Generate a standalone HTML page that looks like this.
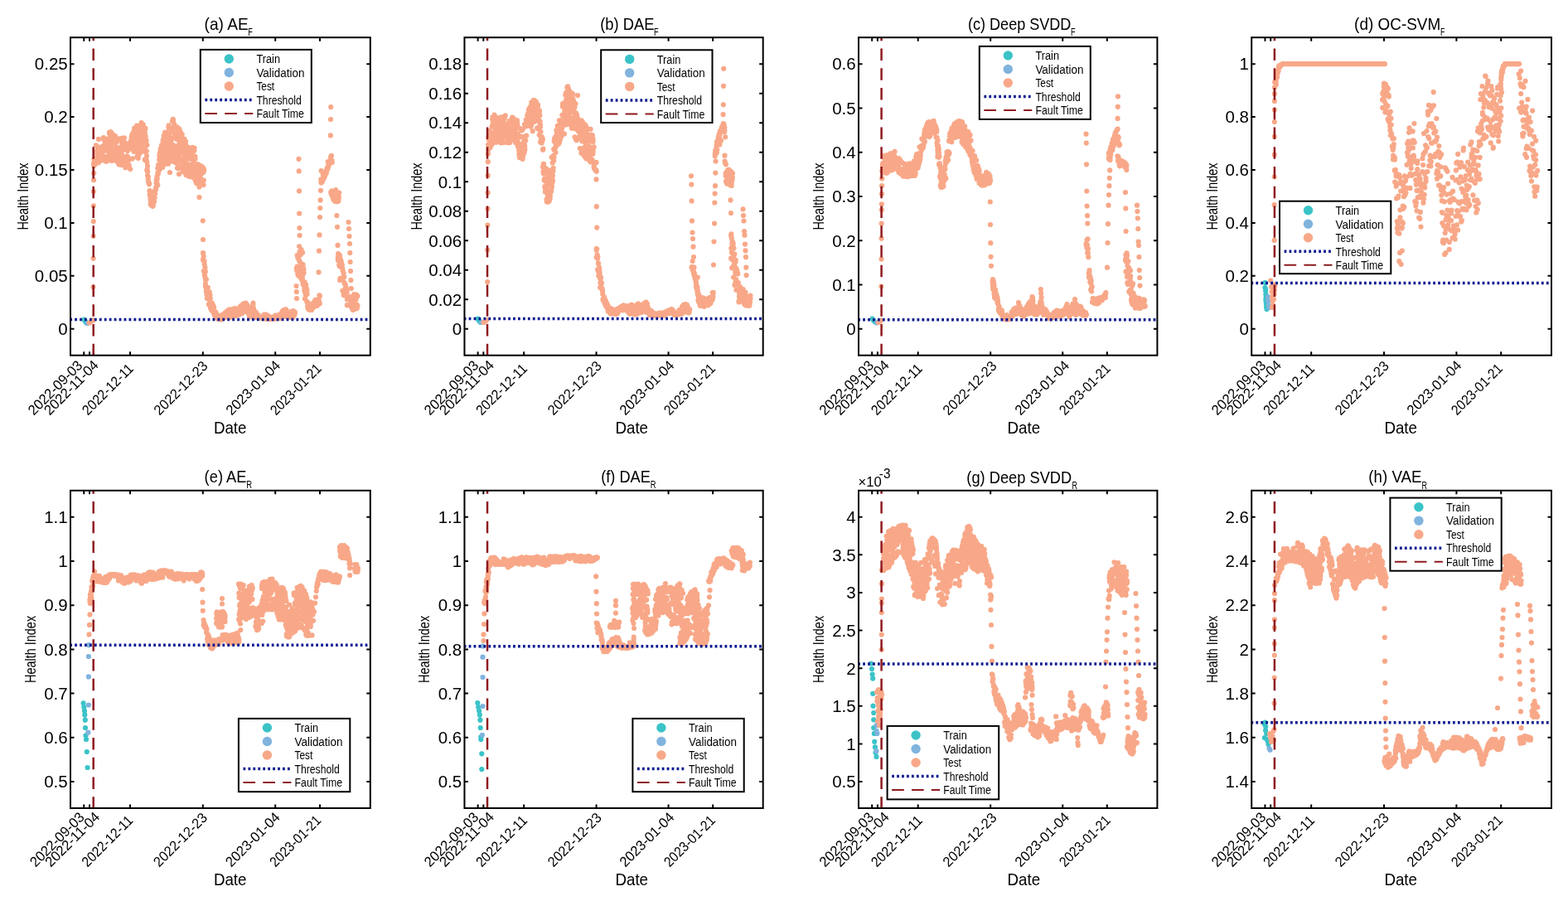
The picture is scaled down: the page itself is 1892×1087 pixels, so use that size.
<!DOCTYPE html>
<html><head><meta charset="utf-8"><title>Health Index</title>
<style>html,body{margin:0;padding:0;background:#fff;}svg{display:block;}</style></head>
<body><svg width="1892" height="1087" viewBox="0 0 1892 1087" font-family='"Liberation Sans", Arial, sans-serif' fill="#000">
<rect width="1892" height="1087" fill="#fff"/>
<clipPath id="cpa"><rect x="85.00" y="45.20" width="361.80" height="383.50"/></clipPath>
<g clip-path="url(#cpa)">
<path d="M101.5 385.5h0M102.6 387.3h0M103.6 388.8h0M104.4 389.8h0" stroke="#3bc3c8" stroke-width="6.2" stroke-linecap="round" fill="none"/>
<path d="M105.3 390.0h0" stroke="#80b3de" stroke-width="6.2" stroke-linecap="round" fill="none"/>
<path d="M113.1 199.1h0M113.2 199.3h0M113.1 196.7h0M113.5 192.2h0M114.1 199.1h0M114.2 195.1h0M114.1 192.0h0M114.5 197.0h0M115.0 193.1h0M115.4 197.7h0M115.3 194.0h0M115.7 195.2h0M115.9 175.3h0M115.7 193.7h0M116.5 192.2h0M116.8 190.0h0M117.1 185.7h0M116.5 194.7h0M117.4 181.4h0M117.0 182.0h0M117.2 181.8h0M117.7 196.1h0M118.2 185.8h0M117.9 177.4h0M118.8 196.2h0M118.1 190.7h0M118.9 191.7h0M118.9 188.9h0M119.0 190.0h0M118.8 187.7h0M119.0 167.9h0M119.3 185.9h0M119.5 194.3h0M120.2 194.5h0M120.1 193.3h0M120.1 187.4h0M120.3 184.0h0M120.6 191.4h0M121.2 190.7h0M120.9 190.3h0M121.7 189.5h0M121.8 177.7h0M122.2 182.5h0M121.8 186.2h0M122.3 193.2h0M122.7 189.2h0M122.7 191.8h0M123.1 184.8h0M123.5 191.6h0M123.3 183.9h0M123.6 181.4h0M124.0 176.3h0M124.4 189.3h0M124.2 192.4h0M124.8 167.8h0M125.0 193.3h0M125.3 189.3h0M124.9 166.1h0M125.2 189.1h0M125.3 188.6h0M125.6 180.7h0M125.8 188.6h0M126.6 170.8h0M126.9 174.5h0M126.7 173.0h0M126.7 181.6h0M127.3 192.7h0M127.5 190.3h0M127.9 194.7h0M127.9 194.1h0M128.2 194.7h0M128.8 194.6h0M128.4 172.8h0M129.1 181.9h0M129.3 194.1h0M129.3 168.4h0M129.2 171.7h0M129.4 189.2h0M129.9 192.2h0M129.5 190.7h0M130.1 167.6h0M130.1 177.4h0M130.7 182.6h0M130.4 182.8h0M130.5 178.3h0M131.3 170.4h0M131.4 182.0h0M131.0 175.3h0M131.8 188.8h0M131.9 159.8h0M132.1 187.0h0M132.0 176.3h0M132.0 161.1h0M132.6 166.2h0M132.7 178.1h0M132.9 159.7h0M133.3 159.0h0M132.9 184.5h0M133.5 161.4h0M133.0 168.4h0M133.5 161.5h0M133.3 173.2h0M133.5 159.7h0M133.7 182.8h0M134.3 160.0h0M133.7 170.8h0M134.0 167.4h0M133.9 170.1h0M134.7 162.4h0M134.1 175.2h0M135.0 173.5h0M135.0 180.4h0M135.3 186.1h0M134.8 193.9h0M135.1 180.0h0M135.1 192.2h0M135.7 166.6h0M135.3 187.3h0M135.7 169.3h0M136.4 165.4h0M136.3 162.3h0M136.3 163.9h0M136.4 170.6h0M136.9 193.1h0M137.2 172.6h0M137.0 181.9h0M137.7 169.6h0M137.6 166.5h0M137.9 165.9h0M138.3 190.0h0M138.1 170.5h0M138.9 189.9h0M138.7 187.6h0M139.0 164.0h0M139.0 166.3h0M139.3 179.1h0M139.5 184.3h0M140.0 185.0h0M140.0 172.0h0M140.4 188.9h0M140.1 177.9h0M140.5 194.3h0M140.6 183.6h0M140.7 168.9h0M141.1 185.9h0M141.8 178.5h0M141.1 187.2h0M141.8 195.4h0M142.0 193.6h0M141.8 167.3h0M142.0 189.0h0M142.2 189.8h0M142.4 195.0h0M142.4 192.8h0M142.6 178.3h0M142.6 196.4h0M142.8 191.2h0M143.2 195.9h0M143.0 179.0h0M143.1 196.2h0M143.4 198.3h0M143.9 167.4h0M144.0 196.6h0M144.2 193.4h0M144.6 197.5h0M144.3 189.4h0M145.0 188.0h0M145.0 195.1h0M145.1 183.1h0M145.8 194.8h0M145.7 199.0h0M145.9 188.3h0M146.2 170.8h0M146.7 185.0h0M147.2 174.6h0M147.4 166.6h0M147.2 176.3h0M147.8 193.2h0M147.5 191.1h0M148.0 177.8h0M148.0 198.9h0M148.6 171.3h0M148.6 180.8h0M148.6 173.7h0M149.3 169.7h0M149.0 189.2h0M149.3 170.6h0M150.0 166.3h0M150.1 172.3h0M149.8 173.8h0M150.1 175.0h0M150.6 173.0h0M150.4 175.1h0M150.5 178.0h0M150.5 189.9h0M150.6 172.2h0M150.9 191.1h0M151.7 191.5h0M151.6 191.4h0M151.5 189.1h0M151.5 202.2h0M151.8 195.5h0M152.4 194.2h0M151.8 190.1h0M152.1 178.5h0M152.9 190.6h0M152.5 197.2h0M152.9 188.4h0M153.2 201.1h0M153.3 178.5h0M153.7 177.4h0M153.5 190.5h0M153.9 182.1h0M154.1 189.0h0M154.6 175.6h0M154.7 174.8h0M155.0 179.2h0M154.7 175.8h0M155.1 198.8h0M155.3 178.9h0M155.6 175.7h0M155.8 174.3h0M155.7 179.6h0M156.0 192.8h0M156.5 179.5h0M155.8 199.6h0M156.5 172.7h0M156.6 175.4h0M157.2 204.0h0M156.8 172.8h0M157.3 171.5h0M157.9 170.2h0M158.0 169.8h0M157.7 171.3h0M158.7 168.1h0M158.3 175.8h0M158.6 166.8h0M158.8 167.7h0M158.8 165.4h0M158.8 165.0h0M159.6 167.1h0M159.1 172.1h0M159.4 162.4h0M160.0 162.0h0M159.7 164.8h0M160.1 161.4h0M159.8 191.4h0M160.2 172.4h0M160.3 180.4h0M160.5 160.5h0M160.7 162.3h0M160.9 176.7h0M160.8 162.2h0M161.1 179.3h0M161.6 182.8h0M161.4 166.4h0M161.6 165.0h0M162.2 158.2h0M161.8 157.5h0M162.7 181.1h0M162.4 171.4h0M162.5 169.2h0M162.2 154.7h0M162.5 182.7h0M163.1 172.2h0M163.2 174.6h0M163.2 178.6h0M163.5 157.7h0M163.5 177.3h0M163.2 160.6h0M164.2 179.3h0M163.8 180.0h0M164.3 155.1h0M164.0 179.4h0M164.8 166.9h0M164.6 163.4h0M165.0 172.6h0M164.7 162.0h0M165.1 151.7h0M164.7 160.3h0M165.1 180.7h0M165.6 168.7h0M165.1 160.5h0M165.4 189.4h0M165.3 174.1h0M165.8 167.8h0M165.7 168.5h0M166.0 188.2h0M166.1 188.2h0M166.1 180.7h0M166.8 169.7h0M166.6 181.9h0M167.0 185.3h0M167.2 184.8h0M166.8 190.8h0M167.0 183.4h0M167.5 164.2h0M167.4 187.0h0M167.2 183.0h0M167.3 157.1h0M168.2 185.5h0M168.2 182.5h0M168.1 177.3h0M167.9 152.0h0M168.4 168.3h0M168.5 161.4h0M168.8 164.8h0M169.1 162.7h0M169.3 165.8h0M168.9 162.7h0M169.5 171.9h0M169.7 171.6h0M170.0 159.0h0M169.6 175.9h0M170.1 163.1h0M170.3 181.4h0M170.3 150.8h0M170.1 176.4h0M170.6 148.2h0M170.7 172.8h0M170.9 182.9h0M170.8 169.8h0M171.8 151.8h0M171.5 172.0h0M171.7 150.1h0M171.6 156.9h0M172.4 151.1h0M171.9 151.3h0M172.7 150.2h0M172.9 154.4h0M172.6 168.8h0M172.5 158.3h0M173.2 179.5h0M173.2 168.3h0M173.3 170.6h0M173.8 170.4h0M174.0 170.5h0M174.2 156.1h0M173.6 155.0h0M173.6 169.8h0M174.2 165.5h0M174.1 162.1h0M174.7 192.7h0M174.8 161.8h0M174.9 177.7h0M174.9 160.6h0M174.7 164.4h0M175.0 156.2h0M175.6 183.1h0M175.4 165.6h0M175.5 154.8h0M176.1 172.0h0M175.7 164.8h0M176.5 169.4h0M176.4 192.2h0M176.8 182.3h0M176.4 170.3h0M176.8 194.0h0M177.0 188.1h0M177.3 195.6h0M177.4 175.1h0M177.7 205.3h0M177.2 205.6h0M177.6 204.6h0M178.0 200.2h0M178.0 212.1h0M178.1 207.2h0M178.8 213.2h0M178.8 216.6h0M179.0 219.1h0M179.6 220.4h0M179.9 222.3h0M179.6 220.5h0M180.3 221.8h0M180.5 230.2h0M180.8 233.3h0M180.7 235.3h0M181.1 235.1h0M181.5 240.9h0M181.4 237.5h0M181.7 246.4h0M181.9 243.9h0M182.5 240.2h0M182.4 247.4h0M182.7 235.9h0M182.8 245.2h0M183.1 246.0h0M183.6 245.3h0M183.6 244.6h0M184.0 243.9h0M184.2 232.8h0M184.3 248.8h0M184.5 246.8h0M184.5 243.4h0M184.9 248.0h0M185.1 237.3h0M185.4 238.8h0M185.8 242.7h0M186.1 243.2h0M185.9 232.3h0M186.2 230.9h0M186.7 238.6h0M186.9 233.1h0M187.2 230.2h0M187.3 230.5h0M187.2 233.6h0M188.2 226.2h0M188.0 228.8h0M187.9 227.7h0M188.5 220.8h0M189.1 218.3h0M188.7 216.9h0M189.2 218.8h0M188.9 216.7h0M189.7 215.9h0M189.5 212.9h0M190.3 223.2h0M190.4 208.7h0M190.6 209.8h0M190.4 203.0h0M191.0 209.6h0M191.3 200.0h0M191.1 198.9h0M191.4 199.1h0M191.8 204.2h0M191.7 200.1h0M191.9 199.0h0M192.2 192.8h0M192.4 205.1h0M192.3 187.9h0M193.1 186.0h0M192.9 184.4h0M193.2 185.8h0M193.6 196.5h0M193.6 180.5h0M193.7 179.6h0M193.8 182.3h0M193.9 200.3h0M194.3 179.5h0M194.2 202.5h0M194.6 196.6h0M194.9 178.0h0M194.7 177.9h0M195.0 175.3h0M195.5 184.4h0M195.7 185.6h0M195.8 200.1h0M196.3 190.7h0M196.5 173.5h0M196.6 169.9h0M196.9 195.7h0M196.4 201.7h0M197.1 167.8h0M197.1 174.6h0M197.5 188.3h0M197.7 170.2h0M197.4 178.6h0M197.8 163.5h0M197.9 189.5h0M198.4 175.3h0M198.2 189.8h0M198.6 180.9h0M198.4 185.1h0M199.1 168.1h0M198.9 192.5h0M199.4 162.2h0M199.0 159.9h0M199.2 160.8h0M199.1 168.5h0M199.9 165.1h0M199.8 184.8h0M199.9 162.3h0M199.7 183.9h0M200.1 171.9h0M199.9 197.8h0M200.6 159.6h0M200.7 171.5h0M201.1 160.7h0M200.3 188.4h0M200.8 174.8h0M201.1 162.1h0M200.8 191.5h0M201.5 163.7h0M201.4 160.8h0M201.6 176.6h0M201.3 180.3h0M202.0 173.8h0M201.9 168.7h0M202.1 185.4h0M202.7 180.5h0M202.7 178.3h0M202.7 165.3h0M202.6 176.9h0M203.2 197.2h0M203.3 196.1h0M203.4 179.8h0M203.1 197.6h0M203.4 153.4h0M203.3 168.6h0M204.1 164.6h0M203.6 151.3h0M204.1 193.5h0M204.1 177.7h0M204.4 172.8h0M204.1 154.8h0M204.2 177.9h0M204.8 176.2h0M204.4 176.2h0M205.0 191.2h0M205.2 185.0h0M205.6 185.3h0M205.7 169.1h0M205.5 194.6h0M205.7 171.4h0M205.9 189.4h0M206.1 187.9h0M206.5 175.5h0M206.0 193.7h0M206.1 191.3h0M206.5 178.0h0M206.5 170.1h0M207.3 167.6h0M207.1 185.0h0M207.4 177.1h0M207.0 159.4h0M207.3 192.7h0M207.4 194.5h0M207.9 146.2h0M207.7 174.4h0M208.2 192.2h0M207.9 188.6h0M208.6 146.2h0M208.2 181.6h0M208.6 175.8h0M209.0 186.9h0M209.0 144.4h0M208.8 154.1h0M208.7 143.9h0M209.3 186.0h0M209.1 166.2h0M209.4 189.8h0M209.6 188.7h0M209.8 148.8h0M209.7 193.8h0M210.5 193.3h0M210.0 175.5h0M210.9 193.6h0M210.8 152.6h0M210.7 193.8h0M210.8 176.2h0M210.9 195.4h0M211.2 162.5h0M211.5 193.6h0M211.4 195.9h0M211.2 192.9h0M211.8 188.5h0M211.9 186.3h0M212.2 195.4h0M212.1 177.9h0M211.9 154.2h0M212.2 192.7h0M212.5 159.6h0M212.3 195.4h0M212.6 191.6h0M212.9 193.4h0M212.8 153.5h0M213.2 165.9h0M212.9 152.9h0M213.5 183.0h0M213.1 167.8h0M213.3 194.4h0M213.6 190.7h0M213.7 156.6h0M214.1 161.2h0M214.0 202.8h0M214.7 168.7h0M214.2 191.2h0M214.7 199.2h0M214.6 154.3h0M215.0 183.6h0M215.0 198.2h0M215.3 187.3h0M215.4 201.9h0M215.5 203.2h0M215.0 163.3h0M215.6 175.2h0M215.8 194.3h0M215.4 188.0h0M215.7 161.1h0M216.3 200.8h0M216.2 160.8h0M216.1 161.6h0M216.5 155.9h0M216.7 186.4h0M217.0 170.4h0M217.1 158.4h0M217.0 162.2h0M217.2 159.2h0M217.5 168.3h0M217.3 173.5h0M217.7 166.1h0M217.9 163.9h0M217.5 158.9h0M217.5 169.9h0M217.9 179.1h0M218.2 203.3h0M218.3 160.9h0M218.0 174.0h0M218.8 169.8h0M218.7 164.0h0M219.1 192.1h0M218.8 179.0h0M219.3 193.9h0M219.2 162.4h0M219.1 171.4h0M219.7 162.1h0M219.7 203.3h0M220.1 177.9h0M219.6 183.5h0M220.7 169.3h0M220.2 168.6h0M220.7 195.7h0M221.4 172.2h0M221.1 207.2h0M221.2 169.4h0M221.3 206.0h0M221.4 175.1h0M221.6 201.2h0M222.3 176.1h0M222.0 184.8h0M222.4 182.6h0M222.5 168.1h0M222.7 189.1h0M222.6 173.1h0M222.3 167.6h0M223.0 197.4h0M223.3 192.3h0M223.1 197.4h0M223.5 179.8h0M223.6 172.2h0M223.4 191.8h0M224.1 174.5h0M224.0 170.5h0M224.2 193.0h0M224.2 178.3h0M224.9 179.0h0M224.7 199.6h0M224.7 176.3h0M224.4 210.9h0M225.1 189.0h0M224.9 202.9h0M224.9 181.5h0M225.5 200.5h0M225.8 184.4h0M225.6 206.7h0M225.9 190.7h0M226.1 210.5h0M226.1 211.5h0M226.0 183.7h0M226.2 188.6h0M226.1 197.8h0M226.7 206.8h0M226.9 188.4h0M227.0 209.2h0M226.9 210.0h0M227.3 210.6h0M227.5 204.1h0M227.6 178.1h0M228.0 212.0h0M227.9 199.3h0M228.1 212.8h0M228.6 212.1h0M228.9 208.1h0M228.8 204.0h0M229.1 191.7h0M228.8 211.6h0M229.2 212.9h0M229.4 179.4h0M229.4 210.6h0M229.6 182.0h0M230.0 205.9h0M230.6 205.7h0M230.8 183.6h0M230.7 211.8h0M230.9 187.9h0M231.2 186.6h0M230.9 198.4h0M231.1 191.5h0M231.5 204.2h0M231.3 201.5h0M232.0 208.8h0M232.3 183.2h0M231.8 181.1h0M232.3 177.9h0M232.4 198.7h0M232.2 185.0h0M232.6 187.5h0M232.4 198.2h0M232.7 188.8h0M233.2 180.1h0M233.1 214.0h0M233.5 201.3h0M233.9 200.6h0M233.6 194.3h0M233.9 204.8h0M234.1 206.5h0M234.4 181.7h0M234.8 208.2h0M234.6 178.7h0M234.7 200.4h0M234.7 199.4h0M235.4 188.9h0M235.4 215.7h0M235.4 214.7h0M235.5 191.8h0M235.7 209.0h0M235.7 218.0h0M235.8 215.5h0M236.0 203.6h0M236.6 208.6h0M236.4 215.7h0M236.8 218.0h0M237.1 221.0h0M237.2 217.5h0M238.0 218.9h0M237.8 208.9h0M238.0 214.3h0M237.8 218.8h0M238.1 213.3h0M238.7 205.8h0M238.3 216.1h0M238.5 198.0h0M238.8 204.1h0M239.6 217.8h0M239.3 219.1h0M239.7 205.0h0M240.4 225.6h0M239.9 219.0h0M240.1 218.5h0M240.9 216.1h0M241.0 206.9h0M240.9 206.9h0M241.2 199.7h0M241.3 200.3h0M241.7 203.9h0M241.9 220.0h0M241.6 218.2h0M242.1 200.8h0M241.9 214.9h0M242.6 205.1h0M242.8 202.2h0M243.2 216.8h0M243.1 201.6h0M243.0 200.5h0M243.2 209.6h0M243.2 205.1h0M243.6 201.4h0M243.7 204.5h0M244.4 221.8h0M243.9 204.8h0M244.3 201.9h0M245.2 203.1h0M245.1 207.9h0M245.0 202.5h0M245.6 223.1h0M245.6 204.3h0M245.8 217.5h0M246.1 204.5h0M245.9 206.4h0M245.0 305.1h0M245.1 305.7h0M245.1 312.8h0M245.2 314.0h0M245.7 309.1h0M245.8 327.1h0M246.6 315.2h0M246.8 331.4h0M246.7 319.1h0M247.3 333.4h0M247.1 333.0h0M247.5 322.8h0M247.9 337.2h0M247.9 342.7h0M247.8 327.7h0M248.0 345.8h0M248.6 347.3h0M248.9 337.1h0M248.8 351.8h0M249.0 346.3h0M249.5 354.2h0M249.4 355.0h0M250.1 357.0h0M249.9 360.1h0M250.9 353.3h0M250.7 352.6h0M250.8 346.9h0M251.1 351.8h0M251.9 353.1h0M252.1 353.6h0M252.2 358.5h0M251.9 367.2h0M252.4 354.7h0M252.9 352.4h0M252.6 357.0h0M253.3 362.9h0M253.5 356.2h0M254.0 371.6h0M253.8 360.4h0M253.8 370.4h0M254.3 367.9h0M254.7 370.3h0M254.8 373.4h0M254.8 369.5h0M255.3 371.5h0M255.9 375.0h0M255.9 367.5h0M255.8 365.5h0M256.1 366.1h0M256.9 371.0h0M257.2 375.9h0M256.9 368.1h0M257.2 368.5h0M257.7 372.6h0M257.8 371.7h0M257.7 377.4h0M258.1 370.7h0M258.8 379.0h0M258.7 377.8h0M259.0 377.3h0M258.8 380.3h0M259.8 380.4h0M259.5 376.0h0M259.9 381.4h0M260.4 381.6h0M260.5 376.9h0M260.4 379.0h0M260.5 382.2h0M260.8 378.9h0M261.0 379.4h0M261.8 380.7h0M261.9 380.7h0M261.9 382.4h0M262.4 382.7h0M262.2 380.5h0M262.9 380.8h0M263.0 382.2h0M263.0 382.8h0M263.8 381.2h0M263.6 380.8h0M264.1 383.6h0M264.5 381.6h0M264.4 383.7h0M264.9 382.4h0M265.2 382.8h0M265.3 383.1h0M265.6 383.5h0M265.4 382.9h0M266.0 383.1h0M266.5 385.1h0M266.1 382.3h0M266.2 383.8h0M266.6 383.4h0M266.8 385.4h0M267.5 382.8h0M267.7 382.9h0M267.7 383.1h0M267.9 385.1h0M262.1 384.1h0M262.4 383.2h0M262.6 382.5h0M262.8 384.7h0M262.9 381.8h0M263.3 383.8h0M263.3 382.3h0M264.0 382.2h0M264.1 381.9h0M264.4 383.4h0M264.5 381.6h0M264.9 380.7h0M265.2 382.8h0M265.1 382.0h0M265.1 384.7h0M265.7 382.8h0M265.5 384.9h0M266.4 381.7h0M266.4 384.6h0M266.8 383.4h0M266.4 384.7h0M266.9 383.7h0M267.6 384.4h0M267.1 384.2h0M268.0 381.9h0M268.0 384.6h0M268.0 384.3h0M268.7 384.1h0M268.6 384.5h0M268.9 382.1h0M269.1 381.8h0M269.2 379.3h0M270.0 379.9h0M269.7 379.9h0M269.9 383.6h0M270.2 381.6h0M270.5 382.0h0M270.5 380.1h0M270.9 382.9h0M271.4 383.1h0M271.4 381.7h0M272.1 379.1h0M271.7 377.4h0M272.6 379.6h0M272.5 381.4h0M272.7 377.9h0M273.1 376.7h0M272.8 376.6h0M273.8 378.2h0M273.6 375.8h0M274.3 376.5h0M274.2 379.8h0M274.0 378.9h0M274.9 374.8h0M275.1 375.2h0M274.9 374.5h0M275.3 375.1h0M276.0 373.8h0M275.9 374.6h0M276.3 375.1h0M276.6 382.7h0M276.7 373.4h0M276.5 375.9h0M276.8 380.3h0M277.0 380.6h0M277.9 381.6h0M277.9 379.9h0M277.6 382.1h0M278.6 374.3h0M278.8 382.5h0M278.7 382.5h0M278.9 382.3h0M278.9 380.0h0M279.6 379.6h0M279.7 379.8h0M280.1 377.9h0M279.7 380.2h0M280.3 377.5h0M280.4 381.4h0M280.6 381.6h0M281.1 372.9h0M281.3 380.6h0M281.7 379.8h0M282.2 378.8h0M282.0 373.5h0M282.5 377.1h0M282.6 377.3h0M282.6 372.6h0M282.9 374.5h0M282.9 375.6h0M283.5 372.2h0M283.3 377.3h0M284.0 378.7h0M284.1 380.0h0M284.5 378.6h0M284.7 381.1h0M285.0 374.6h0M284.8 375.1h0M285.6 376.2h0M285.7 375.4h0M285.9 379.7h0M286.3 378.1h0M286.3 377.5h0M286.6 380.0h0M286.7 376.7h0M286.7 372.9h0M287.2 378.9h0M287.7 378.4h0M287.9 376.0h0M288.4 378.4h0M288.5 372.3h0M288.3 377.9h0M288.7 379.6h0M289.1 374.2h0M289.1 375.9h0M289.5 370.4h0M289.9 371.0h0M290.3 370.9h0M290.0 370.2h0M290.6 369.1h0M290.8 373.5h0M290.9 376.2h0M291.1 373.7h0M291.0 369.9h0M291.7 374.1h0M292.1 378.1h0M292.4 368.9h0M292.1 371.3h0M292.9 371.4h0M292.9 367.5h0M292.9 368.4h0M293.4 368.8h0M293.4 366.6h0M293.9 369.4h0M293.7 366.6h0M294.5 375.6h0M294.8 366.6h0M294.6 368.4h0M294.7 368.9h0M295.2 372.6h0M295.4 367.6h0M295.4 367.5h0M296.0 368.9h0M296.4 369.3h0M296.6 370.7h0M296.3 373.0h0M296.5 365.7h0M296.7 372.4h0M297.6 367.3h0M297.8 373.6h0M297.8 367.3h0M298.2 370.0h0M298.2 368.9h0M298.7 371.0h0M298.7 370.0h0M298.6 377.2h0M298.8 369.0h0M299.3 370.7h0M299.8 373.0h0M300.3 370.8h0M300.5 375.4h0M300.4 372.3h0M300.5 373.5h0M300.8 374.4h0M301.1 382.3h0M301.0 380.9h0M301.5 381.9h0M301.7 382.5h0M302.2 380.9h0M302.3 374.8h0M302.5 381.4h0M302.6 370.9h0M302.9 381.2h0M303.1 379.0h0M303.7 381.2h0M303.7 379.6h0M304.2 379.1h0M304.3 375.9h0M304.6 376.5h0M304.5 372.7h0M305.2 372.7h0M305.4 367.6h0M305.4 379.2h0M305.4 365.6h0M305.9 377.9h0M306.0 377.8h0M306.0 372.0h0M306.5 378.1h0M306.6 378.8h0M307.0 375.7h0M307.0 380.4h0M307.3 376.5h0M307.8 380.3h0M308.1 376.0h0M308.7 382.1h0M308.4 382.3h0M308.7 382.5h0M309.1 382.3h0M309.0 382.9h0M309.1 377.1h0M309.5 378.0h0M309.8 382.5h0M310.4 381.9h0M310.3 382.3h0M311.1 382.1h0M311.1 381.2h0M311.5 381.9h0M311.2 380.2h0M311.9 380.4h0M311.9 383.0h0M312.1 383.0h0M312.4 383.1h0M312.8 381.9h0M312.6 382.4h0M313.0 383.3h0M313.4 383.3h0M313.5 383.5h0M314.0 383.4h0M313.7 383.7h0M314.4 383.6h0M314.2 383.7h0M314.4 383.8h0M315.0 383.9h0M315.4 383.9h0M315.3 383.9h0M315.4 384.0h0M315.9 384.0h0M315.8 384.0h0M316.2 384.1h0M316.5 384.1h0M316.7 384.2h0M317.1 384.2h0M317.7 384.0h0M317.2 384.1h0M317.9 382.6h0M318.0 383.8h0M318.5 383.7h0M318.7 382.4h0M319.0 383.4h0M318.6 379.6h0M319.6 384.0h0M319.8 379.9h0M319.6 381.9h0M320.0 382.5h0M320.4 379.7h0M320.1 384.1h0M321.1 379.6h0M320.8 382.5h0M321.3 383.3h0M321.4 384.7h0M321.4 382.6h0M322.1 382.9h0M322.0 383.3h0M322.0 381.1h0M322.7 383.3h0M322.6 383.5h0M322.7 381.2h0M322.9 380.7h0M323.6 384.8h0M323.8 384.5h0M324.3 384.8h0M324.2 383.8h0M324.5 381.7h0M324.4 384.6h0M324.6 383.7h0M325.5 384.6h0M325.7 384.9h0M325.6 384.9h0M325.9 384.9h0M326.5 384.9h0M326.6 384.9h0M327.0 384.8h0M326.9 384.9h0M327.0 384.8h0M327.4 384.8h0M327.4 384.5h0M327.9 384.4h0M327.7 384.3h0M328.4 383.8h0M328.7 384.4h0M328.5 384.3h0M329.4 384.3h0M329.5 382.4h0M329.5 384.3h0M330.0 384.1h0M330.1 384.7h0M330.5 384.7h0M330.4 384.3h0M330.3 383.2h0M330.6 383.2h0M331.2 383.2h0M331.1 384.3h0M332.0 383.9h0M332.2 383.9h0M332.3 380.7h0M332.2 384.4h0M333.0 383.7h0M333.2 381.1h0M332.8 384.0h0M333.4 384.3h0M333.6 384.3h0M333.5 384.3h0M334.2 383.7h0M333.9 384.3h0M334.7 384.2h0M334.9 383.6h0M335.0 383.1h0M335.5 381.7h0M335.7 382.1h0M335.7 381.5h0M336.0 380.0h0M336.4 383.4h0M336.6 383.9h0M336.4 382.1h0M336.7 381.1h0M336.8 384.0h0M337.7 380.5h0M337.9 381.8h0M338.1 381.0h0M338.2 383.8h0M338.4 379.9h0M338.7 378.8h0M338.8 383.0h0M339.1 379.4h0M339.6 381.1h0M339.7 377.6h0M339.7 377.6h0M339.8 378.4h0M340.5 381.7h0M340.9 376.0h0M340.9 376.7h0M341.3 378.2h0M341.1 378.6h0M341.2 374.9h0M341.7 376.8h0M342.1 380.6h0M341.9 375.3h0M342.3 378.8h0M342.3 379.7h0M342.5 381.7h0M343.2 378.3h0M343.5 373.5h0M343.3 381.6h0M343.8 374.1h0M343.8 375.9h0M344.5 376.4h0M344.3 381.4h0M345.1 373.3h0M344.7 380.9h0M345.3 378.7h0M345.9 380.7h0M345.4 380.8h0M346.0 381.9h0M345.9 381.4h0M346.1 380.9h0M346.6 381.9h0M347.0 381.6h0M347.6 381.9h0M347.7 382.1h0M347.4 382.1h0M347.5 381.6h0M348.2 382.5h0M348.1 382.3h0M348.6 382.6h0M348.9 382.6h0M349.4 382.4h0M349.7 382.6h0M349.6 377.9h0M349.6 376.7h0M350.2 382.2h0M350.3 380.0h0M350.6 381.2h0M351.0 382.5h0M350.8 376.9h0M350.9 381.7h0M351.3 379.1h0M351.9 377.1h0M352.1 378.0h0M352.2 375.7h0M352.7 382.9h0M352.6 377.0h0M352.6 380.0h0M353.5 382.4h0M353.6 375.3h0M353.9 375.0h0M353.7 376.1h0M354.2 376.9h0M354.6 376.6h0M354.2 380.1h0M355.1 380.5h0M355.1 376.9h0M355.1 380.6h0M355.2 380.3h0M355.9 378.2h0M355.8 376.5h0M358.1 326.3h0M357.8 324.1h0M358.6 321.7h0M359.0 325.8h0M358.6 308.0h0M359.3 330.6h0M359.5 323.9h0M359.4 331.2h0M359.3 311.1h0M360.1 332.4h0M359.7 328.0h0M360.2 327.3h0M360.2 312.2h0M360.6 308.4h0M360.6 309.6h0M360.8 330.6h0M360.7 326.0h0M361.1 297.3h0M361.1 330.7h0M361.4 315.2h0M361.1 327.7h0M361.5 329.5h0M361.4 303.9h0M361.5 333.6h0M362.0 325.1h0M362.2 333.3h0M362.3 316.5h0M362.5 334.7h0M362.7 307.3h0M363.1 335.2h0M363.3 332.5h0M363.0 304.5h0M362.9 334.5h0M363.2 333.0h0M363.6 332.8h0M363.5 301.1h0M364.4 336.2h0M364.3 320.1h0M364.3 338.0h0M364.2 335.1h0M364.8 336.3h0M365.1 304.8h0M365.1 338.7h0M365.1 332.5h0M365.5 339.9h0M365.5 319.2h0M365.6 343.0h0M365.7 321.2h0M366.0 328.9h0M365.9 326.8h0M366.8 344.3h0M366.5 325.2h0M366.5 329.4h0M366.6 341.2h0M367.3 350.5h0M367.6 340.3h0M367.4 347.3h0M367.5 342.0h0M368.0 360.4h0M367.9 348.2h0M368.2 353.0h0M368.9 348.7h0M369.0 356.2h0M369.2 343.5h0M369.0 346.8h0M369.4 348.0h0M369.7 347.8h0M370.0 350.5h0M369.7 348.4h0M370.4 350.2h0M370.2 363.9h0M370.9 364.4h0M370.6 354.7h0M371.1 369.6h0M371.0 365.2h0M371.5 370.1h0M371.7 367.3h0M371.7 372.5h0M372.6 370.0h0M372.8 372.8h0M373.0 372.6h0M372.7 372.6h0M372.8 373.2h0M373.7 372.5h0M373.3 372.3h0M373.7 373.8h0M373.7 371.0h0M374.6 369.5h0M374.9 366.8h0M374.6 372.5h0M375.3 372.2h0M375.1 368.1h0M375.9 370.8h0M375.9 367.3h0M376.0 373.9h0M376.6 367.2h0M376.6 369.2h0M376.9 367.2h0M377.0 367.3h0M377.4 369.9h0M377.2 371.8h0M377.9 368.7h0M378.1 366.6h0M378.2 365.7h0M378.7 370.2h0M378.9 366.5h0M379.2 367.6h0M378.9 364.9h0M379.7 365.0h0M379.6 364.3h0M379.7 363.8h0M380.4 368.8h0M380.2 362.7h0M380.5 363.0h0M380.8 361.8h0M380.7 361.7h0M381.2 361.9h0M381.4 362.6h0M381.4 363.4h0M381.6 367.5h0M381.8 368.8h0M382.4 369.0h0M382.4 363.5h0M382.7 361.9h0M383.1 366.4h0M383.2 368.3h0M383.7 361.6h0M383.7 365.1h0M384.4 366.4h0M384.4 362.0h0M384.8 362.9h0M384.9 366.2h0M384.8 366.4h0M385.4 356.4h0M385.3 364.4h0M385.9 357.2h0M385.8 366.3h0M387.4 220.2h0M387.6 220.4h0M388.2 220.0h0M388.2 219.5h0M388.8 219.0h0M388.8 218.8h0M389.3 218.3h0M389.0 217.8h0M389.5 215.1h0M389.3 217.2h0M389.7 210.2h0M390.2 215.7h0M390.3 212.2h0M391.0 215.1h0M391.0 212.6h0M391.3 214.3h0M391.1 210.9h0M391.5 210.8h0M392.0 212.4h0M392.1 211.9h0M392.0 208.8h0M392.7 210.1h0M392.9 210.2h0M393.0 209.0h0M393.7 208.5h0M393.9 208.5h0M393.7 205.9h0M394.3 204.7h0M394.5 203.4h0M394.4 204.0h0M394.5 204.9h0M395.3 203.6h0M395.0 204.2h0M395.4 203.4h0M395.7 200.6h0M396.0 201.8h0M395.8 195.2h0M396.8 199.2h0M396.5 195.9h0M396.6 195.8h0M396.9 198.1h0M397.5 196.5h0M397.4 196.4h0M398.2 196.2h0M397.9 195.4h0M398.7 192.7h0M398.7 193.1h0M399.2 193.3h0M399.5 193.0h0M399.2 189.1h0M399.9 187.8h0M400.0 194.4h0M399.8 194.9h0M400.1 193.2h0M400.5 193.9h0M400.5 195.8h0M400.7 195.9h0M399.2 232.1h0M399.6 233.4h0M399.6 234.0h0M400.5 234.6h0M400.4 230.4h0M400.9 236.0h0M400.9 236.6h0M401.4 237.0h0M401.3 237.8h0M401.7 238.3h0M401.9 239.1h0M402.0 239.2h0M402.5 240.1h0M402.5 241.0h0M403.0 241.0h0M403.3 241.9h0M403.2 239.0h0M404.0 241.7h0M404.2 242.0h0M404.1 240.1h0M404.1 242.7h0M404.8 240.8h0M404.8 230.3h0M405.1 229.0h0M405.2 241.3h0M405.8 242.1h0M406.0 240.4h0M406.0 243.2h0M406.2 241.7h0M406.4 235.4h0M407.0 241.8h0M406.9 237.5h0M407.2 236.0h0M407.7 243.0h0M407.5 242.8h0M408.3 241.2h0M408.3 242.5h0M408.7 239.7h0M408.8 237.6h0M409.1 232.7h0M407.8 314.0h0M407.8 310.7h0M408.1 306.2h0M408.2 312.6h0M408.5 307.4h0M408.3 307.2h0M408.7 307.3h0M409.1 307.6h0M409.2 319.5h0M409.1 313.2h0M409.5 308.0h0M410.0 308.1h0M409.8 321.3h0M410.0 311.6h0M410.1 337.9h0M410.3 311.0h0M410.5 335.8h0M410.9 316.8h0M411.0 320.6h0M411.1 316.1h0M411.3 314.0h0M411.6 315.4h0M411.7 317.7h0M412.0 317.1h0M412.1 321.0h0M412.8 319.6h0M412.5 320.3h0M413.3 323.9h0M413.3 350.8h0M413.1 323.6h0M413.6 326.6h0M413.6 336.5h0M413.7 336.3h0M414.4 333.9h0M414.6 329.5h0M414.8 334.5h0M414.6 353.5h0M414.7 356.1h0M414.6 333.5h0M415.3 334.2h0M415.5 341.7h0M415.8 342.1h0M415.6 341.2h0M416.1 350.2h0M416.6 348.0h0M416.3 349.3h0M416.6 355.8h0M416.8 343.5h0M417.4 346.7h0M417.4 356.5h0M417.6 347.9h0M418.3 349.7h0M418.3 355.7h0M418.8 368.2h0M418.9 361.2h0M418.6 353.3h0M422.6 368.7h0M422.9 358.2h0M423.5 364.1h0M423.7 359.7h0M423.4 361.5h0M423.8 362.4h0M424.1 367.5h0M424.5 371.2h0M424.7 364.2h0M425.0 368.3h0M425.0 372.2h0M425.0 362.5h0M425.6 359.2h0M425.8 374.0h0M426.0 365.3h0M426.5 366.4h0M426.3 371.4h0M426.8 361.5h0M427.3 355.0h0M427.3 357.7h0M427.7 361.2h0M428.0 361.5h0M428.4 370.1h0M428.1 372.8h0M428.7 366.6h0M428.9 358.4h0M428.8 360.1h0M429.1 360.7h0M429.9 367.5h0M429.6 361.0h0M430.3 369.7h0M430.0 355.5h0M430.6 357.9h0M430.6 367.5h0M430.7 372.1h0M431.1 369.8h0M431.5 357.0h0M431.5 369.2h0M107.9 389.4h0M109.5 388.0h0M111.0 386.5h0M112.4 386.4h0M112.5 346.3h0M112.6 311.8h0M112.7 284.8h0M112.8 267.1h0M112.9 248.3h0M113.0 231.0h0M113.1 217.2h0M113.2 208.9h0M113.3 200.0h0M240.5 238.0h0M244.8 266.3h0M245.0 289.0h0M360.5 191.8h0M360.7 206.4h0M361.0 230.4h0M361.2 257.5h0M361.4 275.0h0M361.6 284.0h0M357.5 345.0h0M357.8 352.0h0M358.0 360.0h0M384.5 328.4h0M385.0 302.7h0M385.5 283.4h0M386.0 262.0h0M386.3 251.0h0M386.6 241.4h0M387.0 229.8h0M387.3 216.6h0M387.6 206.0h0M398.8 163.4h0M399.0 144.0h0M399.2 129.1h0M406.4 260.0h0M407.0 273.8h0M407.5 295.9h0M420.5 268.0h0M421.0 276.0h0M421.5 285.0h0M422.0 294.0h0M422.3 305.0h0M422.6 316.0h0M423.0 327.0h0M423.4 338.0h0M423.8 348.0h0M216.0 210.0h0M205.0 208.0h0" stroke="#f8a888" stroke-width="6.2" stroke-linecap="round" fill="none"/>
<line x1="85.00" y1="385.60" x2="446.80" y2="385.60" stroke="#0b1a8f" stroke-width="3.5" stroke-dasharray="2.8 3.14" stroke-dashoffset="0.78"/>
<line x1="112.70" y1="45.20" x2="112.70" y2="428.70" stroke="#8f1a1f" stroke-width="2.5" stroke-dasharray="14.5 9.25" stroke-dashoffset="10.45"/>
</g>
<rect x="85.00" y="45.20" width="361.80" height="383.50" fill="none" stroke="#000" stroke-width="2.0"/>
<path d="M85.00 396.74h4.5M446.80 396.74h-4.5M85.00 332.82h4.5M446.80 332.82h-4.5M85.00 268.91h4.5M446.80 268.91h-4.5M85.00 204.99h4.5M446.80 204.99h-4.5M85.00 141.07h4.5M446.80 141.07h-4.5M85.00 77.16h4.5M446.80 77.16h-4.5M101.25 428.70v-4.5M101.25 45.20v4.5M108.00 428.70v-4.5M108.00 45.20v4.5M157.00 428.70v-4.5M157.00 45.20v4.5M244.80 428.70v-4.5M244.80 45.20v4.5M332.20 428.70v-4.5M332.20 45.20v4.5M386.00 428.70v-4.5M386.00 45.20v4.5" stroke="#000" stroke-width="2" fill="none"/>
<text x="81.70" y="404.04" text-anchor="end" font-size="20.5">0</text>
<text x="81.70" y="340.12" text-anchor="end" font-size="20.5">0.05</text>
<text x="81.70" y="276.21" text-anchor="end" font-size="20.5">0.1</text>
<text x="81.70" y="212.29" text-anchor="end" font-size="20.5">0.15</text>
<text x="81.70" y="148.38" text-anchor="end" font-size="20.5">0.2</text>
<text x="81.70" y="84.46" text-anchor="end" font-size="20.5">0.25</text>
<text transform="translate(40.70,501.70) rotate(-45)" font-size="17" textLength="84.6" lengthAdjust="spacingAndGlyphs">2022-09-03</text>
<text transform="translate(59.90,501.70) rotate(-45)" font-size="17" textLength="85.0" lengthAdjust="spacingAndGlyphs">2022-11-04</text>
<text transform="translate(106.10,501.70) rotate(-45)" font-size="17" textLength="79.0" lengthAdjust="spacingAndGlyphs">2022-12-11</text>
<text transform="translate(192.60,501.70) rotate(-45)" font-size="17" textLength="83.6" lengthAdjust="spacingAndGlyphs">2022-12-23</text>
<text transform="translate(279.50,501.70) rotate(-45)" font-size="17" textLength="84.6" lengthAdjust="spacingAndGlyphs">2023-01-04</text>
<text transform="translate(332.90,501.70) rotate(-45)" font-size="17" textLength="79.3" lengthAdjust="spacingAndGlyphs">2023-01-21</text>
<text x="257.90" y="523.20" font-size="21" textLength="39.6" lengthAdjust="spacingAndGlyphs">Date</text>
<text transform="translate(33.50,236.95) rotate(-90)" text-anchor="middle" font-size="17.5" textLength="81" lengthAdjust="spacingAndGlyphs">Health Index</text>
<text x="246.60" y="36.10" font-size="20.6" textLength="53.10" lengthAdjust="spacingAndGlyphs">(a) AE</text>
<text x="299.30" y="43.20" font-size="12" textLength="5.60" lengthAdjust="spacingAndGlyphs">F</text>
<rect x="241.80" y="59.90" width="134.00" height="88.10" fill="#fff" stroke="#000" stroke-width="2"/>
<circle cx="276.30" cy="71.00" r="5.7" fill="#3bc3c8"/>
<text x="309.40" y="76.20" font-size="14" textLength="28.60" lengthAdjust="spacingAndGlyphs">Train</text>
<circle cx="276.30" cy="87.50" r="5.7" fill="#80b3de"/>
<text x="309.40" y="92.70" font-size="14" textLength="58.00" lengthAdjust="spacingAndGlyphs">Validation</text>
<circle cx="276.30" cy="104.00" r="5.7" fill="#f8a888"/>
<text x="309.40" y="109.20" font-size="14" textLength="21.70" lengthAdjust="spacingAndGlyphs">Test</text>
<line x1="247.40" y1="120.50" x2="304.00" y2="120.50" stroke="#0b1a8f" stroke-width="3.5" stroke-dasharray="2.8 3.14"/>
<text x="309.40" y="125.70" font-size="14" textLength="54.30" lengthAdjust="spacingAndGlyphs">Threshold</text>
<line x1="247.30" y1="137.00" x2="305.30" y2="137.00" stroke="#8f1a1f" stroke-width="2" stroke-dasharray="14.7 9.2"/>
<text x="309.40" y="142.20" font-size="14" textLength="57.60" lengthAdjust="spacingAndGlyphs">Fault Time</text>
<clipPath id="cpb"><rect x="560.45" y="45.20" width="360.25" height="383.50"/></clipPath>
<g clip-path="url(#cpb)">
<path d="M576.5 384.5h0M577.8 386.5h0M579.0 388.0h0M580.0 389.0h0" stroke="#3bc3c8" stroke-width="6.2" stroke-linecap="round" fill="none"/>
<path d="M581.0 389.0h0" stroke="#80b3de" stroke-width="6.2" stroke-linecap="round" fill="none"/>
<path d="M589.4 180.6h0M589.3 179.6h0M589.4 165.4h0M589.6 167.0h0M589.9 168.6h0M589.9 163.2h0M590.0 174.1h0M590.4 158.1h0M590.7 157.9h0M590.6 163.4h0M590.7 159.9h0M591.3 165.1h0M591.5 178.0h0M591.4 177.1h0M591.6 165.0h0M591.6 177.4h0M591.8 172.9h0M592.3 175.7h0M592.3 168.3h0M592.7 168.6h0M592.5 160.7h0M592.8 175.3h0M593.2 162.4h0M593.2 160.9h0M593.7 166.7h0M593.9 170.1h0M594.0 171.3h0M593.5 152.5h0M593.7 168.8h0M594.5 141.4h0M594.2 144.2h0M594.8 148.8h0M595.1 160.0h0M594.6 159.8h0M595.0 144.4h0M595.1 152.2h0M595.8 140.6h0M595.8 143.4h0M595.5 172.3h0M596.0 140.3h0M596.4 153.8h0M596.7 146.9h0M596.8 150.6h0M596.5 138.6h0M596.9 162.2h0M597.4 161.9h0M597.0 152.3h0M597.3 168.2h0M597.8 162.8h0M597.9 165.9h0M598.4 159.9h0M598.4 143.8h0M598.2 164.0h0M598.6 151.5h0M598.6 159.3h0M598.8 168.8h0M598.9 171.7h0M599.3 171.2h0M599.9 165.0h0M599.5 169.0h0M600.2 142.2h0M599.9 150.1h0M600.8 157.3h0M600.5 157.1h0M601.0 156.6h0M601.2 148.5h0M601.5 167.5h0M601.8 161.8h0M601.5 170.6h0M601.5 166.1h0M601.7 166.9h0M602.2 144.6h0M602.8 166.2h0M602.7 160.2h0M603.4 162.8h0M603.3 151.9h0M603.4 160.8h0M603.3 164.7h0M603.8 170.1h0M603.8 143.2h0M603.7 162.8h0M604.0 169.2h0M604.5 172.3h0M605.0 171.1h0M604.9 141.4h0M605.1 154.6h0M604.8 152.8h0M605.1 166.0h0M605.1 155.9h0M605.4 144.7h0M605.8 168.9h0M605.8 171.4h0M606.5 149.7h0M606.2 169.1h0M606.3 162.6h0M606.7 143.1h0M607.2 163.0h0M607.1 172.0h0M606.8 151.8h0M606.9 159.7h0M607.6 159.0h0M607.3 150.9h0M607.9 153.9h0M607.8 148.7h0M608.2 143.5h0M608.0 140.8h0M608.5 157.4h0M608.8 159.6h0M608.4 150.8h0M608.9 142.2h0M608.6 148.8h0M609.0 162.8h0M609.9 153.6h0M609.4 161.0h0M609.7 139.3h0M610.0 159.6h0M610.5 164.7h0M610.7 164.6h0M610.3 164.1h0M611.0 150.1h0M611.2 171.8h0M611.2 171.8h0M611.9 160.2h0M612.0 171.2h0M611.9 161.3h0M612.1 159.6h0M612.2 165.5h0M612.7 151.5h0M612.6 166.9h0M612.5 166.0h0M613.2 165.2h0M613.0 167.3h0M613.5 171.6h0M613.5 170.4h0M613.5 172.1h0M613.6 171.8h0M614.1 153.2h0M613.7 164.7h0M614.1 169.8h0M614.7 168.0h0M614.5 146.2h0M615.1 171.7h0M614.8 155.6h0M615.1 172.1h0M615.4 165.9h0M615.6 165.0h0M616.2 163.6h0M615.8 156.2h0M616.3 165.2h0M616.6 145.2h0M616.9 160.2h0M616.9 152.8h0M617.4 144.9h0M617.4 166.0h0M617.1 146.3h0M617.4 145.7h0M617.9 145.5h0M617.5 144.4h0M617.9 148.2h0M618.6 141.9h0M618.2 141.7h0M618.8 141.9h0M619.3 149.5h0M619.1 145.6h0M619.7 144.3h0M619.6 161.7h0M619.6 165.7h0M619.7 154.3h0M620.0 143.8h0M620.8 145.5h0M620.7 145.7h0M620.6 169.6h0M620.9 144.2h0M621.2 151.7h0M621.3 145.0h0M621.6 168.7h0M621.7 158.7h0M621.5 156.6h0M622.0 160.3h0M621.9 145.1h0M622.0 172.0h0M622.5 146.2h0M622.7 169.7h0M622.7 170.7h0M622.6 148.4h0M622.9 160.9h0M622.9 166.8h0M623.1 153.3h0M623.7 150.7h0M623.9 154.1h0M624.0 145.3h0M624.4 149.2h0M624.5 173.7h0M624.4 149.3h0M625.0 171.9h0M624.8 175.5h0M624.9 161.5h0M625.1 176.9h0M625.8 166.3h0M625.4 164.5h0M625.9 176.3h0M626.1 178.5h0M626.3 185.9h0M626.3 154.4h0M626.2 181.4h0M626.9 188.8h0M626.9 190.0h0M627.4 187.3h0M627.8 185.8h0M627.7 185.5h0M628.2 174.7h0M628.4 188.9h0M628.1 190.3h0M628.2 180.7h0M628.3 190.5h0M628.2 164.6h0M629.0 190.4h0M628.6 189.8h0M629.2 177.3h0M628.9 186.2h0M629.2 157.5h0M629.4 189.4h0M629.4 181.1h0M630.0 157.0h0M629.6 187.5h0M629.9 179.9h0M630.5 165.1h0M630.2 191.3h0M630.7 191.8h0M630.8 155.7h0M631.3 172.8h0M631.2 180.7h0M631.0 188.3h0M631.0 175.6h0M631.4 185.0h0M631.6 184.3h0M632.2 169.9h0M631.6 178.6h0M632.4 181.3h0M632.4 170.9h0M632.0 184.3h0M632.6 184.6h0M632.7 179.3h0M632.5 168.2h0M633.0 174.9h0M632.9 150.1h0M633.4 180.7h0M633.3 177.6h0M633.8 150.4h0M633.7 164.5h0M634.3 169.5h0M634.5 152.4h0M634.3 164.3h0M634.8 149.2h0M634.7 144.5h0M635.3 163.5h0M635.6 147.0h0M635.6 151.1h0M635.6 147.7h0M635.5 146.6h0M635.7 146.3h0M635.7 150.5h0M636.3 139.1h0M636.5 140.0h0M636.4 139.3h0M636.8 138.7h0M637.0 148.3h0M637.3 138.7h0M637.5 139.6h0M637.3 136.8h0M637.9 138.2h0M637.7 136.5h0M638.2 134.2h0M637.9 132.4h0M638.3 137.4h0M638.4 138.2h0M638.7 135.0h0M638.8 130.8h0M638.9 135.6h0M639.3 151.9h0M639.6 139.0h0M639.6 130.9h0M640.0 150.4h0M640.0 129.2h0M640.3 145.4h0M640.2 134.2h0M640.4 130.0h0M640.9 127.5h0M640.5 152.7h0M641.0 127.7h0M640.8 142.3h0M641.3 123.6h0M641.4 126.4h0M641.3 150.8h0M641.9 131.6h0M642.1 135.0h0M642.3 126.4h0M642.3 130.3h0M642.2 134.5h0M642.5 130.4h0M642.7 137.8h0M642.6 127.4h0M642.7 158.2h0M643.5 121.2h0M643.2 136.8h0M643.0 124.6h0M643.2 121.9h0M643.9 121.0h0M643.7 136.3h0M643.9 124.3h0M644.6 123.7h0M644.0 136.2h0M644.7 121.0h0M644.9 130.7h0M644.6 146.8h0M644.8 122.5h0M645.1 127.6h0M645.6 127.0h0M645.3 146.5h0M645.1 130.0h0M646.0 122.7h0M646.0 123.9h0M646.3 144.2h0M646.4 125.8h0M646.8 130.3h0M646.7 122.5h0M646.8 127.7h0M646.8 140.1h0M647.3 129.9h0M647.5 126.3h0M648.1 144.6h0M648.2 154.4h0M648.0 126.9h0M648.0 127.5h0M648.6 126.1h0M648.4 137.4h0M648.5 129.9h0M649.1 126.8h0M649.0 141.2h0M648.9 128.2h0M649.7 144.6h0M649.8 135.9h0M649.6 133.7h0M649.8 133.2h0M649.9 155.9h0M650.7 162.8h0M650.8 133.3h0M650.9 138.1h0M651.0 134.0h0M651.4 139.2h0M651.4 149.0h0M651.1 153.8h0M651.6 146.4h0M652.0 150.7h0M652.5 159.1h0M652.1 171.6h0M652.0 152.9h0M653.0 167.8h0M652.4 159.0h0M652.8 169.3h0M653.0 168.0h0M653.6 172.4h0M653.6 170.6h0M653.9 170.8h0M653.8 165.1h0M654.4 169.0h0M654.6 169.3h0M654.8 167.7h0M655.0 180.4h0M655.1 180.7h0M655.5 179.6h0M655.7 197.9h0M655.1 201.4h0M655.5 207.2h0M655.8 209.2h0M656.1 197.8h0M656.6 203.4h0M656.8 201.8h0M657.2 225.2h0M656.6 217.4h0M656.8 216.7h0M657.3 215.4h0M657.4 216.2h0M657.9 231.5h0M658.4 217.5h0M658.2 218.6h0M658.1 204.3h0M658.2 228.6h0M658.6 230.6h0M658.7 208.8h0M659.3 203.5h0M659.6 223.9h0M659.5 240.8h0M659.6 242.8h0M659.8 230.4h0M660.0 243.4h0M660.3 230.4h0M660.6 234.7h0M660.7 237.9h0M660.8 220.7h0M660.8 238.1h0M660.6 219.8h0M661.5 234.0h0M661.4 211.9h0M661.1 243.7h0M661.0 229.5h0M661.4 241.1h0M661.8 235.5h0M661.5 240.7h0M661.9 236.8h0M662.7 242.5h0M662.5 237.6h0M662.8 214.2h0M662.9 240.3h0M663.5 240.5h0M663.5 240.4h0M663.0 219.1h0M663.6 239.3h0M663.2 238.3h0M663.9 236.3h0M663.5 205.8h0M663.9 232.9h0M663.9 229.5h0M664.9 222.7h0M665.1 229.6h0M665.1 231.1h0M664.8 210.2h0M665.5 226.8h0M665.6 226.4h0M665.6 222.4h0M665.3 217.3h0M665.9 224.8h0M665.6 189.8h0M666.0 216.8h0M666.3 212.1h0M666.1 220.8h0M666.2 216.0h0M667.0 218.2h0M666.7 196.4h0M667.0 212.1h0M667.4 206.5h0M667.4 203.8h0M667.6 202.9h0M668.2 180.2h0M668.1 187.5h0M668.2 194.1h0M668.7 170.4h0M668.5 190.1h0M669.1 167.6h0M669.6 168.2h0M669.6 179.2h0M669.5 169.7h0M669.8 165.6h0M670.4 184.1h0M670.6 177.2h0M670.7 173.5h0M670.4 165.0h0M671.1 169.9h0M671.4 157.0h0M671.5 173.6h0M671.7 174.4h0M672.0 159.4h0M671.8 162.6h0M672.7 169.6h0M672.3 169.2h0M672.9 168.2h0M672.8 171.6h0M672.7 151.9h0M673.7 163.1h0M673.8 153.4h0M674.0 173.8h0M673.9 161.0h0M674.3 171.5h0M674.1 165.0h0M674.9 145.3h0M675.0 172.1h0M675.3 168.3h0M675.5 164.3h0M675.5 150.7h0M676.0 160.8h0M676.0 168.6h0M676.5 165.2h0M676.2 146.0h0M676.1 167.4h0M676.3 147.7h0M676.5 150.6h0M677.2 157.9h0M677.0 162.6h0M676.8 145.2h0M677.6 164.2h0M677.6 151.9h0M678.2 154.6h0M678.0 159.8h0M678.3 138.8h0M678.3 152.9h0M678.8 147.0h0M678.4 148.0h0M678.8 128.6h0M679.1 128.2h0M679.4 125.0h0M678.9 125.3h0M679.2 127.0h0M679.2 145.0h0M679.9 125.1h0M680.1 124.4h0M679.6 160.8h0M680.3 127.3h0M680.2 149.0h0M680.9 161.4h0M680.6 139.0h0M681.4 148.7h0M681.4 134.1h0M681.8 123.8h0M681.2 133.9h0M681.7 145.5h0M682.0 150.0h0M681.5 141.4h0M681.9 134.4h0M682.3 132.5h0M682.2 114.8h0M682.4 142.5h0M682.9 126.0h0M682.7 150.6h0M682.9 148.0h0M683.0 111.9h0M683.1 142.6h0M682.8 126.9h0M683.3 120.2h0M683.6 111.6h0M683.6 144.7h0M684.2 118.4h0M683.9 140.5h0M684.3 105.7h0M683.9 117.1h0M684.0 141.4h0M684.1 143.5h0M684.6 144.9h0M684.8 104.7h0M685.2 138.3h0M685.4 132.1h0M685.8 122.2h0M685.2 104.3h0M685.9 135.1h0M685.9 107.4h0M685.7 147.4h0M686.2 109.4h0M686.1 141.9h0M686.5 110.4h0M686.4 135.0h0M687.0 116.0h0M687.0 135.1h0M686.5 113.3h0M687.2 116.4h0M687.1 114.5h0M687.3 119.3h0M687.7 147.2h0M688.0 132.1h0M687.8 136.9h0M687.8 110.5h0M688.1 115.1h0M688.1 150.4h0M688.2 126.3h0M689.0 129.3h0M689.0 131.6h0M688.7 131.6h0M689.2 114.3h0M689.1 150.4h0M689.6 118.2h0M689.8 115.0h0M689.8 151.3h0M689.7 142.9h0M690.0 135.0h0M690.1 113.3h0M690.0 154.7h0M690.6 115.5h0M691.0 113.1h0M690.9 147.3h0M690.5 124.8h0M690.8 119.8h0M691.2 149.6h0M691.3 119.3h0M691.8 153.2h0M692.0 134.1h0M691.8 153.3h0M692.0 121.5h0M692.2 123.4h0M692.4 132.4h0M692.4 130.2h0M692.8 144.4h0M693.2 154.7h0M692.7 150.8h0M693.5 129.3h0M693.7 140.4h0M693.6 165.3h0M693.3 154.3h0M693.4 146.6h0M694.2 136.0h0M694.2 147.2h0M694.5 137.3h0M694.6 155.3h0M694.8 139.3h0M694.1 136.6h0M694.5 143.5h0M694.4 150.9h0M695.2 137.3h0M694.8 167.9h0M695.2 136.7h0M695.1 139.3h0M695.4 138.2h0M695.8 169.2h0M695.5 137.7h0M695.8 138.3h0M695.9 153.9h0M695.9 139.2h0M696.6 141.3h0M696.7 142.7h0M696.3 144.2h0M696.3 167.7h0M697.0 144.0h0M697.0 147.2h0M697.1 157.0h0M697.9 144.5h0M698.0 158.2h0M697.6 167.1h0M697.8 145.0h0M698.4 166.6h0M698.3 153.7h0M698.5 146.6h0M698.5 145.2h0M698.7 147.5h0M698.7 147.6h0M699.1 154.8h0M698.6 149.6h0M699.4 159.1h0M699.7 163.3h0M699.6 151.8h0M699.5 156.0h0M699.9 152.4h0M699.8 179.1h0M700.2 158.0h0M700.7 146.8h0M700.4 149.1h0M700.6 151.7h0M701.4 179.3h0M701.4 184.7h0M701.7 150.4h0M701.5 145.4h0M702.0 146.8h0M701.7 160.9h0M702.3 148.2h0M702.3 170.3h0M702.5 156.6h0M702.7 147.9h0M702.3 163.8h0M703.2 154.0h0M702.7 183.5h0M702.8 147.0h0M703.5 186.0h0M703.1 158.7h0M703.5 150.4h0M703.6 185.5h0M703.9 154.5h0M704.2 183.5h0M704.3 152.6h0M704.4 167.8h0M704.3 155.2h0M704.7 164.6h0M704.7 158.4h0M705.1 164.9h0M705.6 150.3h0M705.2 188.4h0M705.5 169.8h0M705.9 150.4h0M705.6 177.5h0M706.3 177.5h0M706.2 158.4h0M706.6 172.7h0M706.7 185.0h0M706.9 190.2h0M707.1 179.7h0M707.1 158.2h0M707.0 191.1h0M707.0 182.1h0M707.4 187.5h0M707.0 152.4h0M707.5 191.0h0M707.5 160.8h0M708.2 167.7h0M707.8 184.4h0M707.9 169.3h0M707.7 191.3h0M708.0 187.8h0M708.2 157.6h0M708.7 187.1h0M708.9 182.0h0M708.5 185.5h0M708.8 185.8h0M709.0 190.8h0M709.7 165.7h0M709.5 170.3h0M709.8 185.7h0M709.5 191.5h0M710.0 176.7h0M709.9 155.7h0M710.0 182.3h0M710.1 167.3h0M710.6 166.7h0M710.1 185.3h0M710.5 162.9h0M711.1 167.0h0M710.8 184.9h0M711.1 190.1h0M711.2 193.4h0M711.7 181.7h0M711.5 177.1h0M711.6 190.7h0M712.1 170.2h0M712.1 167.6h0M712.2 186.7h0M712.4 192.7h0M712.4 169.8h0M712.7 165.7h0M713.1 193.5h0M712.6 155.8h0M712.8 195.4h0M713.1 170.7h0M712.9 183.7h0M713.5 164.2h0M713.5 178.4h0M713.8 162.5h0M714.2 169.8h0M713.9 193.5h0M714.1 169.0h0M714.6 192.5h0M714.9 166.4h0M714.8 163.9h0M714.7 165.0h0M714.9 163.4h0M715.0 166.5h0M715.5 170.1h0M715.7 179.8h0M715.6 167.9h0M715.4 185.7h0M715.6 182.8h0M715.6 171.1h0M716.6 177.4h0M716.6 200.7h0M716.8 200.4h0M716.6 201.5h0M717.4 203.5h0M717.0 203.3h0M717.1 195.9h0M717.7 204.1h0M717.9 204.6h0M718.2 204.7h0M718.0 204.1h0M718.9 205.2h0M718.9 205.7h0M718.8 205.8h0M719.4 206.1h0M719.3 205.1h0M719.8 206.5h0M719.5 195.9h0M719.8 206.8h0M719.7 310.6h0M719.7 300.0h0M719.7 301.8h0M719.9 301.3h0M720.3 300.6h0M720.4 310.3h0M720.7 307.6h0M721.1 311.7h0M721.1 325.3h0M721.3 310.0h0M721.9 317.6h0M721.9 327.3h0M722.0 318.0h0M722.1 317.9h0M722.3 332.7h0M723.1 322.8h0M723.3 324.2h0M723.4 327.9h0M723.6 329.1h0M724.1 336.1h0M723.7 329.6h0M724.1 346.8h0M724.5 341.2h0M725.1 334.5h0M724.8 336.6h0M725.1 346.9h0M725.5 343.1h0M725.9 341.4h0M726.0 347.8h0M726.1 348.5h0M726.6 349.9h0M726.7 348.4h0M727.1 351.6h0M727.2 354.8h0M727.5 361.2h0M727.3 355.1h0M727.9 362.0h0M727.8 362.4h0M728.2 360.6h0M728.9 361.0h0M729.0 358.7h0M728.9 358.3h0M729.2 359.5h0M729.7 366.1h0M729.8 360.6h0M730.0 363.9h0M730.3 364.0h0M730.8 368.8h0M731.0 365.8h0M731.1 363.4h0M731.3 365.2h0M731.1 368.6h0M731.7 365.2h0M731.8 370.1h0M731.9 368.7h0M732.5 371.2h0M732.5 366.9h0M732.6 371.3h0M733.0 369.5h0M733.5 371.9h0M733.6 375.4h0M733.8 369.0h0M733.9 373.5h0M734.0 370.7h0M734.8 371.8h0M734.7 375.3h0M735.0 371.5h0M735.6 371.6h0M735.8 371.9h0M736.0 374.4h0M735.8 373.6h0M736.4 371.9h0M736.6 377.6h0M736.5 378.2h0M737.1 372.7h0M737.0 378.5h0M737.1 377.3h0M737.7 373.3h0M738.1 372.7h0M738.2 372.9h0M738.0 376.5h0M738.5 376.6h0M738.5 376.2h0M739.0 374.9h0M739.2 373.5h0M739.2 373.4h0M740.0 378.4h0M739.7 374.7h0M740.2 375.2h0M740.4 375.6h0M740.2 375.8h0M740.9 375.0h0M741.0 376.1h0M741.4 375.0h0M741.4 374.6h0M741.7 375.8h0M741.7 377.0h0M741.9 376.6h0M742.5 374.3h0M742.2 374.1h0M743.3 374.2h0M742.9 379.1h0M743.2 377.0h0M743.6 374.3h0M743.5 374.0h0M744.1 377.6h0M744.5 374.9h0M744.6 375.5h0M744.8 373.5h0M745.3 378.0h0M745.1 373.6h0M745.1 372.7h0M746.0 375.3h0M745.9 374.5h0M746.2 375.3h0M746.5 373.9h0M746.7 374.8h0M746.7 372.3h0M747.3 374.7h0M747.6 371.5h0M747.3 371.6h0M747.6 373.3h0M748.4 372.4h0M748.3 371.6h0M748.3 372.3h0M748.6 370.9h0M748.9 371.1h0M749.4 370.2h0M749.2 370.9h0M749.6 372.0h0M750.1 372.3h0M750.6 369.9h0M750.8 373.3h0M750.5 369.7h0M751.2 369.5h0M751.5 374.3h0M751.2 370.3h0M752.0 369.2h0M752.2 368.7h0M752.5 368.8h0M752.4 368.3h0M753.0 371.1h0M753.2 369.5h0M753.4 369.0h0M753.0 370.5h0M753.5 369.3h0M754.0 371.0h0M754.4 369.8h0M753.9 370.1h0M754.5 369.6h0M754.6 370.0h0M755.3 369.7h0M755.3 371.9h0M755.7 370.1h0M756.0 370.7h0M755.8 374.4h0M755.9 372.9h0M756.2 371.6h0M757.0 371.5h0M757.3 370.1h0M757.1 370.2h0M757.7 369.8h0M758.0 376.3h0M758.1 375.5h0M757.7 369.1h0M758.5 371.5h0M758.6 377.0h0M759.2 374.4h0M759.1 374.7h0M759.2 371.2h0M759.5 378.4h0M760.1 373.6h0M759.7 373.0h0M759.9 378.6h0M760.8 373.2h0M760.4 375.9h0M761.0 371.6h0M761.0 370.8h0M761.1 374.7h0M762.0 367.7h0M762.1 372.2h0M762.6 377.7h0M762.7 370.7h0M762.5 375.8h0M762.9 374.6h0M763.5 369.4h0M763.7 377.8h0M763.7 378.4h0M763.9 378.5h0M764.0 376.4h0M764.5 377.6h0M764.4 378.4h0M764.9 375.6h0M765.3 379.0h0M765.3 377.6h0M765.6 379.0h0M765.4 375.4h0M766.2 379.5h0M766.1 379.1h0M766.1 378.2h0M767.0 375.6h0M766.8 379.1h0M767.1 379.0h0M767.5 371.9h0M767.9 373.7h0M767.5 368.3h0M767.9 375.9h0M768.4 377.8h0M768.3 378.2h0M769.0 378.6h0M769.1 376.8h0M769.3 377.1h0M769.2 378.5h0M769.9 371.5h0M770.4 368.9h0M770.1 371.7h0M770.1 366.4h0M770.7 368.8h0M771.3 377.3h0M771.2 374.7h0M771.2 372.0h0M771.9 368.7h0M771.9 373.1h0M772.4 376.6h0M772.2 368.3h0M772.9 376.9h0M772.5 368.5h0M772.7 373.7h0M773.1 371.0h0M773.5 371.1h0M773.8 377.1h0M773.7 374.5h0M774.3 371.0h0M774.7 370.8h0M775.0 369.8h0M775.4 372.0h0M775.2 368.8h0M775.4 368.3h0M776.1 368.8h0M775.6 370.9h0M776.1 367.0h0M776.3 370.2h0M776.5 370.4h0M777.1 366.1h0M777.6 368.5h0M777.6 368.2h0M777.8 368.5h0M777.9 365.6h0M778.5 371.1h0M778.5 369.4h0M778.4 368.6h0M779.1 369.5h0M779.4 370.6h0M779.6 364.7h0M779.4 376.6h0M779.7 365.1h0M779.7 370.3h0M780.4 370.0h0M780.3 373.9h0M780.9 366.5h0M781.1 369.7h0M781.6 372.4h0M781.5 371.3h0M782.1 373.0h0M781.6 371.6h0M782.1 371.8h0M782.5 373.2h0M782.8 373.7h0M782.6 376.2h0M783.3 376.9h0M783.7 376.8h0M783.7 379.3h0M784.2 379.5h0M783.8 379.9h0M784.0 379.6h0M784.7 379.6h0M784.7 379.6h0M785.0 379.5h0M785.6 379.3h0M785.2 376.4h0M786.1 376.1h0M786.0 375.1h0M786.3 378.6h0M786.4 375.5h0M786.3 377.2h0M786.6 379.6h0M787.1 380.1h0M787.1 380.2h0M787.3 379.1h0M787.7 377.7h0M788.0 379.7h0M788.7 380.4h0M788.6 379.8h0M789.0 380.6h0M789.4 379.3h0M789.1 380.7h0M789.7 378.1h0M789.5 378.9h0M790.1 380.7h0M790.4 378.1h0M790.5 380.0h0M791.0 380.8h0M790.7 379.7h0M791.1 380.8h0M791.1 380.2h0M791.4 380.6h0M791.8 380.2h0M792.1 380.3h0M792.1 380.7h0M792.7 378.9h0M792.6 380.4h0M793.4 380.7h0M793.6 380.7h0M793.7 379.4h0M794.2 379.1h0M794.1 380.6h0M794.6 379.2h0M794.8 379.2h0M794.7 380.5h0M794.9 377.8h0M795.2 378.8h0M795.2 379.4h0M795.9 377.4h0M795.8 378.2h0M796.4 380.3h0M796.1 379.9h0M796.9 379.5h0M796.9 378.2h0M797.1 377.5h0M797.2 379.7h0M798.0 377.9h0M797.6 379.5h0M798.1 379.8h0M798.2 377.7h0M798.3 379.7h0M798.6 380.0h0M799.1 378.7h0M799.2 377.8h0M799.6 378.9h0M799.9 379.4h0M800.1 378.8h0M800.5 379.1h0M800.8 380.0h0M800.6 380.3h0M800.8 380.2h0M801.1 377.1h0M801.6 379.1h0M801.6 379.1h0M801.9 380.6h0M801.9 378.2h0M802.8 379.7h0M802.5 379.5h0M802.7 378.6h0M802.9 377.0h0M803.5 378.5h0M803.3 377.1h0M804.2 377.0h0M803.7 376.5h0M804.7 377.1h0M804.5 375.3h0M804.8 377.2h0M804.9 377.2h0M804.9 375.4h0M805.5 378.2h0M805.4 375.7h0M806.3 378.0h0M806.0 376.9h0M806.3 378.2h0M806.8 377.4h0M806.9 374.9h0M807.5 374.3h0M807.2 374.8h0M807.8 374.1h0M807.7 377.9h0M807.8 374.6h0M808.4 374.6h0M809.0 374.9h0M809.3 374.0h0M809.3 375.4h0M809.4 374.0h0M809.7 373.4h0M810.0 373.9h0M810.3 373.3h0M810.0 373.3h0M810.2 373.3h0M810.9 373.3h0M811.2 376.3h0M811.5 374.5h0M811.4 374.9h0M811.7 374.0h0M812.4 375.8h0M812.4 378.2h0M812.5 378.3h0M812.3 377.9h0M813.3 377.9h0M813.1 376.1h0M813.6 379.9h0M813.8 376.5h0M814.3 379.1h0M814.3 378.8h0M814.5 377.7h0M814.5 379.8h0M814.9 379.2h0M815.1 379.0h0M815.7 379.6h0M815.6 379.0h0M816.0 379.6h0M816.2 379.5h0M816.4 379.8h0M816.8 379.7h0M816.4 379.5h0M817.4 378.8h0M817.0 379.5h0M817.8 379.6h0M818.0 379.1h0M817.7 378.5h0M817.8 378.4h0M818.4 377.8h0M818.5 379.3h0M818.9 379.3h0M818.8 379.2h0M819.5 378.6h0M819.5 374.1h0M819.8 377.0h0M820.3 374.8h0M820.6 374.1h0M820.6 374.8h0M820.4 376.0h0M820.9 374.6h0M820.9 375.9h0M821.4 374.3h0M822.0 374.7h0M822.1 373.2h0M822.4 378.7h0M822.7 373.2h0M822.9 375.5h0M822.9 370.7h0M822.9 371.8h0M823.0 370.5h0M823.6 369.9h0M823.5 369.6h0M824.4 369.4h0M824.0 369.0h0M824.4 372.4h0M824.8 377.1h0M824.9 370.7h0M825.3 367.5h0M825.9 370.1h0M826.1 368.2h0M825.9 367.5h0M826.2 368.2h0M826.5 373.5h0M826.5 368.9h0M826.7 374.2h0M827.0 375.0h0M827.7 368.1h0M827.4 367.1h0M827.7 369.7h0M828.3 370.2h0M828.6 368.0h0M828.9 367.9h0M829.2 372.1h0M828.8 369.2h0M829.6 369.5h0M829.5 370.4h0M829.9 376.8h0M830.3 372.1h0M830.1 377.1h0M830.8 372.4h0M830.7 373.2h0M830.9 372.8h0M831.0 377.5h0M831.8 376.3h0M831.6 373.6h0M832.2 373.4h0M834.9 322.9h0M834.6 322.1h0M835.1 322.1h0M835.2 324.0h0M835.7 315.0h0M835.8 322.7h0M835.7 325.1h0M836.3 325.2h0M836.3 323.9h0M836.4 327.3h0M837.0 322.7h0M837.1 328.0h0M837.1 330.7h0M837.6 331.9h0M838.2 333.4h0M837.9 329.8h0M838.2 332.9h0M838.6 335.7h0M839.1 337.2h0M839.1 337.3h0M839.6 339.1h0M839.9 340.2h0M840.1 342.5h0M840.2 344.1h0M840.0 346.0h0M840.5 348.0h0M840.6 348.3h0M841.2 350.0h0M841.5 352.8h0M841.4 346.4h0M841.8 334.5h0M841.8 350.7h0M841.9 355.1h0M842.4 356.8h0M842.7 360.8h0M842.0 351.0h0M842.5 362.0h0M842.5 362.7h0M843.3 355.4h0M843.6 364.2h0M843.4 364.7h0M844.0 365.1h0M844.3 364.4h0M844.3 366.7h0M844.6 367.4h0M844.7 366.0h0M844.8 368.7h0M845.1 366.5h0M845.0 365.1h0M845.1 365.3h0M845.9 368.3h0M845.9 362.2h0M846.2 365.3h0M846.4 368.9h0M846.4 362.7h0M847.2 369.2h0M847.4 366.4h0M847.6 364.2h0M847.3 359.0h0M847.9 359.6h0M847.9 361.1h0M848.0 360.1h0M848.9 359.7h0M849.2 359.9h0M848.8 363.8h0M849.5 361.0h0M849.6 362.9h0M849.8 369.8h0M849.8 364.1h0M850.3 363.0h0M850.6 365.5h0M850.9 361.5h0M851.1 364.6h0M851.5 362.0h0M851.8 366.4h0M851.9 362.1h0M852.0 367.1h0M852.5 363.2h0M852.2 364.4h0M852.4 361.2h0M853.1 360.9h0M853.3 363.5h0M853.3 365.6h0M853.8 366.8h0M853.8 367.8h0M854.1 367.9h0M854.4 368.3h0M854.5 361.9h0M854.7 365.3h0M855.1 360.7h0M855.6 365.7h0M855.7 365.9h0M855.7 365.9h0M856.1 359.1h0M856.2 364.7h0M856.5 364.0h0M856.6 366.3h0M857.3 365.9h0M857.3 365.5h0M857.5 365.4h0M857.4 364.5h0M857.6 358.7h0M858.4 360.1h0M858.8 362.0h0M858.6 359.4h0M858.7 362.2h0M859.0 362.3h0M858.9 360.6h0M859.7 353.1h0M859.9 360.9h0M859.7 359.5h0M860.0 357.2h0M860.4 357.9h0M860.4 356.9h0M860.7 352.9h0M862.8 188.3h0M862.8 185.6h0M863.1 181.9h0M863.1 185.6h0M863.3 183.7h0M864.1 184.4h0M864.1 182.2h0M864.3 179.3h0M864.6 175.5h0M864.9 183.9h0M865.3 180.5h0M864.9 171.3h0M865.5 171.5h0M865.9 175.1h0M866.0 169.6h0M866.2 169.7h0M866.2 172.7h0M866.8 169.0h0M866.6 167.4h0M866.8 165.6h0M867.2 164.2h0M867.6 166.6h0M868.2 166.6h0M867.9 161.4h0M868.3 174.4h0M868.6 161.7h0M868.7 161.9h0M869.4 158.4h0M869.0 157.9h0M869.6 157.3h0M869.4 158.7h0M870.0 169.7h0M870.2 158.0h0M870.6 157.3h0M871.1 153.9h0M870.9 156.2h0M870.8 153.7h0M871.0 154.9h0M871.7 156.4h0M871.6 152.7h0M872.5 150.2h0M872.3 153.6h0M872.2 151.9h0M872.8 149.1h0M873.4 150.4h0M873.6 150.1h0M873.7 156.1h0M873.7 153.7h0M874.2 159.1h0M874.3 153.7h0M874.4 157.5h0M874.4 157.7h0M875.2 165.3h0M874.5 187.7h0M874.9 196.3h0M874.6 194.6h0M875.0 196.5h0M875.7 208.9h0M875.9 198.3h0M875.6 212.1h0M876.1 218.4h0M876.0 218.6h0M876.6 220.5h0M877.1 220.3h0M876.9 213.3h0M877.7 205.8h0M877.2 211.0h0M877.5 221.7h0M878.4 213.4h0M877.9 216.2h0M878.7 217.2h0M879.1 215.1h0M879.2 204.5h0M878.9 218.7h0M879.1 207.3h0M879.9 216.8h0M880.0 208.1h0M880.3 210.8h0M880.6 209.2h0M881.0 219.9h0M880.5 217.7h0M881.4 206.4h0M881.0 223.3h0M881.6 213.1h0M881.5 222.9h0M881.9 206.9h0M882.4 222.8h0M882.5 217.1h0M882.8 224.0h0M883.0 215.8h0M883.0 219.2h0M883.6 216.4h0M884.0 209.2h0M883.8 214.3h0M882.4 282.3h0M882.3 299.6h0M882.1 283.9h0M882.1 311.7h0M882.9 304.4h0M882.6 286.6h0M882.8 287.3h0M883.4 294.7h0M883.6 291.1h0M883.1 323.3h0M883.9 291.5h0M884.0 298.4h0M884.0 305.7h0M884.7 293.9h0M884.1 313.6h0M884.4 295.7h0M885.1 320.6h0M885.1 334.5h0M885.6 308.5h0M885.5 299.4h0M886.1 316.3h0M886.3 306.7h0M886.4 306.6h0M886.2 319.7h0M886.4 344.0h0M886.8 322.1h0M886.4 314.6h0M887.0 316.8h0M887.2 328.3h0M887.7 315.2h0M887.7 313.8h0M887.4 340.4h0M887.4 329.0h0M887.4 314.4h0M888.2 323.9h0M888.3 349.8h0M888.2 342.4h0M888.3 337.3h0M888.4 329.5h0M888.6 343.0h0M888.4 330.5h0M889.3 326.0h0M889.3 340.4h0M889.2 349.6h0M889.6 328.9h0M889.3 343.1h0M890.1 330.5h0M890.3 330.4h0M890.8 341.2h0M890.7 349.3h0M890.6 341.2h0M891.4 363.7h0M891.6 364.2h0M892.0 358.3h0M891.8 364.4h0M891.9 348.0h0M892.5 352.2h0M892.1 354.8h0M892.4 346.0h0M893.1 346.1h0M893.0 352.2h0M893.5 351.2h0M893.1 346.7h0M893.4 353.3h0M894.0 363.3h0M894.5 352.9h0M894.5 354.7h0M894.9 352.3h0M895.2 351.2h0M895.5 355.6h0M895.5 363.0h0M895.9 353.7h0M895.8 353.2h0M896.4 349.4h0M896.5 360.1h0M896.7 349.1h0M896.9 364.3h0M897.3 364.1h0M897.7 365.8h0M897.5 354.3h0M897.9 361.2h0M897.8 359.1h0M898.5 367.3h0M899.0 366.4h0M899.2 364.0h0M898.9 361.0h0M899.5 352.7h0M899.2 363.7h0M899.9 357.3h0M899.9 368.5h0M900.4 362.1h0M900.6 368.4h0M901.0 365.3h0M900.7 362.9h0M901.2 365.3h0M901.7 368.3h0M901.6 368.3h0M902.2 364.2h0M901.9 367.4h0M902.3 368.2h0M902.3 367.6h0M903.0 368.7h0M903.1 368.8h0M903.4 367.9h0M903.4 364.5h0M904.1 363.1h0M904.3 368.7h0M904.6 365.6h0M905.0 364.3h0M904.6 366.9h0M905.4 356.5h0M905.3 359.4h0M905.5 360.4h0M583.5 389.0h0M585.5 388.0h0M587.3 386.0h0M588.2 340.0h0M588.3 301.5h0M588.4 271.7h0M588.5 251.8h0M588.6 232.5h0M588.7 211.8h0M588.8 195.2h0M588.9 185.6h0M589.0 174.5h0M719.5 216.4h0M719.8 249.2h0M720.2 274.6h0M834.0 212.3h0M834.3 222.6h0M834.6 242.4h0M835.0 266.4h0M835.5 280.5h0M836.0 288.0h0M836.5 297.7h0M837.0 310.0h0M837.5 322.7h0M861.0 319.6h0M861.5 291.5h0M862.0 269.6h0M862.3 244.5h0M862.6 233.6h0M863.0 224.2h0M863.3 208.6h0M863.6 194.5h0M864.0 185.0h0M872.6 138.2h0M872.8 126.3h0M873.0 103.8h0M873.2 82.8h0M881.5 241.4h0M882.0 257.0h0M896.5 252.4h0M897.0 260.0h0M897.5 266.5h0M898.0 279.0h0M898.5 283.7h0M899.0 294.6h0M899.5 302.4h0M900.0 310.2h0M900.3 322.7h0M900.6 332.0h0M697.0 115.0h0M694.5 125.0h0" stroke="#f8a888" stroke-width="6.2" stroke-linecap="round" fill="none"/>
<line x1="560.45" y1="384.40" x2="920.70" y2="384.40" stroke="#0b1a8f" stroke-width="3.5" stroke-dasharray="2.8 3.14" stroke-dashoffset="0.78"/>
<line x1="588.03" y1="45.20" x2="588.03" y2="428.70" stroke="#8f1a1f" stroke-width="2.5" stroke-dasharray="14.5 9.25" stroke-dashoffset="10.45"/>
</g>
<rect x="560.45" y="45.20" width="360.25" height="383.50" fill="none" stroke="#000" stroke-width="2.0"/>
<path d="M560.45 396.74h4.5M920.70 396.74h-4.5M560.45 361.23h4.5M920.70 361.23h-4.5M560.45 325.72h4.5M920.70 325.72h-4.5M560.45 290.21h4.5M920.70 290.21h-4.5M560.45 254.70h4.5M920.70 254.70h-4.5M560.45 219.20h4.5M920.70 219.20h-4.5M560.45 183.69h4.5M920.70 183.69h-4.5M560.45 148.18h4.5M920.70 148.18h-4.5M560.45 112.67h4.5M920.70 112.67h-4.5M560.45 77.16h4.5M920.70 77.16h-4.5M576.63 428.70v-4.5M576.63 45.20v4.5M583.35 428.70v-4.5M583.35 45.20v4.5M632.14 428.70v-4.5M632.14 45.20v4.5M719.57 428.70v-4.5M719.57 45.20v4.5M806.59 428.70v-4.5M806.59 45.20v4.5M860.16 428.70v-4.5M860.16 45.20v4.5" stroke="#000" stroke-width="2" fill="none"/>
<text x="557.15" y="404.04" text-anchor="end" font-size="20.5">0</text>
<text x="557.15" y="368.53" text-anchor="end" font-size="20.5">0.02</text>
<text x="557.15" y="333.02" text-anchor="end" font-size="20.5">0.04</text>
<text x="557.15" y="297.51" text-anchor="end" font-size="20.5">0.06</text>
<text x="557.15" y="262.00" text-anchor="end" font-size="20.5">0.08</text>
<text x="557.15" y="226.50" text-anchor="end" font-size="20.5">0.1</text>
<text x="557.15" y="190.99" text-anchor="end" font-size="20.5">0.12</text>
<text x="557.15" y="155.48" text-anchor="end" font-size="20.5">0.14</text>
<text x="557.15" y="119.97" text-anchor="end" font-size="20.5">0.16</text>
<text x="557.15" y="84.46" text-anchor="end" font-size="20.5">0.18</text>
<text transform="translate(518.70,501.70) rotate(-45)" font-size="17" textLength="84.6" lengthAdjust="spacingAndGlyphs">2022-09-03</text>
<text transform="translate(537.10,501.70) rotate(-45)" font-size="17" textLength="85.0" lengthAdjust="spacingAndGlyphs">2022-11-04</text>
<text transform="translate(581.20,501.70) rotate(-45)" font-size="17" textLength="79.0" lengthAdjust="spacingAndGlyphs">2022-12-11</text>
<text transform="translate(667.70,501.70) rotate(-45)" font-size="17" textLength="83.6" lengthAdjust="spacingAndGlyphs">2022-12-23</text>
<text transform="translate(754.60,501.70) rotate(-45)" font-size="17" textLength="84.6" lengthAdjust="spacingAndGlyphs">2023-01-04</text>
<text transform="translate(808.00,501.70) rotate(-45)" font-size="17" textLength="79.3" lengthAdjust="spacingAndGlyphs">2023-01-21</text>
<text x="742.45" y="523.20" font-size="21" textLength="39.6" lengthAdjust="spacingAndGlyphs">Date</text>
<text transform="translate(508.95,236.95) rotate(-90)" text-anchor="middle" font-size="17.5" textLength="81" lengthAdjust="spacingAndGlyphs">Health Index</text>
<text x="724.20" y="36.20" font-size="20.6" textLength="65.40" lengthAdjust="spacingAndGlyphs">(b) DAE</text>
<text x="789.10" y="43.30" font-size="12" textLength="5.70" lengthAdjust="spacingAndGlyphs">F</text>
<rect x="725.20" y="60.30" width="134.30" height="87.70" fill="#fff" stroke="#000" stroke-width="2"/>
<circle cx="759.70" cy="71.40" r="5.7" fill="#3bc3c8"/>
<text x="792.80" y="76.60" font-size="14" textLength="28.60" lengthAdjust="spacingAndGlyphs">Train</text>
<circle cx="759.70" cy="87.90" r="5.7" fill="#80b3de"/>
<text x="792.80" y="93.10" font-size="14" textLength="58.00" lengthAdjust="spacingAndGlyphs">Validation</text>
<circle cx="759.70" cy="104.40" r="5.7" fill="#f8a888"/>
<text x="792.80" y="109.60" font-size="14" textLength="21.70" lengthAdjust="spacingAndGlyphs">Test</text>
<line x1="730.80" y1="120.90" x2="787.40" y2="120.90" stroke="#0b1a8f" stroke-width="3.5" stroke-dasharray="2.8 3.14"/>
<text x="792.80" y="126.10" font-size="14" textLength="54.30" lengthAdjust="spacingAndGlyphs">Threshold</text>
<line x1="730.70" y1="137.40" x2="788.70" y2="137.40" stroke="#8f1a1f" stroke-width="2" stroke-dasharray="14.7 9.2"/>
<text x="792.80" y="142.60" font-size="14" textLength="57.60" lengthAdjust="spacingAndGlyphs">Fault Time</text>
<clipPath id="cpc"><rect x="1036.00" y="45.20" width="360.40" height="383.50"/></clipPath>
<g clip-path="url(#cpc)">
<path d="M1052.6 384.5h0M1054.0 386.5h0M1055.5 388.0h0M1057.0 389.0h0" stroke="#3bc3c8" stroke-width="6.2" stroke-linecap="round" fill="none"/>
<path d="M1058.0 389.5h0" stroke="#80b3de" stroke-width="6.2" stroke-linecap="round" fill="none"/>
<path d="M1064.8 198.9h0M1065.3 203.1h0M1065.3 196.8h0M1065.9 189.3h0M1066.1 189.5h0M1066.4 208.4h0M1066.6 199.2h0M1066.7 199.1h0M1066.5 188.0h0M1066.9 203.1h0M1067.6 202.7h0M1067.7 193.0h0M1067.8 190.2h0M1067.7 192.3h0M1068.4 194.4h0M1068.2 192.5h0M1069.1 207.6h0M1068.9 199.5h0M1069.5 201.5h0M1069.9 208.7h0M1070.1 187.1h0M1070.1 199.7h0M1070.6 207.0h0M1070.4 188.6h0M1070.1 196.7h0M1070.5 188.4h0M1071.2 197.2h0M1071.2 207.7h0M1071.5 195.1h0M1071.3 197.2h0M1072.2 189.1h0M1072.2 192.7h0M1072.7 190.9h0M1072.3 194.9h0M1073.0 187.5h0M1073.1 191.1h0M1073.2 198.5h0M1073.9 185.9h0M1073.5 204.8h0M1073.9 192.4h0M1074.4 202.3h0M1074.2 185.3h0M1074.4 194.5h0M1075.3 205.5h0M1075.5 205.0h0M1075.6 201.3h0M1075.8 194.8h0M1076.0 195.6h0M1076.3 202.6h0M1076.1 195.4h0M1076.9 205.1h0M1077.1 187.8h0M1076.9 184.9h0M1077.2 200.4h0M1077.4 204.1h0M1077.9 201.3h0M1078.1 191.8h0M1078.0 193.1h0M1078.3 201.5h0M1078.6 187.0h0M1079.4 190.0h0M1079.3 194.0h0M1079.9 192.8h0M1079.8 189.1h0M1079.6 182.9h0M1080.5 198.5h0M1080.2 202.0h0M1081.0 201.8h0M1081.2 202.3h0M1081.6 203.4h0M1081.8 195.8h0M1081.6 202.8h0M1081.7 198.6h0M1082.0 202.8h0M1082.7 204.4h0M1082.3 200.0h0M1082.6 198.1h0M1083.5 196.0h0M1083.1 202.2h0M1083.7 203.6h0M1083.8 198.9h0M1084.4 207.3h0M1084.3 205.7h0M1084.3 198.4h0M1084.6 191.2h0M1084.8 208.2h0M1085.6 203.3h0M1085.5 204.7h0M1085.8 206.1h0M1086.1 193.2h0M1085.9 208.3h0M1086.6 208.2h0M1086.7 208.1h0M1087.0 208.1h0M1087.0 208.9h0M1087.3 210.1h0M1088.0 196.3h0M1088.0 209.5h0M1088.1 195.9h0M1088.2 210.2h0M1088.7 204.3h0M1089.0 210.4h0M1089.3 208.1h0M1089.6 204.3h0M1089.3 204.0h0M1089.8 212.6h0M1089.8 204.0h0M1089.9 212.4h0M1090.8 206.7h0M1090.9 209.2h0M1091.3 211.7h0M1091.5 205.6h0M1091.8 210.1h0M1092.0 200.0h0M1092.0 197.9h0M1091.9 205.6h0M1092.1 210.6h0M1092.9 208.6h0M1092.8 201.0h0M1093.3 213.0h0M1093.0 210.7h0M1093.9 205.9h0M1093.9 198.5h0M1094.4 201.1h0M1094.2 205.2h0M1094.2 199.4h0M1095.1 213.2h0M1095.0 209.3h0M1095.1 212.7h0M1095.6 209.9h0M1095.9 211.2h0M1096.1 202.4h0M1095.9 198.9h0M1096.3 209.7h0M1096.3 201.8h0M1096.6 207.9h0M1097.2 208.0h0M1097.3 197.3h0M1097.8 203.8h0M1097.8 203.1h0M1097.8 211.5h0M1098.3 207.1h0M1098.4 212.2h0M1098.7 211.1h0M1099.0 207.6h0M1099.6 205.2h0M1099.8 199.3h0M1100.1 206.8h0M1100.1 208.3h0M1100.4 208.0h0M1100.8 211.8h0M1100.4 210.4h0M1100.7 210.0h0M1101.4 211.7h0M1101.4 208.3h0M1101.9 211.9h0M1101.9 211.7h0M1102.3 203.7h0M1102.4 206.0h0M1102.5 195.2h0M1102.9 194.3h0M1103.2 199.9h0M1103.1 210.2h0M1103.9 211.8h0M1104.0 210.0h0M1104.2 209.1h0M1104.0 207.8h0M1104.3 204.5h0M1104.7 201.7h0M1104.7 209.7h0M1105.3 189.2h0M1105.7 201.8h0M1106.0 186.3h0M1105.8 203.5h0M1106.1 199.9h0M1106.2 198.5h0M1106.8 202.2h0M1106.6 203.0h0M1107.2 185.5h0M1107.7 200.8h0M1107.6 202.4h0M1108.0 186.8h0M1107.9 199.9h0M1108.4 199.0h0M1108.3 190.4h0M1108.5 194.9h0M1108.8 194.2h0M1109.1 196.6h0M1109.0 193.0h0M1109.9 193.7h0M1109.5 177.3h0M1109.7 190.7h0M1110.4 191.8h0M1109.9 186.2h0M1110.2 189.3h0M1110.8 187.3h0M1110.7 186.5h0M1111.2 178.8h0M1111.2 179.1h0M1111.6 181.9h0M1112.0 175.9h0M1111.8 176.0h0M1112.6 179.4h0M1112.3 167.6h0M1113.1 178.3h0M1112.8 178.6h0M1113.1 178.6h0M1113.9 178.2h0M1114.1 175.9h0M1114.3 169.5h0M1114.5 174.6h0M1114.4 174.7h0M1115.1 166.1h0M1115.1 162.5h0M1115.5 165.9h0M1115.6 158.3h0M1115.9 171.1h0M1115.6 159.1h0M1116.1 156.2h0M1116.3 161.3h0M1116.4 159.3h0M1117.0 158.3h0M1117.4 160.9h0M1117.4 154.4h0M1117.5 153.6h0M1118.1 153.5h0M1118.2 151.3h0M1118.6 150.9h0M1118.3 155.1h0M1118.9 153.0h0M1119.1 149.2h0M1118.9 149.5h0M1119.6 151.2h0M1120.1 149.0h0M1120.0 147.6h0M1119.9 149.4h0M1120.5 152.2h0M1120.9 147.1h0M1121.3 148.0h0M1120.9 147.3h0M1121.1 164.9h0M1121.3 163.9h0M1122.1 161.5h0M1122.2 158.1h0M1122.4 163.9h0M1123.0 155.1h0M1122.5 154.9h0M1123.2 156.4h0M1123.0 157.4h0M1123.6 157.1h0M1124.2 151.9h0M1124.1 151.5h0M1124.3 150.0h0M1124.4 160.5h0M1124.5 152.8h0M1125.3 150.1h0M1125.3 155.8h0M1125.7 146.6h0M1125.7 149.7h0M1126.3 159.4h0M1126.5 145.8h0M1126.7 150.7h0M1126.9 147.8h0M1126.8 153.2h0M1126.9 149.6h0M1127.6 160.6h0M1127.3 158.8h0M1127.8 155.4h0M1127.9 152.5h0M1128.6 153.4h0M1128.2 151.2h0M1129.1 152.8h0M1129.1 158.0h0M1129.6 165.8h0M1129.9 155.4h0M1130.0 156.0h0M1130.3 156.8h0M1130.2 159.1h0M1130.5 165.8h0M1130.5 172.1h0M1130.9 175.2h0M1131.3 181.3h0M1131.1 176.8h0M1131.5 169.4h0M1131.4 189.2h0M1131.7 178.1h0M1131.6 184.9h0M1132.0 175.8h0M1132.0 181.5h0M1132.9 184.0h0M1132.6 178.7h0M1132.7 180.9h0M1132.9 189.8h0M1133.5 188.6h0M1133.0 198.4h0M1133.2 197.5h0M1134.0 199.1h0M1134.1 212.9h0M1133.8 197.2h0M1134.5 202.3h0M1134.5 202.0h0M1134.8 223.7h0M1135.1 209.9h0M1134.7 214.9h0M1135.2 225.7h0M1135.3 206.9h0M1135.7 220.0h0M1135.9 215.4h0M1136.3 226.0h0M1136.4 222.5h0M1136.7 214.8h0M1137.1 213.3h0M1137.5 209.5h0M1137.3 208.2h0M1137.3 215.7h0M1138.1 212.7h0M1138.3 209.6h0M1138.3 220.6h0M1138.9 205.0h0M1138.5 224.7h0M1139.2 210.4h0M1138.9 210.0h0M1139.7 210.7h0M1139.5 212.9h0M1140.4 204.0h0M1140.0 201.2h0M1140.6 194.1h0M1140.3 216.8h0M1140.3 204.4h0M1140.9 197.6h0M1141.3 193.3h0M1141.4 215.2h0M1141.7 191.5h0M1141.7 190.2h0M1141.5 189.9h0M1142.0 195.8h0M1142.4 192.7h0M1142.5 183.7h0M1142.7 186.3h0M1142.9 188.3h0M1143.0 186.9h0M1142.9 185.4h0M1143.2 184.4h0M1143.4 188.4h0M1144.2 193.1h0M1143.7 182.8h0M1144.6 186.5h0M1144.3 184.0h0M1144.8 183.6h0M1145.2 170.2h0M1145.5 184.9h0M1145.1 169.5h0M1145.8 169.9h0M1146.0 164.5h0M1146.6 164.9h0M1146.2 161.2h0M1146.9 162.2h0M1146.9 160.4h0M1147.5 161.2h0M1147.3 159.2h0M1147.5 166.6h0M1147.8 163.5h0M1148.3 171.2h0M1148.4 156.8h0M1148.4 162.3h0M1148.9 159.5h0M1148.5 154.6h0M1148.9 161.7h0M1149.4 158.1h0M1149.4 154.4h0M1150.1 162.4h0M1149.7 155.0h0M1150.1 153.8h0M1150.9 154.8h0M1151.0 153.7h0M1151.2 150.4h0M1151.3 150.4h0M1151.3 161.4h0M1151.5 150.7h0M1151.9 154.3h0M1151.8 149.4h0M1152.2 166.1h0M1152.1 151.1h0M1152.3 151.4h0M1152.5 152.2h0M1152.8 151.4h0M1153.0 148.7h0M1153.3 148.3h0M1153.9 149.9h0M1153.9 149.6h0M1154.0 157.7h0M1154.6 151.4h0M1154.9 149.5h0M1155.4 146.8h0M1155.6 160.7h0M1155.2 147.3h0M1156.0 148.6h0M1156.1 150.3h0M1155.9 164.8h0M1156.8 150.0h0M1156.6 153.0h0M1156.7 151.0h0M1157.5 151.0h0M1157.1 146.2h0M1157.5 148.7h0M1158.2 146.9h0M1157.8 158.6h0M1158.4 155.3h0M1158.3 153.1h0M1158.7 162.2h0M1159.2 146.6h0M1158.7 155.6h0M1159.3 158.8h0M1159.8 157.0h0M1159.8 156.3h0M1159.6 149.1h0M1160.4 157.3h0M1160.1 165.2h0M1160.3 149.8h0M1160.5 171.2h0M1160.9 151.0h0M1160.9 147.0h0M1161.8 168.7h0M1161.4 149.2h0M1162.3 166.2h0M1161.8 171.8h0M1162.3 173.9h0M1162.6 172.8h0M1162.9 171.4h0M1163.2 166.4h0M1163.6 163.2h0M1163.5 156.5h0M1164.0 159.0h0M1164.1 152.4h0M1164.2 170.3h0M1164.1 157.9h0M1164.4 172.3h0M1164.6 156.8h0M1164.9 176.9h0M1164.7 160.7h0M1165.0 174.5h0M1165.8 174.1h0M1165.4 176.1h0M1166.2 166.8h0M1166.0 164.2h0M1166.0 173.3h0M1166.7 175.2h0M1166.6 159.9h0M1166.8 164.3h0M1167.2 168.7h0M1167.3 179.6h0M1167.3 163.8h0M1167.2 161.1h0M1167.3 180.3h0M1168.2 182.1h0M1167.8 163.2h0M1168.4 159.1h0M1168.5 182.4h0M1168.9 172.6h0M1169.1 174.9h0M1169.0 168.8h0M1169.3 182.7h0M1169.8 177.0h0M1169.9 164.0h0M1170.6 183.8h0M1170.4 180.6h0M1170.7 179.1h0M1170.6 162.8h0M1170.3 186.5h0M1171.3 179.8h0M1171.0 182.2h0M1171.6 169.6h0M1171.4 188.1h0M1172.0 185.9h0M1171.8 182.3h0M1172.2 189.6h0M1172.9 181.6h0M1172.9 193.0h0M1173.3 194.8h0M1173.1 195.7h0M1173.9 190.7h0M1173.6 182.1h0M1173.7 199.6h0M1174.3 200.2h0M1174.1 199.9h0M1174.7 202.7h0M1174.7 204.8h0M1175.3 198.5h0M1175.5 208.0h0M1175.8 204.8h0M1175.9 188.1h0M1176.1 189.5h0M1176.0 207.2h0M1176.6 207.6h0M1176.7 206.3h0M1177.3 209.3h0M1177.0 208.7h0M1177.3 208.6h0M1177.3 206.7h0M1177.6 211.8h0M1178.1 193.4h0M1177.9 211.4h0M1178.5 216.1h0M1178.6 211.5h0M1178.7 209.2h0M1179.1 204.1h0M1179.1 210.9h0M1179.6 199.9h0M1180.0 209.4h0M1179.7 207.5h0M1180.5 202.8h0M1180.7 212.5h0M1180.9 203.9h0M1180.8 214.9h0M1181.6 221.0h0M1181.7 206.1h0M1181.4 210.0h0M1181.8 210.6h0M1182.5 216.3h0M1182.3 218.4h0M1182.4 219.9h0M1183.0 220.9h0M1182.8 221.5h0M1183.4 215.8h0M1183.7 220.6h0M1184.0 223.1h0M1183.9 212.2h0M1184.2 220.7h0M1184.4 218.4h0M1184.7 223.0h0M1184.7 223.2h0M1185.0 221.2h0M1185.2 223.7h0M1185.5 220.9h0M1185.9 223.4h0M1185.9 216.9h0M1186.5 221.1h0M1186.8 220.2h0M1186.8 218.0h0M1186.9 222.0h0M1187.3 212.6h0M1187.2 219.0h0M1187.7 220.4h0M1188.2 223.2h0M1188.1 218.7h0M1188.9 215.5h0M1188.9 215.8h0M1189.1 220.4h0M1189.7 211.8h0M1189.7 209.3h0M1189.4 215.4h0M1190.2 219.0h0M1190.3 207.9h0M1190.3 221.4h0M1190.6 220.7h0M1191.3 220.8h0M1190.8 219.9h0M1191.2 209.6h0M1192.0 215.0h0M1192.2 211.7h0M1191.7 213.5h0M1192.4 211.2h0M1192.5 221.3h0M1192.6 215.1h0M1193.1 209.9h0M1193.3 219.3h0M1193.5 214.0h0M1193.9 221.0h0M1194.0 213.0h0M1194.6 212.8h0M1194.5 219.5h0M1195.0 217.2h0M1194.8 218.5h0M1197.5 339.6h0M1198.0 337.0h0M1198.1 346.1h0M1197.8 343.0h0M1198.2 348.9h0M1198.8 339.4h0M1199.2 342.1h0M1199.5 354.4h0M1199.5 344.3h0M1199.5 350.3h0M1200.0 353.3h0M1199.9 358.7h0M1200.0 351.9h0M1200.4 358.0h0M1200.9 352.1h0M1201.0 349.4h0M1201.0 359.6h0M1201.2 351.4h0M1201.7 355.1h0M1201.7 360.8h0M1202.1 354.9h0M1202.5 355.7h0M1202.6 360.0h0M1202.7 359.3h0M1203.5 359.2h0M1203.6 365.3h0M1204.0 362.0h0M1203.8 365.8h0M1204.0 364.9h0M1204.1 366.5h0M1204.3 366.5h0M1205.2 371.7h0M1205.0 373.5h0M1205.6 369.8h0M1205.6 372.3h0M1206.0 375.1h0M1206.4 373.5h0M1206.1 372.2h0M1206.4 373.3h0M1207.0 373.7h0M1206.8 373.0h0M1207.1 376.4h0M1207.7 375.3h0M1208.0 375.8h0M1208.2 379.1h0M1208.3 378.3h0M1208.1 378.5h0M1208.9 374.7h0M1209.1 380.2h0M1209.4 379.1h0M1209.1 377.0h0M1209.7 380.0h0M1209.6 381.7h0M1210.1 381.3h0M1210.1 381.3h0M1210.3 381.6h0M1211.1 382.2h0M1210.7 380.5h0M1211.6 382.1h0M1211.9 382.5h0M1211.4 382.5h0M1211.7 382.6h0M1212.4 382.3h0M1212.3 381.2h0M1212.7 382.7h0M1212.8 382.1h0M1213.0 382.8h0M1213.3 382.9h0M1213.6 382.7h0M1213.6 383.1h0M1214.4 383.4h0M1214.6 382.7h0M1215.1 380.0h0M1214.7 383.6h0M1215.1 383.7h0M1215.6 383.5h0M1204.9 373.7h0M1205.2 375.2h0M1205.4 375.5h0M1205.5 375.7h0M1205.6 376.0h0M1206.3 376.3h0M1206.1 375.7h0M1206.5 376.9h0M1206.6 377.2h0M1207.5 377.1h0M1207.2 376.9h0M1207.5 378.3h0M1208.2 378.6h0M1208.3 378.2h0M1208.3 379.2h0M1208.8 379.5h0M1208.8 379.8h0M1209.4 379.7h0M1209.6 379.1h0M1209.4 380.9h0M1209.7 380.3h0M1209.7 381.2h0M1210.3 379.6h0M1210.9 381.7h0M1210.5 381.6h0M1210.6 382.5h0M1211.5 381.9h0M1211.5 382.3h0M1212.0 382.7h0M1211.8 383.4h0M1212.1 382.2h0M1212.2 382.1h0M1212.6 384.4h0M1212.5 384.7h0M1213.4 384.7h0M1213.2 384.9h0M1213.2 384.9h0M1213.5 385.2h0M1213.8 384.6h0M1214.1 385.0h0M1214.5 385.5h0M1214.6 385.6h0M1214.9 383.8h0M1215.2 384.5h0M1215.6 385.5h0M1215.6 385.3h0M1216.1 384.2h0M1216.3 383.4h0M1216.2 382.3h0M1216.5 384.9h0M1217.2 383.5h0M1216.9 383.6h0M1217.4 382.3h0M1217.7 385.0h0M1217.5 383.3h0M1218.1 384.1h0M1218.3 382.9h0M1218.3 384.3h0M1218.5 384.1h0M1219.4 381.7h0M1219.5 383.4h0M1219.3 382.9h0M1219.6 383.0h0M1219.7 382.7h0M1220.3 381.2h0M1220.4 381.7h0M1220.6 381.4h0M1220.7 376.3h0M1221.4 381.5h0M1221.2 381.4h0M1221.9 380.5h0M1222.3 380.1h0M1222.3 380.8h0M1222.1 377.9h0M1222.8 378.9h0M1222.8 378.0h0M1223.0 374.4h0M1223.2 373.0h0M1223.6 373.6h0M1224.2 377.2h0M1224.2 377.9h0M1224.0 374.5h0M1224.2 375.7h0M1225.0 373.9h0M1224.6 372.8h0M1225.3 371.7h0M1225.3 378.0h0M1225.6 375.3h0M1225.7 378.9h0M1226.4 378.5h0M1226.4 377.3h0M1227.0 378.4h0M1227.0 377.7h0M1227.0 376.7h0M1227.3 377.9h0M1228.0 373.5h0M1227.9 376.8h0M1228.1 373.9h0M1228.2 375.8h0M1228.9 375.8h0M1228.6 375.0h0M1229.4 367.6h0M1229.6 368.0h0M1229.7 372.9h0M1229.4 375.8h0M1230.4 369.2h0M1230.0 373.1h0M1230.5 377.1h0M1230.8 371.4h0M1230.7 377.4h0M1231.2 378.2h0M1231.6 376.6h0M1231.6 377.9h0M1232.3 372.7h0M1232.1 379.7h0M1232.6 379.8h0M1233.0 379.2h0M1233.0 380.2h0M1232.8 377.6h0M1233.2 379.3h0M1233.4 375.2h0M1233.8 374.6h0M1234.0 374.3h0M1234.4 374.5h0M1234.5 375.0h0M1235.0 375.4h0M1235.3 381.6h0M1235.3 380.8h0M1235.8 374.8h0M1235.8 381.2h0M1236.1 373.3h0M1236.4 378.1h0M1236.8 375.0h0M1236.4 373.6h0M1237.2 374.6h0M1237.1 374.5h0M1237.7 373.7h0M1237.8 373.0h0M1237.7 373.6h0M1238.3 372.8h0M1238.4 372.5h0M1238.7 371.7h0M1239.1 378.8h0M1239.0 373.9h0M1239.0 370.2h0M1239.7 369.3h0M1240.0 371.2h0M1239.8 371.2h0M1240.3 369.5h0M1240.8 370.9h0M1240.9 371.2h0M1240.7 366.8h0M1241.5 373.1h0M1241.5 371.2h0M1241.9 373.1h0M1242.2 378.2h0M1242.1 376.7h0M1242.1 365.3h0M1242.3 371.6h0M1242.8 371.4h0M1243.2 367.5h0M1243.4 363.6h0M1243.5 366.4h0M1243.7 368.4h0M1243.9 373.3h0M1244.3 364.5h0M1244.5 374.6h0M1244.6 374.9h0M1244.8 370.1h0M1245.5 365.2h0M1245.6 359.8h0M1246.1 359.4h0M1246.3 363.1h0M1246.4 364.0h0M1246.1 368.8h0M1246.7 372.0h0M1247.0 376.3h0M1247.1 378.2h0M1247.5 368.8h0M1248.0 369.0h0M1247.6 377.3h0M1247.8 370.2h0M1248.4 370.0h0M1248.9 370.7h0M1248.6 379.5h0M1249.0 378.1h0M1249.4 374.2h0M1249.6 378.5h0M1249.6 375.3h0M1249.9 376.5h0M1250.1 379.2h0M1250.8 379.4h0M1250.8 378.2h0M1251.0 378.0h0M1251.5 379.3h0M1251.3 378.4h0M1251.7 377.2h0M1251.7 377.6h0M1251.8 378.9h0M1252.4 375.5h0M1252.6 373.6h0M1252.5 374.3h0M1253.3 371.9h0M1253.0 371.3h0M1253.5 370.6h0M1253.5 377.3h0M1254.0 369.3h0M1254.3 368.5h0M1254.4 369.0h0M1254.9 370.1h0M1254.7 368.7h0M1254.9 365.8h0M1255.3 364.9h0M1255.7 369.5h0M1255.8 363.3h0M1256.5 364.2h0M1256.7 365.5h0M1256.4 369.1h0M1256.8 367.3h0M1257.2 369.6h0M1257.0 368.1h0M1257.5 370.3h0M1258.1 371.9h0M1257.9 376.9h0M1258.0 371.6h0M1258.3 372.0h0M1259.1 379.7h0M1259.4 375.2h0M1259.2 373.2h0M1259.6 375.3h0M1259.6 379.4h0M1260.3 376.9h0M1260.1 373.1h0M1260.8 376.2h0M1260.6 375.2h0M1261.0 373.1h0M1260.9 375.7h0M1261.6 374.0h0M1261.5 374.4h0M1262.3 374.7h0M1261.8 377.3h0M1262.2 376.0h0M1263.0 376.8h0M1262.6 377.0h0M1263.4 376.8h0M1263.5 377.1h0M1263.7 377.8h0M1263.6 378.1h0M1263.8 380.6h0M1264.4 380.1h0M1264.6 379.7h0M1265.1 382.6h0M1265.3 382.8h0M1265.0 379.9h0M1265.1 379.4h0M1265.8 382.9h0M1266.2 382.4h0M1266.2 382.1h0M1266.2 384.1h0M1266.4 384.0h0M1267.0 383.5h0M1267.4 383.4h0M1267.1 384.5h0M1267.9 383.5h0M1267.6 382.5h0M1268.0 384.0h0M1268.3 383.5h0M1268.8 382.0h0M1269.2 381.0h0M1268.7 383.4h0M1269.7 383.5h0M1269.2 383.6h0M1269.5 383.4h0M1270.4 383.0h0M1270.1 379.3h0M1270.8 382.1h0M1270.7 383.0h0M1271.1 381.9h0M1271.6 382.7h0M1271.7 379.0h0M1271.5 380.1h0M1272.0 376.9h0M1272.6 378.6h0M1272.3 379.6h0M1272.7 380.2h0M1272.9 376.9h0M1273.0 381.5h0M1273.7 376.5h0M1273.6 378.3h0M1273.8 379.2h0M1274.2 381.1h0M1274.7 379.6h0M1274.8 377.4h0M1275.1 374.7h0M1275.0 379.0h0M1275.3 378.6h0M1275.2 380.7h0M1275.6 380.7h0M1276.2 377.4h0M1276.3 377.6h0M1276.6 374.9h0M1276.3 380.3h0M1277.3 379.4h0M1277.6 380.1h0M1277.1 381.1h0M1277.3 380.8h0M1277.5 380.9h0M1278.2 377.0h0M1278.3 380.9h0M1278.4 381.7h0M1278.8 381.4h0M1278.7 378.7h0M1279.5 379.6h0M1279.8 381.6h0M1279.8 381.5h0M1280.4 381.2h0M1280.4 379.2h0M1280.5 377.2h0M1280.9 376.3h0M1281.3 375.8h0M1281.1 375.4h0M1281.4 380.0h0M1282.1 374.8h0M1281.6 376.3h0M1282.4 376.1h0M1282.6 375.2h0M1282.7 376.1h0M1282.5 377.2h0M1283.2 379.3h0M1283.4 379.6h0M1283.5 374.5h0M1284.1 375.1h0M1284.2 374.1h0M1284.1 374.6h0M1284.6 374.1h0M1284.9 373.3h0M1285.3 376.8h0M1285.1 375.0h0M1285.5 372.1h0M1285.7 372.9h0M1285.9 371.3h0M1286.6 371.2h0M1286.6 371.8h0M1286.7 370.3h0M1286.7 369.9h0M1287.5 369.6h0M1287.6 369.2h0M1287.7 369.6h0M1287.9 369.9h0M1287.9 371.3h0M1288.4 370.8h0M1288.4 370.8h0M1288.7 379.1h0M1288.9 373.9h0M1289.5 375.4h0M1289.8 378.6h0M1290.1 380.5h0M1289.8 378.2h0M1290.3 376.0h0M1290.3 382.1h0M1291.1 378.3h0M1290.7 375.5h0M1291.3 373.7h0M1291.6 379.2h0M1291.6 372.8h0M1292.0 373.6h0M1292.3 371.4h0M1292.5 372.9h0M1293.0 373.0h0M1293.2 373.2h0M1293.4 372.5h0M1293.5 373.6h0M1293.9 368.8h0M1294.2 370.0h0M1294.0 368.0h0M1294.3 371.1h0M1294.4 368.3h0M1295.1 369.3h0M1294.7 366.4h0M1295.5 368.3h0M1295.5 366.6h0M1295.5 378.2h0M1296.3 370.3h0M1296.4 367.4h0M1296.2 369.0h0M1296.6 366.6h0M1296.9 371.0h0M1297.1 376.3h0M1297.8 374.6h0M1297.5 377.8h0M1298.3 371.6h0M1298.1 380.0h0M1298.4 372.0h0M1298.5 377.2h0M1298.8 368.3h0M1299.0 367.7h0M1299.1 372.1h0M1299.3 372.3h0M1299.4 369.0h0M1300.0 374.7h0M1300.3 378.5h0M1300.2 370.0h0M1301.0 374.7h0M1301.2 375.8h0M1301.1 373.1h0M1301.1 376.5h0M1301.8 373.1h0M1301.9 371.7h0M1302.4 375.8h0M1302.4 370.9h0M1302.9 377.4h0M1303.1 378.3h0M1302.9 378.1h0M1303.5 373.5h0M1303.4 369.6h0M1304.2 371.3h0M1304.3 372.8h0M1304.2 370.3h0M1304.6 372.1h0M1304.9 374.2h0M1304.7 377.5h0M1304.9 372.3h0M1305.5 379.4h0M1306.1 376.3h0M1305.8 376.7h0M1306.1 378.7h0M1306.4 380.2h0M1306.6 377.0h0M1307.1 375.7h0M1307.2 375.3h0M1307.4 377.7h0M1307.8 379.0h0M1307.7 375.8h0M1307.8 378.6h0M1308.5 379.1h0M1308.5 380.7h0M1308.5 378.8h0M1308.8 380.0h0M1309.4 378.1h0M1309.6 377.7h0M1310.0 377.2h0M1310.1 380.6h0M1310.0 379.7h0M1310.4 380.3h0M1311.0 379.6h0M1310.9 379.8h0M1310.8 296.1h0M1310.5 294.1h0M1310.9 297.1h0M1311.5 289.5h0M1311.6 299.5h0M1311.6 296.5h0M1312.2 305.2h0M1312.0 295.5h0M1312.8 305.2h0M1313.7 329.9h0M1313.9 334.5h0M1314.5 326.1h0M1314.5 328.0h0M1315.3 340.3h0M1315.1 336.0h0M1315.2 333.0h0M1315.8 337.1h0M1316.1 349.5h0M1315.9 335.9h0M1316.5 339.5h0M1316.6 338.4h0M1316.5 342.5h0M1316.7 348.3h0M1317.1 351.5h0M1317.7 346.1h0M1317.4 346.7h0M1318.0 364.4h0M1318.8 359.9h0M1318.9 362.1h0M1319.1 363.2h0M1319.9 365.4h0M1319.7 361.9h0M1320.0 364.8h0M1320.4 362.2h0M1320.8 362.0h0M1321.3 366.1h0M1321.3 365.7h0M1321.1 364.5h0M1321.6 366.0h0M1322.0 360.9h0M1322.3 363.0h0M1322.2 362.5h0M1322.8 360.9h0M1322.9 362.0h0M1323.4 365.1h0M1323.7 362.2h0M1323.2 365.4h0M1323.8 365.2h0M1324.2 366.5h0M1324.4 365.5h0M1324.6 366.3h0M1324.5 366.1h0M1325.2 359.8h0M1325.7 365.6h0M1325.8 365.0h0M1325.8 360.7h0M1326.0 360.8h0M1326.4 364.9h0M1326.3 362.8h0M1327.1 359.3h0M1327.3 362.7h0M1327.1 360.2h0M1327.2 359.8h0M1327.7 359.3h0M1328.0 359.3h0M1328.0 360.5h0M1328.2 359.5h0M1328.6 359.7h0M1329.3 360.0h0M1329.0 360.6h0M1329.1 359.9h0M1329.5 360.5h0M1329.9 360.6h0M1330.0 362.1h0M1330.0 360.0h0M1330.7 360.0h0M1330.5 359.0h0M1330.9 359.5h0M1331.5 358.5h0M1331.8 357.9h0M1331.7 357.8h0M1331.8 358.1h0M1332.4 357.4h0M1332.5 356.7h0M1332.4 356.0h0M1332.7 356.0h0M1333.1 358.0h0M1333.8 358.2h0M1333.9 359.0h0M1333.9 354.4h0M1334.0 354.7h0M1334.2 353.8h0M1334.4 353.2h0M1337.8 190.7h0M1337.8 191.5h0M1337.8 184.7h0M1338.4 186.6h0M1338.4 184.6h0M1339.3 191.1h0M1339.4 190.3h0M1339.7 182.1h0M1339.7 187.0h0M1339.6 180.4h0M1340.3 177.5h0M1340.2 186.9h0M1340.8 182.4h0M1340.8 177.9h0M1340.8 181.8h0M1341.4 176.3h0M1341.7 172.7h0M1341.9 177.1h0M1342.3 180.9h0M1342.4 177.6h0M1342.5 176.3h0M1342.6 175.1h0M1343.0 168.1h0M1343.2 176.9h0M1343.7 173.0h0M1343.6 172.2h0M1343.8 168.8h0M1343.9 175.5h0M1344.8 164.8h0M1344.7 167.1h0M1344.7 164.1h0M1345.4 162.3h0M1345.8 160.3h0M1345.3 171.2h0M1346.3 163.7h0M1346.5 171.7h0M1346.6 168.7h0M1346.6 171.0h0M1347.2 168.7h0M1347.3 157.7h0M1347.3 169.1h0M1347.5 164.4h0M1348.1 167.3h0M1347.8 165.8h0M1348.3 156.4h0M1348.6 155.6h0M1348.6 169.2h0M1348.7 164.6h0M1349.7 165.9h0M1349.2 172.1h0M1349.9 173.2h0M1350.1 173.8h0M1350.1 173.2h0M1350.3 175.3h0M1350.5 175.3h0M1351.1 174.6h0M1348.4 188.3h0M1348.9 193.7h0M1349.4 189.1h0M1349.4 193.8h0M1349.4 194.7h0M1349.9 195.2h0M1350.3 196.2h0M1350.2 192.4h0M1350.7 199.5h0M1351.1 200.3h0M1350.6 193.9h0M1351.2 193.5h0M1351.2 198.9h0M1351.6 196.3h0M1351.7 195.1h0M1352.3 196.6h0M1352.8 193.5h0M1352.6 195.8h0M1352.8 195.0h0M1352.8 196.7h0M1353.4 194.0h0M1353.7 199.0h0M1353.8 195.2h0M1354.1 194.7h0M1354.6 197.7h0M1354.4 196.0h0M1354.4 196.6h0M1355.3 195.4h0M1355.3 197.8h0M1355.9 198.5h0M1356.1 195.3h0M1356.4 196.4h0M1356.0 196.1h0M1356.3 195.8h0M1356.5 198.9h0M1357.1 196.4h0M1357.4 199.2h0M1357.3 201.6h0M1357.4 198.1h0M1358.3 198.4h0M1358.1 197.3h0M1358.5 198.8h0M1358.4 198.1h0M1359.1 202.1h0M1359.0 199.5h0M1359.3 205.0h0M1359.4 199.2h0M1358.0 314.0h0M1358.3 312.3h0M1358.5 327.7h0M1358.5 307.4h0M1359.3 310.3h0M1358.8 315.5h0M1359.4 310.7h0M1359.6 305.3h0M1360.0 308.2h0M1359.7 329.2h0M1360.0 334.1h0M1360.5 320.8h0M1360.6 333.2h0M1360.9 333.5h0M1360.3 341.1h0M1360.6 332.3h0M1360.9 343.0h0M1361.1 326.2h0M1361.4 315.2h0M1361.5 331.9h0M1362.0 325.0h0M1361.7 327.7h0M1362.1 332.9h0M1362.0 325.9h0M1362.6 340.2h0M1362.3 351.9h0M1362.3 323.3h0M1362.5 341.6h0M1362.7 351.4h0M1363.2 342.4h0M1363.7 349.9h0M1364.0 339.4h0M1364.0 326.6h0M1363.9 335.3h0M1364.1 333.0h0M1364.4 343.5h0M1364.7 355.0h0M1364.7 349.6h0M1365.1 360.6h0M1365.1 361.7h0M1365.4 364.2h0M1366.0 342.8h0M1366.2 365.9h0M1366.4 367.3h0M1366.4 344.6h0M1366.4 366.0h0M1367.2 355.4h0M1367.0 342.0h0M1366.9 367.1h0M1367.4 362.5h0M1367.5 353.7h0M1367.8 364.6h0M1368.0 367.2h0M1368.6 368.2h0M1368.3 358.1h0M1368.5 367.5h0M1368.9 357.1h0M1369.0 359.3h0M1369.4 362.7h0M1369.9 368.1h0M1369.8 371.6h0M1369.9 363.9h0M1370.0 370.5h0M1370.3 370.4h0M1370.3 370.8h0M1371.0 368.7h0M1371.3 367.9h0M1371.5 371.2h0M1371.1 364.3h0M1371.6 366.2h0M1371.8 363.4h0M1372.5 365.4h0M1372.1 362.1h0M1372.3 362.3h0M1373.3 371.4h0M1373.1 368.0h0M1373.1 364.1h0M1373.2 371.6h0M1373.9 359.7h0M1373.9 360.0h0M1374.5 364.1h0M1374.5 359.9h0M1374.5 370.1h0M1375.0 360.9h0M1375.7 363.7h0M1375.3 361.0h0M1375.7 372.0h0M1375.7 370.2h0M1376.5 363.3h0M1376.6 362.2h0M1376.8 361.4h0M1377.1 369.9h0M1376.8 363.1h0M1377.7 363.8h0M1377.4 367.5h0M1377.7 370.3h0M1377.8 366.1h0M1378.7 369.3h0M1378.4 366.0h0M1378.6 364.1h0M1379.5 367.2h0M1379.6 368.8h0M1379.9 364.7h0M1379.9 363.4h0M1380.0 361.3h0M1380.2 367.5h0M1380.3 370.0h0M1380.4 365.5h0M1381.0 362.2h0M1380.9 362.1h0M1381.8 369.4h0M1060.0 389.0h0M1061.5 388.0h0M1063.0 386.5h0M1063.4 345.6h0M1063.5 312.5h0M1063.6 287.7h0M1063.7 269.7h0M1063.8 253.2h0M1063.9 246.3h0M1064.0 233.9h0M1064.1 224.2h0M1064.2 215.4h0M1064.3 206.3h0M1194.8 243.5h0M1195.0 271.0h0M1195.3 293.2h0M1195.6 309.8h0M1196.0 320.8h0M1310.5 161.7h0M1310.8 172.6h0M1311.0 198.3h0M1311.3 230.5h0M1311.6 248.6h0M1312.0 260.2h0M1312.3 269.6h0M1312.6 288.3h0M1313.0 300.0h0M1313.3 310.2h0M1336.0 322.7h0M1336.5 293.0h0M1337.0 270.2h0M1337.5 247.7h0M1338.0 235.0h0M1338.4 224.2h0M1338.8 214.8h0M1339.2 205.4h0M1339.6 193.0h0M1348.6 142.9h0M1348.8 128.8h0M1349.0 116.3h0M1358.0 232.0h0M1358.3 251.4h0M1358.6 279.0h0M1372.0 247.7h0M1372.4 255.0h0M1372.8 263.3h0M1373.2 276.0h0M1373.6 291.5h0M1374.0 296.0h0M1374.4 310.0h0M1374.8 326.0h0M1375.2 335.0h0M1375.5 344.6h0M1255.8 349.0h0M1256.2 354.0h0M1256.6 359.0h0M1256.3 364.0h0M1245.5 358.0h0M1246.0 361.0h0M1297.0 361.0h0M1297.3 365.0h0M1229.0 365.0h0M1287.5 367.0h0" stroke="#f8a888" stroke-width="6.2" stroke-linecap="round" fill="none"/>
<line x1="1036.00" y1="385.80" x2="1396.40" y2="385.80" stroke="#0b1a8f" stroke-width="3.5" stroke-dasharray="2.8 3.14" stroke-dashoffset="0.78"/>
<line x1="1063.59" y1="45.20" x2="1063.59" y2="428.70" stroke="#8f1a1f" stroke-width="2.5" stroke-dasharray="14.5 9.25" stroke-dashoffset="10.45"/>
</g>
<rect x="1036.00" y="45.20" width="360.40" height="383.50" fill="none" stroke="#000" stroke-width="2.0"/>
<path d="M1036.00 396.74h4.5M1396.40 396.74h-4.5M1036.00 343.48h4.5M1396.40 343.48h-4.5M1036.00 290.21h4.5M1396.40 290.21h-4.5M1036.00 236.95h4.5M1396.40 236.95h-4.5M1036.00 183.69h4.5M1396.40 183.69h-4.5M1036.00 130.42h4.5M1396.40 130.42h-4.5M1036.00 77.16h4.5M1396.40 77.16h-4.5M1052.19 428.70v-4.5M1052.19 45.20v4.5M1058.91 428.70v-4.5M1058.91 45.20v4.5M1107.72 428.70v-4.5M1107.72 45.20v4.5M1195.18 428.70v-4.5M1195.18 45.20v4.5M1282.24 428.70v-4.5M1282.24 45.20v4.5M1335.84 428.70v-4.5M1335.84 45.20v4.5" stroke="#000" stroke-width="2" fill="none"/>
<text x="1032.70" y="404.04" text-anchor="end" font-size="20.5">0</text>
<text x="1032.70" y="350.78" text-anchor="end" font-size="20.5">0.1</text>
<text x="1032.70" y="297.51" text-anchor="end" font-size="20.5">0.2</text>
<text x="1032.70" y="244.25" text-anchor="end" font-size="20.5">0.3</text>
<text x="1032.70" y="190.99" text-anchor="end" font-size="20.5">0.4</text>
<text x="1032.70" y="137.72" text-anchor="end" font-size="20.5">0.5</text>
<text x="1032.70" y="84.46" text-anchor="end" font-size="20.5">0.6</text>
<text transform="translate(995.50,501.70) rotate(-45)" font-size="17" textLength="84.6" lengthAdjust="spacingAndGlyphs">2022-09-03</text>
<text transform="translate(1013.90,501.70) rotate(-45)" font-size="17" textLength="85.0" lengthAdjust="spacingAndGlyphs">2022-11-04</text>
<text transform="translate(1058.10,501.70) rotate(-45)" font-size="17" textLength="79.0" lengthAdjust="spacingAndGlyphs">2022-12-11</text>
<text transform="translate(1144.60,501.70) rotate(-45)" font-size="17" textLength="83.6" lengthAdjust="spacingAndGlyphs">2022-12-23</text>
<text transform="translate(1231.50,501.70) rotate(-45)" font-size="17" textLength="84.6" lengthAdjust="spacingAndGlyphs">2023-01-04</text>
<text transform="translate(1284.90,501.70) rotate(-45)" font-size="17" textLength="79.3" lengthAdjust="spacingAndGlyphs">2023-01-21</text>
<text x="1215.50" y="523.20" font-size="21" textLength="39.6" lengthAdjust="spacingAndGlyphs">Date</text>
<text transform="translate(993.70,236.95) rotate(-90)" text-anchor="middle" font-size="17.5" textLength="81" lengthAdjust="spacingAndGlyphs">Health Index</text>
<text x="1168.00" y="35.50" font-size="20.6" textLength="124.40" lengthAdjust="spacingAndGlyphs">(c) Deep SVDD</text>
<text x="1292.00" y="42.60" font-size="12" textLength="5.60" lengthAdjust="spacingAndGlyphs">F</text>
<rect x="1181.80" y="55.90" width="134.00" height="88.00" fill="#fff" stroke="#000" stroke-width="2"/>
<circle cx="1216.30" cy="67.00" r="5.7" fill="#3bc3c8"/>
<text x="1249.40" y="72.20" font-size="14" textLength="28.60" lengthAdjust="spacingAndGlyphs">Train</text>
<circle cx="1216.30" cy="83.50" r="5.7" fill="#80b3de"/>
<text x="1249.40" y="88.70" font-size="14" textLength="58.00" lengthAdjust="spacingAndGlyphs">Validation</text>
<circle cx="1216.30" cy="100.00" r="5.7" fill="#f8a888"/>
<text x="1249.40" y="105.20" font-size="14" textLength="21.70" lengthAdjust="spacingAndGlyphs">Test</text>
<line x1="1187.40" y1="116.50" x2="1244.00" y2="116.50" stroke="#0b1a8f" stroke-width="3.5" stroke-dasharray="2.8 3.14"/>
<text x="1249.40" y="121.70" font-size="14" textLength="54.30" lengthAdjust="spacingAndGlyphs">Threshold</text>
<line x1="1187.30" y1="133.00" x2="1245.30" y2="133.00" stroke="#8f1a1f" stroke-width="2" stroke-dasharray="14.7 9.2"/>
<text x="1249.40" y="138.20" font-size="14" textLength="57.60" lengthAdjust="spacingAndGlyphs">Fault Time</text>
<clipPath id="cpd"><rect x="1510.20" y="45.20" width="361.80" height="383.50"/></clipPath>
<g clip-path="url(#cpd)">
<path d="M1526.6 341.0h0M1526.5 347.0h0M1527.0 351.0h0M1527.3 355.0h0M1527.5 359.0h0M1527.3 362.0h0M1527.8 366.0h0M1528.0 370.0h0M1528.5 373.0h0M1527.2 349.0h0M1527.8 364.0h0" stroke="#3bc3c8" stroke-width="6.2" stroke-linecap="round" fill="none"/>
<path d="M1530.0 358.0h0M1530.3 363.0h0M1530.8 368.0h0M1531.5 371.0h0" stroke="#80b3de" stroke-width="6.2" stroke-linecap="round" fill="none"/>
<path d="M1539.6 97.0h0M1539.8 102.1h0M1539.9 93.7h0M1539.8 98.1h0M1540.2 92.6h0M1540.7 88.5h0M1541.1 93.2h0M1541.0 91.7h0M1541.2 88.8h0M1541.7 88.0h0M1541.8 85.7h0M1542.0 85.2h0M1542.6 85.6h0M1542.6 83.7h0M1542.9 81.6h0M1542.7 80.9h0M1543.4 79.7h0M1543.4 79.8h0M1543.9 81.0h0M1543.6 79.1h0M1544.2 79.4h0M1544.7 80.2h0M1544.2 79.6h0M1544.5 79.0h0M1544.7 78.8h0M1545.2 78.6h0M1545.5 78.5h0M1545.8 78.2h0M1546.1 78.0h0M1546.7 77.7h0M1546.8 77.9h0M1546.8 77.5h0M1547.3 77.4h0M1547.4 77.2h0M1547.8 77.4h0M1547.8 77.1h0M1547.5 77.1h0M1548.2 77.1h0M1548.5 77.1h0M1548.3 77.1h0M1548.4 77.1h0M1548.6 77.1h0M1549.1 77.1h0M1549.5 77.1h0M1549.4 77.1h0M1550.1 77.1h0M1550.2 77.1h0M1550.0 77.1h0M1550.7 77.1h0M1550.9 77.1h0M1551.3 77.1h0M1551.4 77.1h0M1551.7 77.1h0M1551.5 77.1h0M1552.4 77.1h0M1551.9 77.1h0M1552.6 77.1h0M1552.4 77.1h0M1553.4 77.1h0M1553.0 77.1h0M1553.1 77.1h0M1553.4 77.1h0M1554.2 77.1h0M1554.1 77.1h0M1554.6 77.1h0M1554.7 77.1h0M1555.0 77.1h0M1555.3 77.1h0M1555.2 77.1h0M1555.6 77.1h0M1555.8 77.1h0M1555.8 77.1h0M1556.1 77.1h0M1556.8 77.1h0M1557.2 77.1h0M1557.4 77.1h0M1557.1 77.1h0M1557.2 77.1h0M1558.0 77.1h0M1557.8 77.1h0M1558.5 77.1h0M1558.2 77.1h0M1558.5 77.1h0M1559.0 77.1h0M1559.1 77.1h0M1559.1 77.1h0M1559.6 77.1h0M1560.3 77.1h0M1559.8 77.1h0M1560.4 77.1h0M1561.0 77.1h0M1561.2 77.1h0M1560.9 77.1h0M1561.4 77.1h0M1561.8 77.1h0M1561.5 77.1h0M1561.9 77.1h0M1562.4 77.1h0M1562.5 77.1h0M1562.5 77.1h0M1562.7 77.1h0M1562.9 77.1h0M1563.8 77.1h0M1563.8 77.1h0M1563.8 77.1h0M1564.3 77.1h0M1564.8 77.1h0M1565.0 77.1h0M1564.6 77.1h0M1565.3 77.1h0M1565.2 77.1h0M1565.5 77.1h0M1566.0 77.1h0M1566.0 77.1h0M1566.1 77.1h0M1566.6 77.1h0M1566.5 77.1h0M1567.1 77.1h0M1567.6 77.1h0M1567.7 77.1h0M1567.4 77.1h0M1568.0 77.1h0M1568.5 77.1h0M1568.7 77.1h0M1568.7 77.1h0M1568.6 77.1h0M1569.3 77.1h0M1569.5 77.1h0M1570.0 77.1h0M1569.5 77.1h0M1570.2 77.1h0M1570.4 77.1h0M1571.0 77.1h0M1571.0 77.1h0M1571.2 77.1h0M1571.4 77.1h0M1571.3 77.1h0M1571.9 77.1h0M1572.0 77.1h0M1572.6 77.1h0M1572.3 77.1h0M1572.8 77.1h0M1573.1 77.1h0M1573.6 77.1h0M1573.5 77.1h0M1573.9 77.1h0M1573.8 77.1h0M1574.3 77.1h0M1574.1 77.1h0M1574.6 77.1h0M1574.6 77.1h0M1575.5 77.1h0M1575.0 77.1h0M1575.5 77.1h0M1575.7 77.1h0M1576.0 77.1h0M1576.3 77.1h0M1576.5 77.1h0M1577.2 77.1h0M1577.0 77.1h0M1577.0 77.1h0M1577.4 77.1h0M1577.5 77.1h0M1578.0 77.1h0M1578.4 77.1h0M1578.3 77.1h0M1578.9 77.1h0M1579.2 77.1h0M1579.0 77.1h0M1579.6 77.1h0M1580.0 77.1h0M1579.6 77.1h0M1580.0 77.1h0M1580.2 77.1h0M1580.7 77.1h0M1581.3 77.1h0M1581.5 77.1h0M1581.7 77.1h0M1581.3 77.1h0M1581.5 77.1h0M1582.1 77.1h0M1582.0 77.1h0M1582.3 77.1h0M1582.8 77.1h0M1582.7 77.1h0M1583.6 77.1h0M1583.4 77.1h0M1583.4 77.1h0M1584.0 77.1h0M1584.5 77.1h0M1584.2 77.1h0M1584.8 77.1h0M1584.8 77.1h0M1585.5 77.1h0M1585.2 77.1h0M1585.4 77.1h0M1585.8 77.1h0M1586.3 77.1h0M1586.8 77.1h0M1586.5 77.1h0M1586.5 77.1h0M1587.0 77.1h0M1587.0 77.1h0M1587.4 77.1h0M1587.5 77.1h0M1588.4 77.1h0M1588.2 77.1h0M1588.4 77.1h0M1588.6 77.1h0M1588.8 77.1h0M1589.5 77.1h0M1589.7 77.1h0M1589.6 77.1h0M1589.8 77.1h0M1590.1 77.1h0M1590.2 77.1h0M1590.7 77.1h0M1591.0 77.1h0M1591.1 77.1h0M1591.1 77.1h0M1591.3 77.1h0M1591.8 77.1h0M1591.9 77.1h0M1592.4 77.1h0M1592.8 77.1h0M1593.2 77.1h0M1593.1 77.1h0M1593.3 77.1h0M1593.8 77.1h0M1593.6 77.1h0M1593.7 77.1h0M1594.4 77.1h0M1594.5 77.1h0M1594.7 77.1h0M1594.8 77.1h0M1595.6 77.1h0M1595.8 77.1h0M1595.8 77.1h0M1595.9 77.1h0M1596.5 77.1h0M1596.4 77.1h0M1596.9 77.1h0M1597.2 77.1h0M1596.7 77.1h0M1597.1 77.1h0M1597.4 77.1h0M1597.8 77.1h0M1598.3 77.1h0M1598.3 77.1h0M1598.3 77.1h0M1599.1 77.1h0M1599.3 77.1h0M1599.0 77.1h0M1599.4 77.1h0M1599.3 77.1h0M1600.1 77.1h0M1600.0 77.1h0M1600.6 77.1h0M1600.4 77.1h0M1601.1 77.1h0M1601.5 77.1h0M1601.1 77.1h0M1601.3 77.1h0M1602.1 77.1h0M1601.8 77.1h0M1602.4 77.1h0M1602.6 77.1h0M1602.8 77.1h0M1603.4 77.1h0M1603.4 77.1h0M1603.7 77.1h0M1603.7 77.1h0M1604.1 77.1h0M1604.0 77.1h0M1604.8 77.1h0M1605.1 77.1h0M1605.2 77.1h0M1605.6 77.1h0M1605.2 77.1h0M1605.9 77.1h0M1605.8 77.1h0M1606.5 77.1h0M1606.2 77.1h0M1606.5 77.1h0M1606.9 77.1h0M1607.5 77.1h0M1607.0 77.1h0M1607.8 77.1h0M1608.1 77.1h0M1608.2 77.1h0M1608.4 77.1h0M1608.5 77.1h0M1609.0 77.1h0M1608.9 77.1h0M1609.3 77.1h0M1609.1 77.1h0M1609.5 77.1h0M1610.1 77.1h0M1610.4 77.1h0M1610.3 77.1h0M1611.0 77.1h0M1610.7 77.1h0M1610.8 77.1h0M1611.5 77.1h0M1611.4 77.1h0M1612.2 77.1h0M1612.3 77.1h0M1612.0 77.1h0M1612.2 77.1h0M1612.6 77.1h0M1613.2 77.1h0M1613.2 77.1h0M1613.2 77.1h0M1613.8 77.1h0M1614.3 77.1h0M1614.5 77.1h0M1614.5 77.1h0M1615.0 77.1h0M1615.1 77.1h0M1614.9 77.1h0M1615.4 77.1h0M1615.9 77.1h0M1615.8 77.1h0M1616.2 77.1h0M1616.4 77.1h0M1616.3 77.1h0M1617.1 77.1h0M1616.9 77.1h0M1617.2 77.1h0M1617.7 77.1h0M1617.7 77.1h0M1618.1 77.1h0M1618.5 77.1h0M1618.9 77.1h0M1618.6 77.1h0M1619.2 77.1h0M1619.4 77.1h0M1619.4 77.1h0M1619.8 77.1h0M1620.2 77.1h0M1620.1 77.1h0M1620.6 77.1h0M1620.7 77.1h0M1621.3 77.1h0M1621.2 77.1h0M1621.2 77.1h0M1621.4 77.1h0M1622.2 77.1h0M1622.2 77.1h0M1622.0 77.1h0M1622.6 77.1h0M1623.1 77.1h0M1622.7 77.1h0M1623.7 77.1h0M1623.5 77.1h0M1623.9 77.1h0M1623.7 77.1h0M1624.5 77.1h0M1624.5 77.1h0M1624.5 77.1h0M1625.0 77.1h0M1625.6 77.1h0M1625.4 77.1h0M1625.5 77.1h0M1626.3 77.1h0M1626.4 77.1h0M1626.4 77.1h0M1626.7 77.1h0M1626.6 77.1h0M1626.8 77.1h0M1627.2 77.1h0M1627.8 77.1h0M1628.0 77.1h0M1628.2 77.1h0M1628.0 77.1h0M1628.3 77.1h0M1628.5 77.1h0M1629.0 77.1h0M1629.1 77.1h0M1629.9 77.1h0M1629.5 77.1h0M1630.3 77.1h0M1630.6 77.1h0M1630.5 77.1h0M1630.8 77.1h0M1631.3 77.1h0M1630.8 77.1h0M1631.7 77.1h0M1631.4 77.1h0M1631.9 77.1h0M1631.8 77.1h0M1632.4 77.1h0M1632.7 77.1h0M1632.8 77.1h0M1632.7 77.1h0M1633.7 77.1h0M1633.8 77.1h0M1633.7 77.1h0M1634.1 77.1h0M1634.2 77.1h0M1634.1 77.1h0M1634.6 77.1h0M1634.6 77.1h0M1635.2 77.1h0M1635.7 77.1h0M1635.6 77.1h0M1636.1 77.1h0M1636.2 77.1h0M1636.8 77.1h0M1636.5 77.1h0M1637.1 77.1h0M1637.1 77.1h0M1637.0 77.1h0M1637.4 77.1h0M1637.8 77.1h0M1638.3 77.1h0M1638.3 77.1h0M1638.4 77.1h0M1638.6 77.1h0M1639.2 77.1h0M1639.0 77.1h0M1639.1 77.1h0M1639.8 77.1h0M1639.9 77.1h0M1640.3 77.1h0M1640.8 77.1h0M1640.5 77.1h0M1641.3 77.1h0M1641.3 77.1h0M1641.5 77.1h0M1641.6 77.1h0M1641.8 77.1h0M1642.4 77.1h0M1642.1 77.1h0M1642.9 77.1h0M1642.7 77.1h0M1643.2 77.1h0M1643.0 77.1h0M1643.3 77.1h0M1644.0 77.1h0M1643.9 77.1h0M1644.3 77.1h0M1644.7 77.1h0M1644.6 77.1h0M1645.3 77.1h0M1645.4 77.1h0M1645.1 77.1h0M1645.9 77.1h0M1646.1 77.1h0M1646.4 77.1h0M1646.4 77.1h0M1647.0 77.1h0M1647.0 77.1h0M1646.9 77.1h0M1647.8 77.1h0M1647.7 77.1h0M1648.2 77.1h0M1648.0 77.1h0M1648.2 77.1h0M1648.6 77.1h0M1648.7 77.1h0M1649.4 77.1h0M1649.2 77.1h0M1649.8 77.1h0M1649.8 77.1h0M1650.3 77.1h0M1650.5 77.1h0M1650.6 77.1h0M1650.9 77.1h0M1651.3 77.1h0M1651.2 77.1h0M1651.2 77.1h0M1652.0 77.1h0M1652.2 77.1h0M1652.2 77.1h0M1652.4 77.1h0M1652.5 77.1h0M1653.0 77.1h0M1653.2 77.1h0M1653.5 77.1h0M1653.8 77.1h0M1653.8 77.1h0M1654.2 77.1h0M1654.2 77.1h0M1654.3 77.1h0M1654.9 77.1h0M1655.1 77.1h0M1655.5 77.1h0M1655.4 77.1h0M1655.4 77.1h0M1656.2 77.1h0M1656.3 77.1h0M1656.4 77.1h0M1656.7 77.1h0M1657.1 77.1h0M1657.3 77.1h0M1657.4 77.1h0M1657.8 77.1h0M1657.7 77.1h0M1658.3 77.1h0M1658.6 77.1h0M1658.6 77.1h0M1659.0 77.1h0M1658.9 77.1h0M1659.5 77.1h0M1659.3 77.1h0M1659.9 77.1h0M1660.1 77.1h0M1660.1 77.1h0M1660.3 77.1h0M1660.5 77.1h0M1661.1 77.1h0M1661.6 77.1h0M1661.6 77.1h0M1662.1 77.1h0M1661.6 77.1h0M1662.1 77.1h0M1662.4 77.1h0M1662.8 77.1h0M1662.7 77.1h0M1663.5 77.1h0M1663.0 77.1h0M1663.7 77.1h0M1663.8 77.1h0M1664.3 77.1h0M1664.0 77.1h0M1664.4 77.1h0M1665.2 77.1h0M1665.2 77.1h0M1664.9 77.1h0M1665.2 77.1h0M1665.4 77.1h0M1666.1 77.1h0M1666.0 77.1h0M1666.6 77.1h0M1666.7 77.1h0M1666.6 77.1h0M1666.9 77.1h0M1667.1 77.1h0M1667.3 77.1h0M1667.7 77.1h0M1667.8 77.1h0M1668.3 77.1h0M1668.3 77.1h0M1668.8 77.1h0M1669.4 77.1h0M1669.3 77.1h0M1669.8 77.1h0M1669.8 77.1h0M1670.2 77.1h0M1670.4 77.1h0M1670.4 77.1h0M1671.0 77.1h0M1671.0 77.1h0M1668.1 120.5h0M1668.2 112.9h0M1668.3 129.9h0M1669.2 118.9h0M1669.3 110.7h0M1669.8 104.4h0M1670.2 106.1h0M1670.0 100.7h0M1670.4 107.0h0M1670.6 122.2h0M1671.4 135.4h0M1671.8 132.8h0M1672.0 101.7h0M1672.3 115.5h0M1672.3 125.8h0M1672.9 134.5h0M1673.2 109.4h0M1673.5 109.2h0M1673.8 135.4h0M1673.9 105.3h0M1674.5 127.9h0M1674.6 143.7h0M1674.9 107.1h0M1675.5 114.6h0M1675.3 145.5h0M1675.9 116.6h0M1676.2 137.9h0M1676.3 147.2h0M1676.7 136.1h0M1677.4 157.2h0M1677.2 152.4h0M1677.8 134.7h0M1677.9 163.2h0M1678.5 142.8h0M1679.0 161.1h0M1678.7 150.5h0M1679.4 163.9h0M1679.7 176.5h0M1680.2 177.6h0M1680.4 167.5h0M1680.7 180.8h0M1681.1 187.5h0M1681.0 192.2h0M1681.3 178.6h0M1681.9 167.1h0M1681.8 174.0h0M1682.7 205.5h0M1683.0 192.6h0M1682.9 190.0h0M1683.2 219.7h0M1683.8 204.8h0M1683.7 205.7h0M1684.5 209.1h0M1684.6 212.4h0M1684.7 224.7h0M1685.0 239.3h0M1685.8 267.2h0M1685.7 275.5h0M1686.5 280.7h0M1686.7 271.5h0M1686.5 276.0h0M1687.4 236.5h0M1687.1 238.3h0M1688.1 210.9h0M1688.2 221.0h0M1688.3 281.7h0M1688.3 315.2h0M1689.3 214.7h0M1689.1 304.9h0M1689.5 262.3h0M1689.5 253.3h0M1690.6 318.8h0M1690.2 230.5h0M1690.8 219.5h0M1691.4 275.5h0M1691.8 302.6h0M1691.7 267.6h0M1691.9 274.5h0M1692.8 248.6h0M1692.9 269.2h0M1693.2 251.8h0M1693.0 223.8h0M1693.9 226.7h0M1694.0 237.2h0M1694.3 249.9h0M1694.4 231.5h0M1694.8 212.3h0M1695.3 218.8h0M1695.9 233.3h0M1695.5 234.9h0M1696.1 217.8h0M1696.4 232.8h0M1696.7 226.6h0M1697.2 227.3h0M1697.5 198.8h0M1697.5 213.5h0M1698.0 184.2h0M1698.1 173.2h0M1698.9 188.8h0M1698.8 184.1h0M1699.3 178.8h0M1699.3 170.7h0M1700.1 159.8h0M1700.3 180.2h0M1700.6 154.4h0M1700.6 194.6h0M1701.4 178.4h0M1701.5 209.9h0M1701.5 226.9h0M1702.0 192.4h0M1702.4 198.3h0M1702.9 172.2h0M1702.8 203.2h0M1703.0 211.8h0M1703.6 189.0h0M1704.0 169.9h0M1704.4 210.9h0M1704.7 158.4h0M1704.9 178.4h0M1705.6 187.7h0M1705.4 169.4h0M1706.0 189.4h0M1705.9 188.0h0M1706.4 149.0h0M1706.8 171.8h0M1707.0 194.8h0M1707.2 243.1h0M1707.7 209.7h0M1708.1 217.1h0M1708.3 248.2h0M1708.9 244.5h0M1708.8 222.8h0M1709.6 229.9h0M1709.6 254.3h0M1710.3 197.0h0M1710.5 194.4h0M1710.3 204.2h0M1710.7 238.4h0M1711.6 229.9h0M1711.7 229.6h0M1711.8 210.3h0M1712.2 262.7h0M1712.7 236.9h0M1712.4 212.5h0M1713.3 263.9h0M1713.4 220.0h0M1713.9 255.9h0M1713.7 216.2h0M1714.5 223.4h0M1714.5 273.6h0M1715.0 238.3h0M1715.6 232.5h0M1715.7 226.5h0M1716.3 207.0h0M1716.5 191.3h0M1716.3 234.8h0M1717.1 199.1h0M1717.4 186.5h0M1717.4 244.7h0M1717.9 240.0h0M1717.9 185.0h0M1718.0 161.1h0M1718.8 221.9h0M1718.7 234.9h0M1719.0 209.7h0M1719.3 226.3h0M1719.9 182.9h0M1720.1 175.3h0M1720.5 214.8h0M1720.6 218.7h0M1721.5 158.0h0M1721.2 177.4h0M1722.0 178.2h0M1721.9 207.2h0M1722.4 207.1h0M1722.9 134.7h0M1723.3 165.0h0M1723.1 138.6h0M1724.0 126.9h0M1723.8 152.1h0M1724.1 200.1h0M1724.3 166.9h0M1725.0 149.6h0M1725.4 193.3h0M1725.7 187.7h0M1726.0 133.6h0M1726.4 200.4h0M1726.6 132.7h0M1727.0 172.6h0M1726.9 194.9h0M1727.5 149.0h0M1727.4 127.9h0M1728.1 172.6h0M1728.5 128.7h0M1729.1 154.2h0M1728.9 153.3h0M1729.7 111.2h0M1729.8 153.2h0M1729.7 188.8h0M1730.0 127.3h0M1730.3 160.5h0M1730.9 188.1h0M1731.4 189.1h0M1731.3 170.7h0M1732.1 170.7h0M1732.4 158.4h0M1732.4 185.5h0M1733.1 169.3h0M1733.3 143.0h0M1733.3 209.3h0M1734.1 206.1h0M1734.1 165.6h0M1734.0 215.7h0M1734.5 199.0h0M1735.3 207.7h0M1735.4 199.4h0M1735.6 182.7h0M1736.3 176.1h0M1736.0 223.5h0M1736.5 223.4h0M1736.9 184.0h0M1737.6 212.8h0M1737.4 189.8h0M1737.7 224.7h0M1738.3 212.4h0M1738.3 201.3h0M1738.8 229.1h0M1739.2 186.2h0M1739.3 235.4h0M1739.8 242.2h0M1739.9 256.0h0M1740.6 256.7h0M1740.3 269.0h0M1740.8 291.9h0M1741.2 289.6h0M1741.9 293.2h0M1742.2 232.2h0M1742.1 272.4h0M1742.1 226.2h0M1742.9 243.3h0M1743.1 306.9h0M1743.7 281.1h0M1743.8 202.4h0M1744.5 305.1h0M1744.6 264.8h0M1745.0 204.4h0M1744.7 276.2h0M1745.2 289.6h0M1745.4 259.8h0M1745.6 234.6h0M1746.5 206.8h0M1746.7 264.9h0M1746.5 253.7h0M1747.1 221.5h0M1747.3 271.2h0M1747.6 262.4h0M1747.8 276.0h0M1748.7 242.3h0M1748.8 292.1h0M1748.7 300.9h0M1749.7 243.8h0M1749.9 243.6h0M1750.1 277.0h0M1750.5 240.8h0M1750.3 233.6h0M1750.9 257.4h0M1751.1 266.1h0M1751.6 278.4h0M1751.5 253.6h0M1752.6 287.2h0M1752.5 213.9h0M1753.1 230.7h0M1753.5 239.5h0M1753.7 277.9h0M1754.0 272.4h0M1754.0 274.8h0M1754.6 278.0h0M1754.9 241.1h0M1755.4 277.7h0M1755.5 282.7h0M1755.7 288.6h0M1755.6 282.7h0M1756.5 260.8h0M1756.3 217.5h0M1756.9 205.4h0M1757.2 196.6h0M1757.9 217.2h0M1757.9 271.4h0M1758.5 195.6h0M1758.2 254.0h0M1759.0 255.6h0M1759.2 277.5h0M1759.2 185.9h0M1759.6 243.7h0M1760.1 254.8h0M1760.6 220.4h0M1761.0 198.5h0M1761.1 245.3h0M1761.6 261.4h0M1761.7 201.7h0M1762.1 261.1h0M1762.5 213.3h0M1762.8 199.5h0M1763.0 196.1h0M1763.2 267.4h0M1763.5 227.6h0M1763.9 266.0h0M1763.8 243.0h0M1764.5 251.7h0M1765.0 218.4h0M1765.3 252.9h0M1765.6 181.5h0M1765.3 231.9h0M1766.0 217.0h0M1766.0 178.6h0M1766.7 251.9h0M1766.9 200.9h0M1767.3 242.4h0M1767.9 217.1h0M1767.8 243.9h0M1768.1 236.8h0M1768.1 229.2h0M1768.8 212.0h0M1769.2 245.0h0M1769.4 253.4h0M1769.4 235.5h0M1769.8 223.5h0M1770.4 228.8h0M1770.7 241.9h0M1770.6 204.8h0M1771.3 227.4h0M1771.2 195.6h0M1771.5 241.1h0M1772.2 248.8h0M1772.5 245.9h0M1772.8 225.2h0M1773.4 247.3h0M1773.1 209.9h0M1774.0 217.1h0M1773.8 199.2h0M1774.3 174.6h0M1775.1 206.1h0M1775.5 171.4h0M1775.4 215.6h0M1775.5 190.3h0M1775.7 186.2h0M1776.4 185.1h0M1776.7 205.1h0M1776.9 204.4h0M1777.4 180.7h0M1777.4 235.4h0M1778.1 181.3h0M1777.8 218.6h0M1778.4 194.9h0M1778.7 198.0h0M1779.4 181.1h0M1779.1 241.8h0M1779.9 220.8h0M1780.3 189.8h0M1780.4 204.9h0M1780.6 249.2h0M1781.1 207.2h0M1781.5 212.1h0M1781.3 256.4h0M1782.2 241.4h0M1782.3 182.1h0M1782.7 252.9h0M1782.7 216.2h0M1783.0 158.3h0M1783.7 154.3h0M1783.7 199.4h0M1783.8 244.9h0M1784.6 175.9h0M1784.6 209.9h0M1785.0 171.2h0M1785.6 189.9h0M1785.8 160.2h0M1785.7 216.1h0M1786.6 174.2h0M1786.3 120.0h0M1787.2 149.4h0M1786.9 113.0h0M1787.9 156.1h0M1787.7 153.9h0M1788.5 104.0h0M1788.6 146.2h0M1788.9 135.9h0M1789.3 167.5h0M1789.1 138.2h0M1789.4 115.8h0M1790.3 129.5h0M1790.5 162.6h0M1790.9 124.2h0M1790.7 167.0h0M1791.5 141.2h0M1791.5 120.6h0M1792.2 91.7h0M1792.0 110.4h0M1792.7 92.1h0M1793.3 106.0h0M1793.1 123.3h0M1793.4 164.9h0M1793.4 143.9h0M1793.9 123.3h0M1794.8 142.9h0M1795.1 153.6h0M1795.0 100.9h0M1795.5 97.7h0M1795.6 125.1h0M1796.2 156.2h0M1796.0 112.4h0M1796.8 129.2h0M1797.4 113.7h0M1797.2 128.3h0M1797.8 156.9h0M1798.3 146.4h0M1798.0 115.3h0M1798.7 172.4h0M1798.5 127.7h0M1798.9 152.0h0M1799.4 104.2h0M1799.8 115.3h0M1800.4 162.1h0M1800.4 130.7h0M1800.5 109.0h0M1801.1 144.4h0M1801.4 123.0h0M1801.8 163.2h0M1801.6 178.8h0M1801.9 177.7h0M1802.7 143.0h0M1803.1 124.5h0M1803.1 118.9h0M1803.9 153.6h0M1803.7 155.6h0M1804.0 141.0h0M1804.3 134.3h0M1804.9 158.1h0M1805.4 136.5h0M1805.4 151.4h0M1805.6 126.6h0M1806.3 113.8h0M1806.8 129.8h0M1807.0 106.7h0M1807.1 105.4h0M1807.7 164.1h0M1807.4 143.2h0M1808.2 170.5h0M1808.1 155.4h0M1808.9 150.4h0M1809.1 158.7h0M1809.5 135.0h0M1809.1 104.3h0M1809.4 103.7h0M1810.1 121.7h0M1810.6 115.4h0M1810.7 146.0h0M1811.2 139.7h0M1811.1 107.1h0M1811.4 130.3h0M1812.0 111.6h0M1810.9 104.8h0M1810.9 100.9h0M1811.3 95.9h0M1811.5 93.6h0M1811.3 93.7h0M1811.7 91.2h0M1811.6 88.0h0M1812.4 88.4h0M1812.0 85.5h0M1812.4 88.5h0M1812.9 87.5h0M1813.4 84.0h0M1813.2 82.7h0M1813.5 82.4h0M1814.2 80.6h0M1813.8 79.8h0M1814.4 80.8h0M1814.6 79.9h0M1815.1 79.0h0M1815.3 79.3h0M1815.0 79.0h0M1815.9 78.5h0M1815.8 77.9h0M1815.7 77.6h0M1815.8 77.1h0M1816.2 77.1h0M1816.7 77.1h0M1816.9 77.1h0M1816.7 77.1h0M1816.9 77.1h0M1817.2 77.1h0M1817.4 77.1h0M1818.0 77.1h0M1818.5 77.1h0M1818.4 77.1h0M1819.0 77.1h0M1818.8 77.1h0M1819.5 77.1h0M1819.2 77.1h0M1819.3 77.1h0M1819.6 77.1h0M1820.3 77.1h0M1819.9 77.1h0M1820.6 77.1h0M1820.6 77.1h0M1820.8 77.1h0M1821.6 77.1h0M1821.7 77.1h0M1821.4 77.1h0M1822.3 77.1h0M1822.5 77.1h0M1822.8 77.1h0M1822.5 77.1h0M1822.5 77.1h0M1822.9 77.1h0M1823.5 77.1h0M1823.6 77.1h0M1823.9 77.1h0M1824.0 77.1h0M1824.0 77.1h0M1824.3 77.1h0M1824.8 77.1h0M1824.9 77.1h0M1825.6 77.1h0M1825.8 77.1h0M1825.9 77.1h0M1825.8 77.1h0M1826.3 77.1h0M1826.2 77.1h0M1826.9 77.1h0M1827.0 77.1h0M1827.1 77.1h0M1827.3 77.1h0M1827.4 77.1h0M1827.9 77.1h0M1828.6 77.1h0M1828.4 77.1h0M1828.5 77.1h0M1828.9 77.1h0M1828.9 77.1h0M1829.5 77.1h0M1829.5 77.1h0M1829.6 77.1h0M1830.2 77.1h0M1830.1 77.1h0M1830.8 77.1h0M1830.9 77.1h0M1830.8 77.1h0M1831.3 77.1h0M1831.4 77.1h0M1831.6 77.1h0M1832.4 77.1h0M1832.3 77.1h0M1832.8 77.1h0M1833.1 77.1h0M1833.1 77.1h0M1832.7 89.4h0M1833.1 130.5h0M1833.8 94.2h0M1833.7 130.5h0M1834.5 101.0h0M1834.9 134.7h0M1835.2 85.5h0M1835.5 103.9h0M1835.2 113.1h0M1835.6 135.6h0M1836.2 123.6h0M1836.7 102.5h0M1837.1 161.5h0M1836.9 128.9h0M1837.5 145.3h0M1837.4 164.5h0M1838.3 144.6h0M1838.5 160.6h0M1838.5 105.2h0M1838.6 152.8h0M1839.0 133.8h0M1839.7 145.5h0M1840.2 133.0h0M1840.3 186.2h0M1840.6 97.8h0M1840.5 133.9h0M1841.5 136.7h0M1841.7 179.2h0M1841.7 128.7h0M1842.0 154.0h0M1842.1 189.8h0M1842.5 176.5h0M1842.7 149.0h0M1843.0 143.8h0M1843.4 119.9h0M1844.2 147.3h0M1844.2 154.5h0M1844.6 156.8h0M1844.6 179.0h0M1845.0 141.5h0M1845.5 205.9h0M1845.8 161.9h0M1846.1 200.6h0M1846.4 205.4h0M1846.6 147.1h0M1847.3 212.0h0M1847.5 209.4h0M1847.9 157.7h0M1848.0 218.5h0M1848.3 208.7h0M1849.1 133.6h0M1849.0 173.6h0M1849.0 181.4h0M1849.8 209.0h0M1849.9 201.4h0M1850.2 188.3h0M1850.5 182.1h0M1851.0 164.8h0M1851.0 191.6h0M1851.3 225.3h0M1851.5 231.6h0M1852.3 198.9h0M1852.2 236.7h0M1853.0 186.5h0M1853.2 169.7h0M1853.3 193.0h0M1853.4 211.6h0M1854.3 230.0h0M1854.5 226.8h0M1854.8 225.7h0M1855.2 205.9h0M1533.2 338.5h0M1534.0 346.0h0M1534.5 352.0h0M1535.0 358.0h0M1535.5 363.0h0M1536.0 368.0h0M1535.0 371.0h0M1537.0 361.0h0M1537.5 355.0h0M1538.0 350.0h0M1538.3 345.0h0M1536.5 343.0h0M1537.6 289.9h0M1537.6 247.0h0M1537.7 213.3h0M1537.8 186.7h0M1537.8 164.8h0M1537.8 147.0h0M1537.9 132.6h0M1537.9 122.0h0M1538.0 113.2h0M1538.0 105.4h0M1538.1 99.0h0" stroke="#f8a888" stroke-width="6.2" stroke-linecap="round" fill="none"/>
<line x1="1510.20" y1="341.50" x2="1872.00" y2="341.50" stroke="#0b1a8f" stroke-width="3.5" stroke-dasharray="2.8 3.14" stroke-dashoffset="0.78"/>
<line x1="1537.90" y1="45.20" x2="1537.90" y2="428.70" stroke="#8f1a1f" stroke-width="2.5" stroke-dasharray="14.5 9.25" stroke-dashoffset="10.45"/>
</g>
<rect x="1510.20" y="45.20" width="361.80" height="383.50" fill="none" stroke="#000" stroke-width="2.0"/>
<path d="M1510.20 396.74h4.5M1872.00 396.74h-4.5M1510.20 332.82h4.5M1872.00 332.82h-4.5M1510.20 268.91h4.5M1872.00 268.91h-4.5M1510.20 204.99h4.5M1872.00 204.99h-4.5M1510.20 141.07h4.5M1872.00 141.07h-4.5M1510.20 77.16h4.5M1872.00 77.16h-4.5M1526.45 428.70v-4.5M1526.45 45.20v4.5M1533.20 428.70v-4.5M1533.20 45.20v4.5M1582.20 428.70v-4.5M1582.20 45.20v4.5M1670.00 428.70v-4.5M1670.00 45.20v4.5M1757.40 428.70v-4.5M1757.40 45.20v4.5M1811.20 428.70v-4.5M1811.20 45.20v4.5" stroke="#000" stroke-width="2" fill="none"/>
<text x="1506.90" y="404.04" text-anchor="end" font-size="20.5">0</text>
<text x="1506.90" y="340.12" text-anchor="end" font-size="20.5">0.2</text>
<text x="1506.90" y="276.21" text-anchor="end" font-size="20.5">0.4</text>
<text x="1506.90" y="212.29" text-anchor="end" font-size="20.5">0.6</text>
<text x="1506.90" y="148.38" text-anchor="end" font-size="20.5">0.8</text>
<text x="1506.90" y="84.46" text-anchor="end" font-size="20.5">1</text>
<text transform="translate(1468.70,501.70) rotate(-45)" font-size="17" textLength="84.6" lengthAdjust="spacingAndGlyphs">2022-09-03</text>
<text transform="translate(1487.10,501.70) rotate(-45)" font-size="17" textLength="85.0" lengthAdjust="spacingAndGlyphs">2022-11-04</text>
<text transform="translate(1531.20,501.70) rotate(-45)" font-size="17" textLength="79.0" lengthAdjust="spacingAndGlyphs">2022-12-11</text>
<text transform="translate(1617.70,501.70) rotate(-45)" font-size="17" textLength="83.6" lengthAdjust="spacingAndGlyphs">2022-12-23</text>
<text transform="translate(1704.60,501.70) rotate(-45)" font-size="17" textLength="84.6" lengthAdjust="spacingAndGlyphs">2023-01-04</text>
<text transform="translate(1758.00,501.70) rotate(-45)" font-size="17" textLength="79.3" lengthAdjust="spacingAndGlyphs">2023-01-21</text>
<text x="1670.40" y="523.20" font-size="21" textLength="39.6" lengthAdjust="spacingAndGlyphs">Date</text>
<text transform="translate(1468.90,236.95) rotate(-90)" text-anchor="middle" font-size="17.5" textLength="81" lengthAdjust="spacingAndGlyphs">Health Index</text>
<text x="1634.10" y="35.50" font-size="20.6" textLength="104.10" lengthAdjust="spacingAndGlyphs">(d) OC-SVM</text>
<text x="1738.00" y="42.60" font-size="12" textLength="5.40" lengthAdjust="spacingAndGlyphs">F</text>
<rect x="1544.00" y="242.70" width="134.30" height="87.50" fill="#fff" stroke="#000" stroke-width="2"/>
<circle cx="1578.50" cy="253.80" r="5.7" fill="#3bc3c8"/>
<text x="1611.60" y="259.00" font-size="14" textLength="28.60" lengthAdjust="spacingAndGlyphs">Train</text>
<circle cx="1578.50" cy="270.30" r="5.7" fill="#80b3de"/>
<text x="1611.60" y="275.50" font-size="14" textLength="58.00" lengthAdjust="spacingAndGlyphs">Validation</text>
<circle cx="1578.50" cy="286.80" r="5.7" fill="#f8a888"/>
<text x="1611.60" y="292.00" font-size="14" textLength="21.70" lengthAdjust="spacingAndGlyphs">Test</text>
<line x1="1549.60" y1="303.30" x2="1606.20" y2="303.30" stroke="#0b1a8f" stroke-width="3.5" stroke-dasharray="2.8 3.14"/>
<text x="1611.60" y="308.50" font-size="14" textLength="54.30" lengthAdjust="spacingAndGlyphs">Threshold</text>
<line x1="1549.50" y1="319.80" x2="1607.50" y2="319.80" stroke="#8f1a1f" stroke-width="2" stroke-dasharray="14.7 9.2"/>
<text x="1611.60" y="325.00" font-size="14" textLength="57.60" lengthAdjust="spacingAndGlyphs">Fault Time</text>
<clipPath id="cpe"><rect x="85.00" y="591.80" width="361.80" height="383.20"/></clipPath>
<g clip-path="url(#cpe)">
<path d="M100.6 848.3h0M101.3 853.0h0M102.0 857.7h0M102.3 862.4h0M102.8 868.7h0M103.0 878.0h0M103.5 887.4h0M104.0 892.0h0M104.8 907.0h0M105.6 926.0h0" stroke="#3bc3c8" stroke-width="6.2" stroke-linecap="round" fill="none"/>
<path d="M107.2 778.2h0M106.9 792.0h0M106.9 816.4h0M106.9 850.5h0M106.3 883.7h0" stroke="#80b3de" stroke-width="6.2" stroke-linecap="round" fill="none"/>
<path d="M108.4 726.1h0M108.4 723.3h0M108.9 717.3h0M109.0 720.0h0M109.1 719.9h0M110.1 718.4h0M110.0 713.5h0M110.4 721.7h0M110.6 711.7h0M110.4 708.1h0M110.8 712.3h0M111.2 700.7h0M111.2 701.1h0M111.7 699.4h0M112.2 697.1h0M112.2 707.0h0M112.2 698.5h0M112.4 697.7h0M112.8 694.8h0M112.7 696.2h0M113.5 695.7h0M113.4 698.0h0M113.4 695.5h0M114.0 689.4h0M113.9 699.6h0M114.0 695.1h0M114.5 695.3h0M114.4 699.5h0M114.5 695.4h0M115.3 695.2h0M115.4 697.4h0M115.2 694.9h0M115.9 695.2h0M116.2 694.9h0M116.6 698.1h0M116.8 695.7h0M116.7 695.4h0M117.3 701.2h0M117.2 696.1h0M117.0 695.4h0M117.2 696.6h0M117.8 699.7h0M117.9 697.5h0M118.1 701.5h0M118.4 697.2h0M118.7 698.8h0M118.7 695.7h0M119.1 694.8h0M119.7 694.9h0M119.5 697.3h0M120.0 695.3h0M120.3 700.3h0M120.6 698.1h0M120.6 699.5h0M120.8 699.0h0M121.1 699.6h0M121.6 700.9h0M121.3 701.6h0M122.3 698.2h0M122.1 701.7h0M122.1 702.2h0M122.4 702.0h0M122.9 698.9h0M123.3 701.9h0M123.3 701.8h0M123.2 702.2h0M124.0 702.0h0M124.4 700.7h0M124.2 702.5h0M124.9 702.7h0M125.0 702.5h0M125.2 700.8h0M124.9 702.0h0M125.2 702.4h0M125.6 702.9h0M125.7 701.8h0M126.2 702.9h0M126.4 702.8h0M126.8 702.8h0M127.3 702.2h0M127.5 702.2h0M127.2 696.0h0M127.9 702.0h0M127.7 702.7h0M128.5 701.7h0M128.6 702.8h0M128.4 702.8h0M128.9 702.5h0M129.2 699.9h0M129.0 702.6h0M129.5 696.2h0M129.7 698.4h0M130.1 697.4h0M130.2 696.5h0M130.8 694.4h0M130.4 697.7h0M130.8 699.8h0M130.8 697.3h0M131.5 694.4h0M131.3 695.1h0M132.3 697.6h0M131.8 694.9h0M132.6 693.7h0M132.4 693.9h0M132.8 693.1h0M132.8 693.1h0M133.6 693.1h0M133.5 694.7h0M133.6 693.1h0M133.8 693.2h0M133.9 693.4h0M134.3 693.2h0M134.8 693.5h0M135.1 693.2h0M135.6 694.1h0M135.9 693.5h0M135.5 693.7h0M136.3 694.0h0M136.0 694.4h0M136.7 693.3h0M137.0 693.2h0M136.8 693.3h0M136.9 693.3h0M137.4 694.0h0M137.9 693.5h0M138.0 694.8h0M138.2 693.1h0M138.2 693.3h0M139.0 693.2h0M139.2 693.2h0M138.8 693.6h0M139.0 693.2h0M139.8 693.3h0M140.0 693.1h0M140.3 693.2h0M140.6 693.5h0M140.3 693.6h0M140.5 693.7h0M141.3 693.9h0M140.8 693.5h0M141.7 693.5h0M141.4 693.5h0M142.1 695.5h0M142.2 696.2h0M142.5 694.6h0M142.9 700.4h0M142.9 694.0h0M143.0 696.0h0M143.6 694.3h0M143.3 700.3h0M143.8 693.9h0M144.1 694.1h0M144.5 695.2h0M144.2 695.1h0M145.1 695.0h0M144.8 694.7h0M145.5 694.5h0M145.8 695.0h0M145.5 695.3h0M145.9 695.2h0M146.2 694.4h0M146.4 696.1h0M146.7 696.6h0M147.2 701.5h0M147.4 696.9h0M147.3 701.1h0M147.6 699.1h0M148.1 701.1h0M148.0 701.2h0M148.3 703.0h0M148.4 702.3h0M149.1 698.6h0M149.4 703.6h0M149.4 701.4h0M149.2 701.6h0M150.1 703.7h0M150.4 702.7h0M150.3 702.8h0M150.8 703.0h0M151.1 701.4h0M150.9 697.3h0M151.6 702.1h0M151.1 703.1h0M151.4 701.5h0M151.9 699.6h0M152.2 700.4h0M152.7 701.7h0M153.1 701.5h0M152.8 702.0h0M153.2 697.0h0M153.4 697.2h0M153.9 699.3h0M153.5 696.6h0M153.9 699.4h0M154.3 697.4h0M154.3 700.6h0M154.7 702.5h0M155.0 702.0h0M154.9 696.4h0M155.3 700.7h0M155.8 701.6h0M155.9 697.3h0M156.6 697.2h0M156.4 701.6h0M157.0 700.8h0M156.9 698.9h0M156.8 701.0h0M157.4 697.3h0M157.9 700.7h0M157.6 693.9h0M157.8 697.6h0M158.1 694.5h0M158.5 693.6h0M159.1 696.4h0M159.1 696.2h0M159.7 695.9h0M159.8 695.0h0M159.9 693.4h0M160.4 697.2h0M159.9 693.3h0M160.2 695.0h0M160.9 696.2h0M160.7 693.5h0M160.9 693.8h0M161.1 693.5h0M161.4 694.3h0M162.3 693.5h0M161.9 693.8h0M162.1 693.7h0M162.8 694.6h0M162.6 696.9h0M163.5 693.8h0M163.8 694.9h0M163.4 694.3h0M163.6 697.3h0M164.4 694.4h0M164.5 697.3h0M164.4 700.5h0M165.2 694.3h0M165.3 695.8h0M165.4 694.9h0M165.8 696.6h0M165.8 699.4h0M166.0 697.8h0M166.5 694.5h0M166.4 694.6h0M166.8 694.5h0M167.1 694.6h0M167.6 695.1h0M167.1 694.6h0M167.3 695.1h0M167.6 695.5h0M167.8 694.9h0M168.5 699.2h0M168.4 696.9h0M169.3 696.1h0M169.4 698.4h0M169.7 698.9h0M169.9 696.9h0M169.9 702.7h0M170.2 700.9h0M170.7 702.3h0M170.3 698.7h0M171.1 697.7h0M170.9 696.6h0M171.0 703.8h0M171.5 700.3h0M171.6 702.0h0M171.6 699.8h0M171.9 699.4h0M172.8 698.0h0M172.5 695.6h0M173.1 694.0h0M172.9 695.1h0M173.6 693.6h0M173.6 698.2h0M174.1 694.4h0M174.4 693.5h0M174.4 701.0h0M174.7 694.7h0M175.3 693.7h0M175.4 696.7h0M175.3 694.0h0M175.9 698.6h0M175.7 698.2h0M175.8 695.5h0M176.3 696.6h0M176.4 701.0h0M177.1 694.0h0M176.7 700.0h0M177.4 693.6h0M177.5 697.0h0M178.1 693.1h0M177.6 699.8h0M178.1 693.3h0M178.2 698.1h0M178.7 694.1h0M179.3 695.7h0M179.0 691.1h0M179.6 693.4h0M179.9 691.2h0M179.7 690.6h0M180.4 693.2h0M180.5 694.1h0M180.3 692.3h0M181.1 692.1h0M181.0 691.0h0M181.1 690.3h0M181.6 691.3h0M182.1 693.1h0M182.1 691.4h0M182.2 691.0h0M182.1 691.7h0M182.5 690.6h0M182.9 696.4h0M183.3 695.8h0M183.1 699.0h0M183.4 696.7h0M183.6 697.1h0M183.8 698.9h0M184.6 690.5h0M184.3 697.6h0M185.2 697.8h0M185.0 698.2h0M185.3 695.8h0M185.5 697.7h0M186.1 698.7h0M185.9 695.8h0M186.1 698.4h0M186.9 698.2h0M187.2 698.1h0M186.8 697.4h0M186.9 697.6h0M187.2 697.9h0M187.7 698.3h0M187.6 697.8h0M188.2 698.2h0M188.2 692.5h0M188.4 697.0h0M188.5 698.0h0M189.1 698.1h0M189.1 697.2h0M190.0 697.5h0M189.7 696.1h0M190.1 697.4h0M190.5 692.6h0M190.3 694.7h0M190.8 697.3h0M191.2 695.6h0M191.4 693.3h0M191.3 692.5h0M191.9 689.5h0M192.4 690.4h0M191.9 692.0h0M192.1 695.4h0M193.1 694.3h0M193.2 695.0h0M193.3 696.8h0M193.3 691.1h0M193.6 691.1h0M194.1 696.7h0M193.8 693.6h0M194.7 691.2h0M194.7 693.1h0M194.8 688.3h0M195.3 694.0h0M195.0 696.1h0M195.3 693.3h0M195.7 689.2h0M196.5 692.8h0M196.4 696.4h0M196.6 689.3h0M197.0 688.8h0M196.8 689.0h0M196.9 688.4h0M197.6 690.3h0M198.1 689.0h0M197.7 688.8h0M198.5 689.1h0M198.4 688.5h0M198.6 688.9h0M198.9 688.5h0M199.2 688.6h0M199.5 688.6h0M199.4 689.0h0M200.2 689.0h0M200.0 688.7h0M200.7 688.8h0M200.7 689.4h0M201.2 689.8h0M201.3 689.8h0M201.7 689.1h0M201.8 689.5h0M202.0 689.3h0M201.8 692.1h0M202.3 689.8h0M202.4 690.1h0M202.4 692.0h0M202.7 691.4h0M203.4 693.4h0M203.7 694.9h0M203.6 691.4h0M204.2 689.9h0M204.5 695.7h0M204.2 689.6h0M204.4 694.5h0M204.8 691.6h0M204.9 695.6h0M205.1 690.2h0M205.3 692.6h0M205.9 693.7h0M206.4 694.4h0M206.4 689.6h0M206.7 695.0h0M206.6 696.3h0M207.2 690.0h0M207.6 693.3h0M207.5 696.4h0M207.4 691.5h0M208.2 694.6h0M208.5 696.5h0M208.5 694.3h0M208.5 695.8h0M209.1 696.7h0M209.1 697.8h0M209.3 693.1h0M209.8 697.9h0M209.9 695.0h0M210.1 695.4h0M210.1 693.0h0M210.3 695.5h0M210.8 698.0h0M210.8 696.6h0M211.6 698.7h0M211.3 695.2h0M211.9 696.8h0M211.8 698.2h0M212.1 693.9h0M212.9 692.9h0M212.6 692.5h0M212.9 697.9h0M213.4 696.2h0M213.7 695.8h0M213.7 697.9h0M213.7 696.6h0M213.9 695.6h0M214.1 698.4h0M214.9 696.6h0M215.2 692.2h0M215.3 698.0h0M215.4 697.3h0M215.7 692.8h0M215.9 693.7h0M216.2 693.9h0M216.0 697.7h0M216.7 693.4h0M217.1 692.5h0M217.3 693.0h0M217.6 695.2h0M217.9 693.0h0M217.8 693.9h0M218.1 697.7h0M218.2 696.0h0M218.2 692.9h0M218.7 696.4h0M218.9 697.8h0M219.4 693.4h0M219.8 694.1h0M219.5 692.7h0M220.1 695.8h0M219.9 694.5h0M220.2 693.4h0M220.5 697.5h0M220.9 695.0h0M221.1 693.5h0M221.3 693.2h0M221.3 693.7h0M221.7 700.4h0M222.5 697.3h0M222.7 694.1h0M222.2 694.7h0M222.8 693.5h0M222.9 695.7h0M223.2 693.3h0M223.5 693.6h0M224.0 696.1h0M223.9 693.2h0M224.0 693.2h0M224.7 693.1h0M224.7 693.3h0M224.8 693.2h0M225.0 695.0h0M225.5 695.1h0M225.9 693.6h0M225.9 693.8h0M225.8 696.7h0M226.3 693.8h0M226.3 693.5h0M226.8 696.1h0M226.9 693.3h0M227.4 693.8h0M227.6 696.1h0M227.8 693.8h0M227.9 693.4h0M228.1 694.0h0M228.2 696.7h0M228.4 698.5h0M228.9 693.7h0M229.1 693.5h0M229.5 695.8h0M229.6 694.1h0M229.6 693.5h0M230.5 693.7h0M230.4 693.3h0M230.3 693.4h0M231.0 694.8h0M231.1 693.3h0M231.0 693.1h0M231.7 693.7h0M231.8 693.5h0M232.0 693.2h0M232.7 693.8h0M232.7 693.2h0M232.8 693.2h0M232.8 693.2h0M233.6 693.2h0M233.7 693.1h0M233.4 694.2h0M233.9 695.9h0M234.2 693.4h0M234.5 694.0h0M234.4 698.5h0M235.3 693.3h0M235.4 698.1h0M235.7 694.1h0M236.0 693.1h0M236.1 693.1h0M236.5 693.1h0M236.2 694.9h0M236.6 700.0h0M236.8 700.9h0M236.8 693.3h0M237.4 693.9h0M237.9 693.9h0M237.6 695.2h0M237.8 700.9h0M238.4 700.6h0M238.3 697.4h0M238.6 695.0h0M239.3 699.8h0M239.1 694.8h0M239.1 699.8h0M239.4 698.3h0M239.8 698.5h0M239.9 700.0h0M240.6 697.5h0M240.6 698.1h0M240.9 698.7h0M241.3 693.7h0M241.8 695.4h0M241.5 694.1h0M241.6 697.4h0M241.9 693.0h0M242.0 690.5h0M242.6 691.5h0M243.0 690.5h0M243.0 690.6h0M243.7 693.0h0M243.4 690.6h0M244.0 691.6h0M243.8 692.1h0M244.1 694.7h0M244.1 691.9h0M245.6 748.2h0M245.6 754.3h0M246.1 752.0h0M246.5 753.4h0M246.6 752.4h0M246.6 752.4h0M247.3 754.7h0M247.2 757.0h0M247.6 757.1h0M247.5 754.4h0M247.9 755.4h0M247.9 755.7h0M248.3 756.5h0M248.8 757.8h0M248.8 758.8h0M249.5 758.9h0M249.1 762.4h0M249.4 763.5h0M250.0 764.7h0M250.1 770.5h0M250.2 765.1h0M250.5 773.5h0M251.0 765.8h0M251.0 768.0h0M251.3 772.0h0M251.7 767.1h0M251.7 777.7h0M252.4 770.0h0M252.1 769.1h0M252.4 770.3h0M252.6 769.8h0M253.1 770.9h0M253.4 772.7h0M253.4 773.4h0M253.7 775.6h0M253.7 777.9h0M254.1 781.4h0M254.4 775.1h0M254.7 777.8h0M254.5 775.8h0M254.7 776.4h0M255.0 780.0h0M255.6 780.7h0M256.0 782.4h0M256.2 781.8h0M256.3 780.1h0M256.6 781.1h0M256.6 781.6h0M257.0 776.6h0M257.2 774.7h0M257.3 780.5h0M257.4 779.8h0M257.8 775.0h0M258.0 772.3h0M258.3 776.7h0M259.0 773.8h0M258.7 777.6h0M259.5 773.7h0M259.6 775.2h0M259.4 778.0h0M260.2 776.2h0M260.4 776.0h0M260.7 777.2h0M260.4 775.9h0M260.7 777.1h0M261.3 777.4h0M261.3 772.6h0M261.6 777.2h0M261.5 776.9h0M262.2 776.8h0M262.1 776.3h0M262.2 776.8h0M263.0 776.0h0M262.8 776.0h0M262.9 777.3h0M263.2 776.0h0M263.9 777.2h0M263.9 777.1h0M264.0 771.0h0M264.2 776.4h0M261.1 751.7h0M261.1 746.0h0M261.3 740.4h0M261.5 752.5h0M261.7 738.3h0M261.8 745.8h0M262.4 742.9h0M262.5 751.0h0M263.2 749.6h0M263.3 750.4h0M263.3 748.6h0M263.9 754.2h0M263.8 750.4h0M263.8 756.3h0M264.5 749.7h0M264.4 754.9h0M264.6 750.7h0M265.1 755.6h0M265.0 743.5h0M265.4 750.2h0M265.5 756.0h0M266.3 749.5h0M266.6 738.7h0M266.3 752.7h0M266.8 756.7h0M266.7 752.1h0M267.1 755.2h0M267.4 746.7h0M267.8 756.6h0M267.8 755.5h0M268.1 756.3h0M268.2 743.8h0M268.9 745.7h0M268.7 740.0h0M269.2 744.5h0M269.2 741.6h0M269.3 738.0h0M270.2 739.3h0M270.4 743.6h0M270.7 749.5h0M270.8 749.6h0M271.0 741.2h0M271.4 745.8h0M271.3 744.9h0M271.6 750.1h0M271.7 743.4h0M268.4 772.5h0M268.3 772.2h0M268.5 766.1h0M269.0 768.0h0M268.8 768.5h0M268.8 766.7h0M269.7 767.3h0M269.4 768.1h0M269.7 767.8h0M270.4 771.5h0M270.2 768.8h0M270.6 766.2h0M271.2 766.3h0M271.2 769.0h0M271.4 768.7h0M272.0 766.1h0M271.5 765.8h0M272.2 766.1h0M272.5 766.1h0M272.3 766.8h0M272.9 765.8h0M272.9 766.4h0M273.1 766.3h0M273.3 766.3h0M274.1 766.9h0M273.8 767.9h0M274.0 767.2h0M274.6 771.5h0M274.7 769.2h0M274.7 774.7h0M275.5 775.5h0M275.1 769.6h0M275.8 769.5h0M276.1 769.8h0M276.5 769.1h0M276.2 769.3h0M277.0 766.9h0M276.9 772.8h0M277.4 766.8h0M277.0 769.8h0M277.7 767.1h0M277.6 776.2h0M277.8 766.8h0M278.7 767.2h0M278.9 767.5h0M278.5 769.9h0M279.1 766.6h0M279.4 775.8h0M279.6 773.7h0M279.7 767.3h0M279.8 767.9h0M280.5 765.8h0M280.2 766.0h0M280.9 771.5h0M280.8 768.4h0M281.2 766.1h0M281.1 772.1h0M281.3 775.4h0M282.1 767.6h0M282.4 768.1h0M282.7 773.1h0M282.4 768.7h0M283.2 765.2h0M282.8 765.6h0M283.5 766.2h0M283.7 765.0h0M284.1 765.6h0M283.9 767.9h0M284.6 764.6h0M284.4 770.6h0M284.9 766.5h0M285.0 775.3h0M285.0 768.0h0M285.9 766.6h0M285.6 766.8h0M286.2 770.6h0M286.3 771.5h0M286.6 763.5h0M286.7 769.1h0M286.8 766.0h0M287.0 770.1h0M287.7 774.8h0M287.9 769.5h0M288.3 772.2h0M288.3 773.8h0M288.2 774.7h0M288.2 747.0h0M288.7 748.7h0M288.8 740.5h0M288.7 741.4h0M289.3 745.5h0M289.1 706.9h0M289.0 747.3h0M289.8 709.8h0M289.6 736.0h0M290.0 746.3h0M290.0 707.5h0M289.9 728.6h0M290.7 742.2h0M290.3 743.8h0M290.6 731.7h0M290.7 704.5h0M291.3 723.6h0M290.9 717.0h0M291.3 735.6h0M291.3 708.5h0M291.5 735.8h0M292.0 726.7h0M292.4 732.8h0M292.0 731.2h0M292.3 710.1h0M292.7 723.9h0M292.8 740.0h0M293.0 723.9h0M292.6 733.1h0M292.6 708.9h0M292.7 745.2h0M293.5 706.2h0M293.6 739.6h0M293.2 732.8h0M293.7 724.8h0M294.0 730.7h0M293.7 706.1h0M294.3 727.0h0M294.5 726.5h0M294.3 725.7h0M294.3 714.9h0M294.8 718.9h0M295.5 723.7h0M295.2 734.7h0M295.9 726.7h0M295.9 740.1h0M296.3 732.6h0M296.2 736.7h0M296.1 733.9h0M297.0 730.3h0M297.1 747.1h0M297.3 731.7h0M297.4 712.5h0M297.4 718.6h0M297.0 733.0h0M297.5 742.1h0M297.2 731.5h0M298.2 740.8h0M297.9 739.3h0M298.2 745.4h0M297.9 739.4h0M298.4 728.8h0M298.5 741.3h0M298.6 733.3h0M298.5 739.2h0M298.6 717.3h0M299.3 733.4h0M299.2 744.4h0M299.6 711.9h0M299.6 733.8h0M300.0 744.3h0M300.5 723.1h0M300.3 742.8h0M300.1 745.0h0M300.8 741.8h0M300.4 744.5h0M300.7 720.0h0M300.9 714.6h0M300.8 726.4h0M300.8 707.5h0M301.0 740.2h0M301.7 716.6h0M301.5 709.2h0M302.1 737.2h0M301.9 740.7h0M302.7 736.8h0M302.7 740.0h0M302.9 743.2h0M302.5 743.7h0M303.1 716.7h0M303.2 736.2h0M303.1 734.0h0M303.7 706.0h0M303.8 710.8h0M303.5 740.8h0M304.1 712.0h0M304.1 740.0h0M304.3 709.7h0M304.3 708.2h0M304.5 722.9h0M304.6 709.0h0M304.6 709.5h0M304.8 709.5h0M304.9 733.2h0M305.5 733.7h0M305.8 738.6h0M306.1 733.7h0M306.3 734.8h0M306.5 736.4h0M306.3 737.3h0M306.6 734.3h0M307.0 735.4h0M306.9 735.2h0M307.1 734.7h0M307.5 742.8h0M307.6 736.4h0M308.4 743.2h0M308.7 742.7h0M308.3 755.7h0M309.1 754.1h0M309.0 750.1h0M309.2 752.1h0M309.6 744.7h0M310.1 760.2h0M310.2 739.0h0M309.8 759.6h0M310.7 759.7h0M310.6 753.4h0M310.6 757.7h0M311.1 741.0h0M311.2 743.7h0M311.3 759.2h0M311.7 759.2h0M311.4 757.2h0M311.6 748.2h0M311.6 756.8h0M312.1 733.6h0M312.2 757.7h0M312.2 741.0h0M312.3 753.3h0M312.8 750.7h0M312.8 736.2h0M313.0 734.4h0M313.1 738.5h0M313.3 736.3h0M314.0 735.4h0M314.4 734.2h0M314.3 731.9h0M314.4 738.1h0M315.1 739.0h0M314.9 734.0h0M315.1 735.8h0M315.7 728.6h0M315.9 734.0h0M316.1 733.8h0M315.8 751.9h0M316.3 741.9h0M316.4 728.0h0M317.0 734.2h0M316.7 730.0h0M317.2 749.5h0M317.8 725.2h0M317.9 737.5h0M317.8 725.0h0M315.9 707.1h0M316.0 709.9h0M316.3 704.7h0M316.5 724.5h0M316.4 705.1h0M317.0 702.8h0M317.0 708.4h0M317.2 703.1h0M317.3 704.5h0M317.9 719.9h0M317.6 705.3h0M317.8 721.3h0M318.1 704.1h0M318.0 702.5h0M318.7 730.3h0M318.9 704.9h0M318.5 702.2h0M319.2 708.7h0M319.3 718.6h0M319.3 703.8h0M319.4 714.4h0M319.6 735.3h0M319.9 714.7h0M319.8 711.9h0M319.7 705.6h0M320.4 701.9h0M320.0 705.3h0M320.5 705.4h0M320.8 708.1h0M320.5 728.0h0M321.2 710.0h0M320.6 724.4h0M320.9 702.9h0M321.5 715.4h0M321.3 705.3h0M321.6 725.4h0M322.0 731.3h0M322.4 713.6h0M322.5 707.3h0M322.7 706.9h0M322.5 703.1h0M323.3 719.2h0M323.2 730.4h0M323.2 735.1h0M323.4 711.4h0M323.3 718.5h0M323.8 703.0h0M323.8 735.3h0M323.9 704.0h0M324.0 702.7h0M324.8 702.3h0M324.3 722.3h0M325.1 701.5h0M324.9 704.2h0M325.0 707.0h0M325.2 705.5h0M325.2 731.0h0M325.6 699.2h0M325.9 723.0h0M325.8 700.0h0M326.4 729.3h0M326.0 716.7h0M326.5 702.1h0M326.7 705.1h0M326.9 704.5h0M327.1 702.9h0M327.3 714.7h0M327.9 698.7h0M327.8 701.6h0M328.5 698.7h0M328.2 701.6h0M328.3 735.4h0M328.6 702.2h0M328.7 706.9h0M329.1 702.6h0M328.9 711.5h0M329.3 728.1h0M329.3 722.8h0M329.4 707.8h0M329.7 710.2h0M329.7 704.3h0M329.5 706.2h0M330.0 729.6h0M330.7 732.5h0M330.5 703.8h0M330.4 706.7h0M330.9 723.0h0M330.7 702.7h0M331.0 709.5h0M331.0 706.0h0M331.7 728.1h0M331.2 732.8h0M331.9 703.1h0M331.8 706.6h0M332.5 705.1h0M332.4 723.3h0M332.3 703.4h0M332.4 711.6h0M333.2 706.2h0M333.6 706.3h0M333.3 729.1h0M333.4 710.0h0M333.9 705.5h0M333.7 736.2h0M334.3 739.5h0M334.1 708.1h0M334.2 714.0h0M334.4 707.8h0M334.1 730.9h0M335.0 741.0h0M334.4 718.8h0M334.6 736.0h0M335.5 737.0h0M335.0 737.5h0M335.1 709.2h0M335.1 725.8h0M336.0 711.4h0M335.6 743.8h0M336.2 736.1h0M336.0 727.7h0M336.4 729.6h0M336.6 737.0h0M336.7 746.1h0M336.7 724.4h0M336.7 747.3h0M336.6 719.1h0M337.3 745.8h0M337.2 741.3h0M337.6 746.5h0M337.6 729.7h0M338.1 747.3h0M337.6 731.2h0M337.7 746.0h0M338.1 746.1h0M338.0 742.0h0M338.6 719.8h0M338.6 746.6h0M338.8 737.3h0M338.8 716.9h0M339.0 742.8h0M338.9 711.0h0M339.0 747.4h0M339.6 709.7h0M339.3 729.1h0M339.7 738.7h0M339.9 747.0h0M339.8 732.9h0M340.0 736.5h0M339.9 721.6h0M340.1 708.8h0M340.2 730.2h0M340.7 742.2h0M340.8 717.0h0M340.3 711.6h0M341.1 738.3h0M340.7 745.2h0M341.2 744.6h0M341.4 719.7h0M341.9 732.5h0M341.6 719.5h0M341.8 709.9h0M342.2 740.7h0M341.8 713.3h0M342.3 711.5h0M342.5 745.4h0M342.4 725.4h0M342.6 738.1h0M342.6 713.5h0M342.5 715.5h0M343.3 748.3h0M343.5 716.7h0M343.8 716.3h0M343.8 714.7h0M344.3 719.6h0M344.3 734.7h0M344.2 717.4h0M344.4 742.1h0M344.8 754.0h0M344.6 722.1h0M345.1 745.6h0M345.4 725.0h0M345.5 746.6h0M345.4 755.2h0M345.1 732.1h0M345.5 749.7h0M345.9 757.5h0M345.8 767.1h0M345.8 765.0h0M345.8 767.4h0M346.6 764.6h0M346.7 757.7h0M346.7 764.6h0M346.8 744.9h0M346.8 767.1h0M346.9 759.7h0M347.4 768.3h0M347.1 744.5h0M347.8 768.6h0M347.2 754.6h0M347.7 766.2h0M347.7 765.6h0M348.1 740.3h0M348.1 738.0h0M348.8 760.7h0M348.4 767.6h0M348.7 748.8h0M349.2 768.2h0M349.1 729.5h0M349.1 743.9h0M349.5 754.1h0M349.2 746.7h0M349.3 756.8h0M349.4 738.1h0M349.9 742.2h0M350.1 749.3h0M350.7 739.1h0M350.8 740.3h0M350.5 743.2h0M350.3 747.5h0M350.8 752.3h0M351.0 764.6h0M351.2 744.8h0M351.6 752.8h0M351.4 755.3h0M352.2 764.0h0M352.3 751.0h0M352.4 753.0h0M352.6 756.0h0M352.4 748.2h0M353.0 750.4h0M352.4 734.0h0M352.8 752.7h0M352.8 760.4h0M353.0 739.6h0M353.7 761.9h0M353.8 759.2h0M353.7 758.2h0M353.9 757.8h0M354.8 752.5h0M354.9 759.0h0M354.9 762.2h0M355.0 760.3h0M355.4 758.1h0M355.2 761.2h0M355.8 727.7h0M355.7 761.5h0M355.9 729.5h0M355.8 757.9h0M356.2 761.2h0M356.8 757.6h0M356.0 759.0h0M354.9 747.1h0M354.7 717.8h0M354.6 715.3h0M355.3 742.6h0M354.9 747.3h0M355.2 755.1h0M355.5 739.2h0M356.0 744.6h0M355.5 718.4h0M356.2 756.1h0M355.9 755.7h0M356.4 752.5h0M356.9 714.7h0M356.4 729.3h0M357.0 744.0h0M357.1 758.1h0M357.3 750.8h0M357.6 746.8h0M357.1 754.8h0M357.8 723.7h0M357.5 726.0h0M357.9 714.8h0M358.4 735.1h0M358.5 743.5h0M358.0 736.8h0M358.4 728.0h0M358.8 752.6h0M358.7 708.9h0M359.2 752.1h0M359.1 753.0h0M359.2 741.0h0M358.9 733.9h0M359.3 724.3h0M359.5 720.6h0M360.0 744.7h0M360.1 738.9h0M360.2 757.5h0M360.2 723.8h0M360.0 716.9h0M360.3 755.3h0M360.6 712.9h0M360.8 756.3h0M360.6 709.6h0M361.1 722.7h0M361.7 711.3h0M361.5 716.9h0M361.9 708.8h0M361.7 729.2h0M361.5 707.8h0M361.5 719.2h0M362.0 716.3h0M362.0 756.4h0M362.4 747.3h0M362.6 745.9h0M362.8 706.9h0M362.9 745.1h0M362.5 707.3h0M362.9 711.5h0M362.9 745.6h0M363.3 724.5h0M363.2 723.6h0M363.6 754.4h0M363.6 753.9h0M363.1 721.9h0M363.4 711.1h0M363.8 717.4h0M364.3 724.9h0M363.9 737.8h0M364.1 722.0h0M364.5 708.4h0M364.7 709.3h0M364.4 732.6h0M364.8 746.2h0M365.0 737.7h0M365.4 720.5h0M365.6 741.0h0M365.5 757.6h0M365.9 713.4h0M365.7 747.8h0M366.3 713.2h0M365.6 742.5h0M366.2 728.8h0M365.8 716.9h0M366.1 742.1h0M366.7 748.1h0M367.0 741.7h0M366.3 742.6h0M366.7 730.6h0M367.4 717.1h0M367.0 716.8h0M367.8 735.0h0M367.4 759.8h0M367.3 712.8h0M367.7 723.3h0M368.1 725.7h0M367.6 718.9h0M368.0 725.1h0M368.4 749.6h0M368.7 758.2h0M368.1 760.9h0M368.6 730.6h0M368.5 721.8h0M369.4 741.2h0M368.9 720.9h0M369.2 733.8h0M369.1 717.2h0M369.5 732.3h0M369.4 737.4h0M369.9 744.2h0M370.2 751.4h0M369.8 740.8h0M370.5 742.2h0M370.1 722.9h0M370.2 720.9h0M371.0 725.0h0M371.3 743.8h0M370.8 757.2h0M369.5 760.6h0M369.6 762.3h0M369.3 765.9h0M369.9 766.4h0M369.6 732.0h0M369.8 737.9h0M370.5 737.3h0M370.3 728.8h0M370.4 750.4h0M370.5 764.6h0M370.9 753.3h0M371.3 740.3h0M370.8 766.8h0M371.0 763.1h0M371.7 763.0h0M371.6 747.9h0M372.0 727.4h0M372.3 766.7h0M371.8 737.5h0M372.2 766.7h0M372.7 745.9h0M372.5 726.3h0M373.0 748.3h0M372.4 746.9h0M373.1 748.2h0M372.6 728.1h0M373.4 743.3h0M373.5 734.3h0M373.4 742.6h0M374.1 748.3h0M374.0 744.1h0M374.1 737.4h0M374.4 745.2h0M374.1 738.3h0M374.3 734.2h0M374.7 753.2h0M374.7 727.8h0M375.1 735.8h0M375.0 726.4h0M374.8 755.9h0M375.2 735.6h0M376.0 728.6h0M376.2 729.9h0M376.3 733.6h0M376.4 732.4h0M376.4 736.0h0M376.5 766.4h0M377.2 735.4h0M377.4 739.9h0M377.7 737.0h0M377.6 741.4h0M382.1 708.2h0M382.7 707.0h0M382.7 705.5h0M383.2 704.6h0M382.8 703.4h0M383.8 704.6h0M383.9 700.6h0M383.9 699.0h0M384.2 700.0h0M384.7 697.4h0M384.7 698.1h0M385.0 696.6h0M385.2 696.0h0M385.5 698.6h0M385.2 694.2h0M385.9 692.0h0M386.3 692.0h0M386.3 696.2h0M386.9 697.8h0M387.0 690.7h0M387.2 690.9h0M387.6 690.1h0M387.2 689.9h0M387.7 689.5h0M386.3 697.6h0M386.1 692.7h0M386.8 698.1h0M386.3 695.0h0M387.1 698.3h0M387.0 698.7h0M387.3 698.6h0M387.8 697.7h0M387.6 695.7h0M387.8 692.5h0M388.8 691.5h0M388.9 693.2h0M388.7 697.2h0M389.3 694.8h0M389.5 698.9h0M389.4 699.1h0M389.5 699.0h0M390.4 689.9h0M390.2 699.5h0M390.3 699.9h0M391.0 693.7h0M390.8 693.5h0M391.5 698.0h0M391.2 692.7h0M391.5 698.4h0M391.9 694.2h0M392.2 698.9h0M392.8 700.2h0M392.3 694.7h0M392.9 692.6h0M393.3 693.2h0M393.2 690.0h0M393.5 698.3h0M393.7 698.1h0M394.4 692.4h0M394.4 694.1h0M394.9 691.8h0M394.9 693.2h0M395.0 692.1h0M395.2 692.5h0M395.8 691.3h0M395.8 691.9h0M396.4 697.7h0M396.3 696.9h0M396.4 695.8h0M396.8 699.4h0M397.2 694.3h0M397.6 699.0h0M397.9 698.1h0M398.1 698.0h0M398.3 698.0h0M398.1 692.1h0M398.8 696.0h0M398.4 698.6h0M398.7 696.6h0M399.0 696.3h0M399.3 700.3h0M399.7 694.1h0M399.7 694.4h0M400.0 699.8h0M400.2 697.0h0M400.8 696.1h0M400.9 700.1h0M401.3 698.2h0M401.0 699.6h0M401.2 700.1h0M402.0 699.4h0M401.8 701.8h0M402.5 698.3h0M402.3 701.5h0M402.8 696.2h0M403.1 701.5h0M403.5 698.5h0M403.8 699.8h0M403.5 695.3h0M404.1 694.4h0M404.4 698.1h0M404.1 702.0h0M404.6 698.5h0M405.4 693.6h0M405.4 693.3h0M405.1 698.5h0M405.4 701.4h0M405.6 699.5h0M406.2 698.8h0M406.1 702.2h0M406.9 697.8h0M407.2 701.6h0M407.3 702.5h0M407.6 702.1h0M407.5 699.4h0M408.3 702.6h0M407.8 701.0h0M408.4 699.0h0M408.4 699.4h0M408.7 697.9h0M409.2 695.4h0M409.0 699.1h0M409.9 695.5h0M409.6 697.0h0M409.9 660.2h0M410.2 665.2h0M410.5 662.9h0M410.2 663.8h0M411.1 671.4h0M410.9 671.6h0M410.9 670.2h0M411.4 667.1h0M411.6 658.0h0M411.7 658.3h0M412.0 669.7h0M412.5 663.7h0M412.4 671.6h0M413.2 672.9h0M413.0 665.3h0M413.6 663.5h0M413.5 659.8h0M414.2 659.6h0M414.0 658.6h0M414.7 665.8h0M414.5 658.9h0M414.9 659.0h0M414.7 661.0h0M415.3 658.0h0M415.2 659.8h0M416.1 660.6h0M415.8 660.0h0M415.9 659.8h0M416.1 660.7h0M416.4 667.3h0M416.6 660.7h0M417.0 660.9h0M417.2 673.3h0M417.3 660.2h0M417.9 665.8h0M418.4 664.0h0M418.7 661.1h0M418.6 661.3h0M419.2 665.9h0M419.0 662.0h0M419.3 667.6h0M419.7 666.3h0M419.6 670.1h0M420.0 668.6h0M420.4 671.5h0M420.5 669.6h0M420.7 670.9h0M421.1 673.4h0M421.6 674.0h0M421.3 675.1h0M421.4 680.0h0M421.8 676.9h0M422.2 694.0h0M422.1 685.4h0M422.7 680.1h0M428.0 685.9h0M428.6 689.7h0M428.4 681.0h0M428.6 689.2h0M429.1 689.8h0M429.3 689.2h0M429.7 688.8h0M430.0 689.4h0M429.7 683.2h0M430.4 681.0h0M430.5 689.5h0M430.5 689.7h0M430.7 689.8h0M430.9 689.8h0M431.5 689.8h0M431.9 685.4h0M431.8 687.4h0M107.5 765.4h0M108.0 753.9h0M108.5 741.4h0M109.0 727.9h0M110.0 720.0h0M111.5 710.7h0M112.5 703.0h0M113.8 696.6h0M244.2 711.0h0M244.5 726.7h0M244.8 736.8h0M268.0 722.0h0M268.0 728.5h0M268.0 737.8h0M288.0 704.7h0M288.3 715.7h0M288.6 721.0h0M289.0 730.4h0M289.3 738.7h0M289.6 747.0h0M290.0 752.5h0M290.3 760.0h0M378.0 748.8h0M379.0 737.8h0M380.0 727.6h0M381.0 720.3h0M381.8 713.0h0M382.2 708.3h0" stroke="#f8a888" stroke-width="6.2" stroke-linecap="round" fill="none"/>
<line x1="85.00" y1="778.20" x2="446.80" y2="778.20" stroke="#0b1a8f" stroke-width="3.5" stroke-dasharray="2.8 3.14" stroke-dashoffset="0.78"/>
<line x1="112.70" y1="591.80" x2="112.70" y2="975.00" stroke="#8f1a1f" stroke-width="2.5" stroke-dasharray="14.5 9.25" stroke-dashoffset="10.45"/>
</g>
<rect x="85.00" y="591.80" width="361.80" height="383.20" fill="none" stroke="#000" stroke-width="2.0"/>
<path d="M85.00 943.07h4.5M446.80 943.07h-4.5M85.00 889.84h4.5M446.80 889.84h-4.5M85.00 836.62h4.5M446.80 836.62h-4.5M85.00 783.40h4.5M446.80 783.40h-4.5M85.00 730.18h4.5M446.80 730.18h-4.5M85.00 676.96h4.5M446.80 676.96h-4.5M85.00 623.73h4.5M446.80 623.73h-4.5M101.25 975.00v-4.5M101.25 591.80v4.5M108.00 975.00v-4.5M108.00 591.80v4.5M157.00 975.00v-4.5M157.00 591.80v4.5M244.80 975.00v-4.5M244.80 591.80v4.5M332.20 975.00v-4.5M332.20 591.80v4.5M386.00 975.00v-4.5M386.00 591.80v4.5" stroke="#000" stroke-width="2" fill="none"/>
<text x="81.70" y="950.37" text-anchor="end" font-size="20.5">0.5</text>
<text x="81.70" y="897.14" text-anchor="end" font-size="20.5">0.6</text>
<text x="81.70" y="843.92" text-anchor="end" font-size="20.5">0.7</text>
<text x="81.70" y="790.70" text-anchor="end" font-size="20.5">0.8</text>
<text x="81.70" y="737.48" text-anchor="end" font-size="20.5">0.9</text>
<text x="81.70" y="684.26" text-anchor="end" font-size="20.5">1</text>
<text x="81.70" y="631.03" text-anchor="end" font-size="20.5">1.1</text>
<text transform="translate(42.90,1046.80) rotate(-45)" font-size="17" textLength="84.6" lengthAdjust="spacingAndGlyphs">2022-09-03</text>
<text transform="translate(61.30,1046.80) rotate(-45)" font-size="17" textLength="85.0" lengthAdjust="spacingAndGlyphs">2022-11-04</text>
<text transform="translate(105.50,1046.80) rotate(-45)" font-size="17" textLength="79.0" lengthAdjust="spacingAndGlyphs">2022-12-11</text>
<text transform="translate(192.00,1046.80) rotate(-45)" font-size="17" textLength="83.6" lengthAdjust="spacingAndGlyphs">2022-12-23</text>
<text transform="translate(278.90,1046.80) rotate(-45)" font-size="17" textLength="84.6" lengthAdjust="spacingAndGlyphs">2023-01-04</text>
<text transform="translate(332.30,1046.80) rotate(-45)" font-size="17" textLength="79.3" lengthAdjust="spacingAndGlyphs">2023-01-21</text>
<text x="257.90" y="1068.20" font-size="21" textLength="39.6" lengthAdjust="spacingAndGlyphs">Date</text>
<text transform="translate(43.20,783.40) rotate(-90)" text-anchor="middle" font-size="17.5" textLength="81" lengthAdjust="spacingAndGlyphs">Health Index</text>
<text x="246.60" y="582.30" font-size="20.6" textLength="50.90" lengthAdjust="spacingAndGlyphs">(e) AE</text>
<text x="297.30" y="589.40" font-size="12" textLength="6.80" lengthAdjust="spacingAndGlyphs">R</text>
<rect x="287.90" y="866.90" width="134.40" height="88.30" fill="#fff" stroke="#000" stroke-width="2"/>
<circle cx="322.40" cy="878.00" r="5.7" fill="#3bc3c8"/>
<text x="355.50" y="883.20" font-size="14" textLength="28.60" lengthAdjust="spacingAndGlyphs">Train</text>
<circle cx="322.40" cy="894.50" r="5.7" fill="#80b3de"/>
<text x="355.50" y="899.70" font-size="14" textLength="58.00" lengthAdjust="spacingAndGlyphs">Validation</text>
<circle cx="322.40" cy="911.00" r="5.7" fill="#f8a888"/>
<text x="355.50" y="916.20" font-size="14" textLength="21.70" lengthAdjust="spacingAndGlyphs">Test</text>
<line x1="293.50" y1="927.50" x2="350.10" y2="927.50" stroke="#0b1a8f" stroke-width="3.5" stroke-dasharray="2.8 3.14"/>
<text x="355.50" y="932.70" font-size="14" textLength="54.30" lengthAdjust="spacingAndGlyphs">Threshold</text>
<line x1="293.40" y1="944.00" x2="351.40" y2="944.00" stroke="#8f1a1f" stroke-width="2" stroke-dasharray="14.7 9.2"/>
<text x="355.50" y="949.20" font-size="14" textLength="57.60" lengthAdjust="spacingAndGlyphs">Fault Time</text>
<clipPath id="cpf"><rect x="560.45" y="591.80" width="360.25" height="383.20"/></clipPath>
<g clip-path="url(#cpf)">
<path d="M576.3 848.0h0M577.2 853.0h0M578.1 857.7h0M578.8 862.4h0M579.4 868.7h0M579.7 878.0h0M580.3 889.0h0M580.3 892.0h0M581.3 909.3h0M581.3 928.0h0" stroke="#3bc3c8" stroke-width="6.2" stroke-linecap="round" fill="none"/>
<path d="M582.5 779.5h0M582.5 792.7h0M582.5 817.0h0M582.5 852.0h0M581.9 886.8h0" stroke="#80b3de" stroke-width="6.2" stroke-linecap="round" fill="none"/>
<path d="M584.2 727.0h0M584.6 724.7h0M584.2 726.7h0M584.8 724.4h0M584.9 724.6h0M585.6 722.9h0M585.5 712.8h0M585.6 713.5h0M585.8 712.5h0M586.4 708.2h0M586.7 714.5h0M586.7 702.0h0M587.2 699.1h0M587.2 710.2h0M587.5 700.9h0M587.5 706.4h0M587.7 700.7h0M588.0 699.8h0M588.2 700.8h0M588.9 698.8h0M588.8 692.7h0M589.6 690.2h0M589.3 685.8h0M589.8 690.7h0M589.9 678.3h0M590.1 682.7h0M590.0 681.8h0M590.3 676.9h0M590.5 682.5h0M591.1 681.0h0M591.1 682.6h0M591.2 679.4h0M591.6 675.8h0M592.2 675.7h0M592.2 673.7h0M592.7 674.0h0M592.8 672.9h0M592.6 673.6h0M593.0 673.0h0M593.6 677.3h0M593.2 677.3h0M593.7 674.6h0M594.4 673.9h0M594.2 679.5h0M594.6 674.8h0M595.0 675.4h0M594.9 678.4h0M595.0 678.0h0M595.7 676.2h0M595.3 678.3h0M596.2 673.6h0M596.1 676.7h0M596.2 672.9h0M596.7 672.7h0M597.1 672.9h0M597.4 680.7h0M597.4 680.0h0M597.9 681.1h0M598.0 680.3h0M597.6 676.4h0M598.1 677.1h0M598.4 680.1h0M598.4 679.6h0M599.0 674.9h0M599.6 677.1h0M599.2 678.5h0M600.0 679.0h0M600.0 677.5h0M600.2 677.7h0M600.4 680.4h0M600.9 677.6h0M600.6 678.9h0M601.0 677.2h0M601.6 679.0h0M601.7 680.0h0M602.2 678.5h0M601.7 680.8h0M602.4 680.5h0M602.7 680.7h0M603.1 678.4h0M603.1 680.3h0M603.1 680.7h0M603.3 680.1h0M603.6 680.1h0M604.0 679.7h0M604.0 680.7h0M604.2 680.0h0M604.6 679.0h0M604.9 679.8h0M605.1 680.6h0M605.5 680.8h0M605.3 678.4h0M606.3 679.9h0M606.0 679.7h0M606.4 679.4h0M606.6 679.3h0M607.1 679.7h0M607.2 677.2h0M607.6 680.6h0M607.4 679.3h0M607.8 680.7h0M607.8 674.3h0M608.6 676.1h0M608.3 676.1h0M608.8 674.9h0M609.1 678.3h0M609.3 680.3h0M609.1 678.5h0M610.1 680.4h0M609.8 678.9h0M610.4 676.8h0M610.1 681.2h0M611.0 677.5h0M611.2 681.2h0M611.5 681.7h0M611.1 677.5h0M611.7 679.7h0M611.6 676.3h0M612.2 677.7h0M612.6 680.5h0M613.0 684.3h0M612.8 680.3h0M612.8 681.0h0M613.3 679.9h0M613.3 683.7h0M613.8 676.9h0M613.9 676.5h0M614.1 677.2h0M614.5 682.0h0M615.0 682.9h0M615.0 682.3h0M615.0 682.9h0M615.4 681.0h0M616.1 680.4h0M615.8 679.2h0M616.4 682.2h0M616.7 680.6h0M616.8 680.2h0M616.5 678.0h0M617.4 681.2h0M617.0 675.4h0M617.5 675.9h0M618.2 678.3h0M618.3 675.3h0M618.3 677.8h0M618.9 678.0h0M618.7 677.4h0M619.1 676.3h0M619.0 677.4h0M619.2 679.8h0M619.4 675.2h0M619.6 676.2h0M619.8 675.4h0M620.1 673.8h0M620.8 677.7h0M621.0 679.6h0M621.5 678.7h0M621.2 677.3h0M621.4 678.0h0M621.5 676.9h0M621.9 676.6h0M622.0 675.0h0M622.8 678.8h0M622.7 679.1h0M623.3 678.6h0M623.2 678.4h0M623.2 678.1h0M623.7 678.7h0M624.2 676.5h0M623.9 678.9h0M624.8 677.6h0M625.0 677.9h0M625.1 678.4h0M625.5 679.6h0M625.0 676.7h0M626.0 678.5h0M625.8 680.4h0M626.1 673.5h0M626.2 677.8h0M626.5 678.8h0M626.9 678.4h0M627.3 673.9h0M627.4 675.5h0M627.9 674.5h0M627.9 675.3h0M627.8 674.1h0M628.3 674.9h0M628.4 672.9h0M628.6 674.3h0M629.3 672.3h0M629.1 673.1h0M629.3 677.6h0M629.6 676.6h0M629.8 673.4h0M629.9 673.3h0M630.5 673.5h0M630.7 679.0h0M631.3 673.6h0M631.4 678.1h0M631.1 680.6h0M632.0 676.0h0M632.0 677.5h0M632.2 680.6h0M632.4 680.4h0M632.4 676.8h0M632.5 673.9h0M633.1 674.4h0M633.0 674.9h0M633.5 676.1h0M633.6 680.0h0M633.8 679.3h0M634.0 672.8h0M634.8 672.9h0M635.0 673.5h0M635.1 672.8h0M635.4 672.8h0M635.2 674.3h0M635.6 672.9h0M636.1 672.9h0M636.2 673.1h0M636.5 673.3h0M636.9 673.0h0M636.9 673.8h0M637.2 675.7h0M637.7 676.1h0M637.2 675.6h0M637.6 674.9h0M638.3 679.0h0M638.0 673.5h0M638.3 674.1h0M638.5 674.2h0M639.1 672.9h0M639.4 673.8h0M639.2 674.3h0M640.0 675.6h0M639.8 673.7h0M640.4 674.1h0M640.4 673.1h0M640.7 675.2h0M641.1 677.7h0M641.0 675.0h0M641.5 674.6h0M641.4 679.4h0M642.0 675.9h0M642.3 673.3h0M642.2 681.3h0M643.0 675.5h0M642.5 673.2h0M642.7 675.4h0M643.0 677.8h0M643.9 681.1h0M643.4 676.5h0M644.4 673.1h0M644.0 673.2h0M644.3 675.2h0M645.0 672.9h0M645.1 673.4h0M645.4 672.7h0M645.1 675.5h0M645.9 673.0h0M646.0 673.0h0M646.3 673.1h0M646.8 672.4h0M646.3 672.5h0M647.0 673.6h0M647.5 672.9h0M647.1 672.1h0M648.0 673.2h0M648.1 671.9h0M647.8 671.9h0M648.0 671.8h0M648.2 672.5h0M648.9 678.8h0M649.4 672.0h0M649.1 673.1h0M649.7 672.5h0M649.7 678.8h0M650.3 677.2h0M649.8 678.7h0M650.8 674.6h0M651.0 673.1h0M651.1 675.8h0M650.9 674.3h0M651.2 676.1h0M651.9 678.3h0M651.6 677.2h0M652.2 677.9h0M652.5 680.1h0M652.8 676.0h0M652.8 674.3h0M653.4 679.1h0M653.5 676.5h0M653.5 680.4h0M653.6 677.7h0M654.2 680.8h0M654.5 679.0h0M654.8 673.2h0M654.4 673.9h0M655.0 679.7h0M655.0 678.8h0M655.3 677.4h0M655.8 674.0h0M656.3 672.7h0M656.6 677.0h0M656.2 674.0h0M656.3 678.7h0M656.6 678.5h0M657.3 679.3h0M657.7 677.4h0M657.3 675.7h0M657.5 676.7h0M658.1 681.9h0M658.0 679.8h0M658.5 677.3h0M658.6 677.5h0M659.2 681.2h0M659.1 681.8h0M659.5 680.2h0M659.8 677.7h0M659.8 681.2h0M659.9 676.2h0M660.5 679.5h0M661.0 680.7h0M660.9 681.1h0M661.3 680.9h0M661.1 681.0h0M661.8 680.9h0M661.6 680.7h0M662.1 678.8h0M662.4 680.4h0M662.7 676.8h0M662.6 677.6h0M663.3 673.5h0M663.1 671.9h0M663.6 674.6h0M663.6 673.9h0M663.9 671.4h0M664.0 674.8h0M664.5 672.7h0M665.0 671.5h0M664.8 675.0h0M665.3 672.1h0M665.5 676.5h0M665.6 674.6h0M665.8 675.5h0M666.1 676.0h0M666.4 675.3h0M666.5 677.5h0M667.2 675.0h0M667.3 678.0h0M667.6 671.7h0M667.3 674.1h0M668.2 673.0h0M668.1 677.5h0M668.6 673.9h0M668.2 673.6h0M668.6 671.4h0M669.0 676.3h0M668.9 672.6h0M669.8 675.7h0M670.1 671.7h0M670.3 672.6h0M670.4 673.5h0M670.7 671.3h0M670.5 672.5h0M671.3 673.6h0M671.2 673.0h0M671.8 675.0h0M671.3 677.7h0M672.1 672.0h0M671.9 672.2h0M672.4 671.7h0M672.5 671.8h0M672.7 674.7h0M673.1 672.7h0M673.7 672.3h0M673.2 674.9h0M673.6 676.1h0M674.1 675.5h0M674.1 673.7h0M674.9 674.9h0M674.7 678.1h0M675.3 674.3h0M674.9 671.8h0M675.5 672.1h0M675.8 674.4h0M676.2 672.0h0M676.1 672.7h0M676.7 676.1h0M676.7 677.4h0M677.2 677.0h0M677.3 673.9h0M677.8 675.6h0M677.2 673.7h0M678.1 673.4h0M677.9 672.3h0M678.0 677.4h0M678.2 675.8h0M678.5 677.6h0M679.2 676.4h0M679.3 677.0h0M679.5 676.8h0M680.1 676.3h0M679.9 676.0h0M680.6 675.8h0M680.8 676.2h0M680.8 672.8h0M681.1 673.4h0M681.2 673.2h0M681.3 672.5h0M681.9 671.6h0M681.6 674.3h0M682.4 672.9h0M682.5 671.9h0M682.3 671.0h0M682.8 671.1h0M683.0 672.7h0M683.3 671.3h0M684.0 671.1h0M683.5 671.0h0M683.8 670.9h0M684.3 670.9h0M684.7 670.9h0M685.1 670.9h0M685.0 670.8h0M684.9 671.2h0M685.3 671.1h0M685.9 671.3h0M685.8 671.4h0M686.1 670.8h0M686.7 670.9h0M686.5 671.4h0M686.7 672.3h0M687.1 671.6h0M687.7 671.1h0M687.6 674.0h0M688.2 671.4h0M688.5 672.7h0M688.7 671.9h0M688.6 671.1h0M688.6 670.7h0M689.0 671.4h0M689.5 671.4h0M689.3 672.2h0M690.0 670.5h0M689.7 670.8h0M690.4 671.0h0M690.3 670.7h0M691.1 670.5h0M690.8 670.7h0M691.6 670.9h0M691.7 671.1h0M691.6 670.7h0M691.7 670.7h0M692.3 670.4h0M692.3 670.8h0M692.5 670.5h0M693.2 670.4h0M692.9 670.3h0M693.7 671.1h0M693.3 671.9h0M694.2 672.3h0M694.3 676.2h0M694.2 671.8h0M694.8 676.0h0M694.9 676.1h0M695.0 671.5h0M695.2 676.4h0M695.2 675.1h0M695.9 671.9h0M695.6 675.0h0M696.0 674.1h0M696.4 674.3h0M696.9 671.7h0M696.9 672.3h0M697.3 673.4h0M697.7 673.3h0M698.0 675.6h0M698.2 672.5h0M698.5 671.6h0M698.5 676.8h0M698.6 675.3h0M698.7 674.5h0M699.0 676.2h0M699.2 673.1h0M699.5 676.0h0M699.6 674.4h0M700.0 674.1h0M700.7 670.8h0M700.8 672.4h0M700.5 675.3h0M701.1 675.6h0M701.3 675.1h0M701.1 675.9h0M701.7 677.3h0M702.2 672.5h0M702.2 671.3h0M702.6 672.7h0M702.8 671.9h0M702.9 671.6h0M703.5 675.8h0M703.4 672.9h0M703.2 675.1h0M704.2 672.1h0M703.8 674.2h0M704.0 674.0h0M704.4 674.6h0M705.1 674.9h0M705.4 672.2h0M705.0 675.0h0M705.6 676.8h0M706.0 676.6h0M705.8 673.3h0M706.6 677.3h0M706.8 672.1h0M707.1 676.8h0M707.2 677.1h0M706.8 673.1h0M707.5 674.7h0M707.8 673.4h0M707.6 672.1h0M708.3 674.8h0M708.2 671.3h0M708.8 671.8h0M708.5 672.3h0M708.8 671.8h0M709.2 671.2h0M709.4 674.1h0M710.1 671.1h0M710.0 671.3h0M710.0 673.7h0M710.9 673.3h0M710.8 671.1h0M710.7 671.4h0M711.3 673.6h0M711.1 673.4h0M711.5 672.6h0M711.7 675.0h0M711.9 676.4h0M712.1 676.7h0M712.5 672.3h0M712.5 676.9h0M713.0 672.9h0M713.5 675.9h0M713.9 676.8h0M713.7 675.7h0M713.8 676.8h0M714.6 676.1h0M714.9 673.3h0M714.5 675.4h0M714.9 676.5h0M715.7 676.3h0M715.4 676.3h0M715.8 676.3h0M715.6 675.7h0M716.3 674.8h0M716.2 675.8h0M716.7 674.3h0M716.7 675.4h0M717.4 675.2h0M717.0 675.2h0M717.6 675.0h0M717.9 672.8h0M718.2 674.6h0M718.3 673.1h0M718.7 674.3h0M719.2 673.2h0M718.8 674.0h0M719.1 673.8h0M719.8 672.9h0M719.9 673.5h0M719.8 672.1h0M720.0 673.0h0M720.8 673.0h0M720.9 672.9h0M720.9 672.5h0M719.7 751.7h0M720.4 752.5h0M720.5 757.4h0M720.7 752.1h0M720.7 758.0h0M721.5 754.0h0M721.3 763.1h0M721.6 763.2h0M721.8 755.9h0M722.4 761.4h0M722.3 759.8h0M722.6 758.1h0M722.8 761.4h0M722.7 758.8h0M723.1 760.8h0M724.0 760.3h0M723.8 761.5h0M724.2 762.1h0M724.0 762.2h0M724.4 763.2h0M724.5 763.9h0M725.3 765.1h0M725.4 766.1h0M725.4 767.7h0M726.1 771.3h0M725.6 771.9h0M726.5 771.5h0M726.5 773.4h0M726.8 779.1h0M726.6 782.0h0M727.1 775.0h0M727.2 780.6h0M727.5 780.9h0M727.7 779.8h0M728.2 785.0h0M728.4 780.9h0M728.3 786.0h0M728.9 781.9h0M728.9 781.5h0M729.2 784.8h0M729.2 786.2h0M729.8 784.6h0M730.3 782.3h0M730.3 782.0h0M730.9 784.2h0M730.9 783.4h0M730.7 784.4h0M731.3 781.1h0M731.3 784.4h0M731.5 781.9h0M732.1 780.8h0M732.5 785.1h0M732.7 785.6h0M733.0 781.0h0M732.6 785.9h0M733.2 785.3h0M733.6 785.1h0M733.7 784.4h0M734.0 781.7h0M734.4 776.8h0M734.3 781.2h0M734.5 782.0h0M734.5 776.5h0M735.2 778.8h0M735.2 778.7h0M735.7 782.8h0M735.6 775.0h0M735.7 776.9h0M736.3 780.3h0M736.2 781.6h0M736.7 774.8h0M736.7 778.7h0M737.2 780.0h0M737.2 774.4h0M738.1 779.2h0M738.2 777.1h0M738.1 772.3h0M738.3 773.3h0M738.8 771.0h0M738.6 775.3h0M739.0 772.6h0M739.4 772.5h0M736.2 756.6h0M735.8 756.0h0M736.1 756.5h0M736.5 754.7h0M737.0 756.7h0M736.9 753.8h0M737.0 755.9h0M737.7 756.2h0M737.8 755.7h0M737.7 756.5h0M738.6 756.7h0M738.8 756.4h0M738.4 755.3h0M739.3 756.5h0M739.1 755.5h0M739.5 755.8h0M739.7 756.0h0M739.6 756.2h0M740.1 755.3h0M740.6 756.4h0M740.4 753.7h0M741.2 748.9h0M741.1 751.8h0M741.0 755.8h0M741.6 755.1h0M742.1 756.8h0M741.7 752.0h0M742.4 750.4h0M742.2 752.3h0M742.5 753.4h0M743.2 756.0h0M742.9 753.3h0M743.5 756.3h0M743.9 755.7h0M744.0 756.3h0M744.1 756.5h0M744.6 756.3h0M744.3 754.2h0M745.1 756.6h0M745.0 756.7h0M745.3 756.6h0M745.8 754.5h0M745.6 756.5h0M746.2 756.6h0M746.1 755.3h0M746.7 751.8h0M747.2 750.7h0M743.1 769.2h0M743.3 770.6h0M743.7 774.9h0M744.1 775.1h0M744.1 778.1h0M744.5 770.4h0M744.7 779.4h0M744.9 776.9h0M745.2 772.7h0M745.5 769.3h0M745.5 778.8h0M745.6 778.0h0M745.8 776.5h0M746.4 770.8h0M746.0 780.0h0M746.4 780.4h0M746.9 780.5h0M747.3 779.2h0M747.5 780.5h0M747.3 773.4h0M748.1 778.1h0M747.9 779.4h0M748.3 779.4h0M748.6 776.9h0M748.7 780.9h0M748.9 781.3h0M749.0 781.2h0M749.1 781.1h0M749.9 781.4h0M749.6 780.6h0M750.5 779.9h0M750.4 781.7h0M750.6 781.8h0M750.9 778.0h0M750.9 780.3h0M751.4 779.7h0M751.9 779.9h0M752.1 781.4h0M751.8 778.2h0M752.4 781.3h0M752.7 781.3h0M753.1 779.0h0M752.8 781.2h0M753.2 780.8h0M753.7 779.3h0M753.7 781.5h0M754.3 779.7h0M754.5 781.4h0M754.4 781.4h0M755.1 781.6h0M754.9 781.7h0M755.3 781.9h0M755.1 781.3h0M755.7 781.4h0M755.9 781.9h0M756.3 781.8h0M756.2 781.8h0M756.5 781.8h0M756.8 781.9h0M756.8 781.9h0M757.0 781.2h0M757.6 781.7h0M757.7 781.5h0M757.9 781.5h0M757.9 781.5h0M758.5 780.4h0M759.1 779.8h0M758.7 779.8h0M759.2 781.3h0M759.3 780.2h0M759.8 781.1h0M759.9 775.4h0M760.4 780.7h0M760.2 780.4h0M760.8 778.7h0M760.9 780.9h0M761.0 780.5h0M761.1 780.4h0M761.3 778.9h0M762.1 780.7h0M761.8 779.5h0M762.6 779.6h0M762.7 780.5h0M763.0 776.3h0M763.3 780.3h0M763.2 779.8h0M763.3 779.0h0M763.4 780.1h0M764.3 778.1h0M764.6 778.2h0M764.3 779.8h0M764.7 768.6h0M764.7 771.2h0M765.0 775.9h0M763.7 733.9h0M763.4 748.5h0M763.9 710.0h0M763.5 717.1h0M764.3 723.6h0M764.0 705.0h0M764.0 732.1h0M764.1 736.9h0M764.8 722.5h0M764.6 716.9h0M765.1 724.3h0M765.0 717.7h0M765.3 730.6h0M765.4 713.4h0M765.5 704.7h0M765.1 727.8h0M765.2 733.4h0M765.6 743.3h0M766.3 728.6h0M765.7 741.3h0M766.2 744.8h0M766.2 741.0h0M766.3 735.3h0M766.6 737.1h0M767.0 740.5h0M767.0 743.0h0M766.7 708.8h0M767.0 713.1h0M767.6 743.1h0M767.3 744.8h0M767.2 732.4h0M767.4 734.2h0M768.0 711.6h0M767.6 737.6h0M768.5 726.8h0M768.2 716.8h0M769.0 706.6h0M768.9 715.1h0M768.8 742.4h0M769.5 734.1h0M769.8 739.4h0M769.8 709.8h0M769.5 710.9h0M770.3 711.3h0M770.1 704.7h0M770.2 708.8h0M771.2 708.4h0M771.2 728.5h0M771.3 716.9h0M771.4 737.9h0M771.3 708.8h0M771.3 711.9h0M771.7 706.4h0M771.4 709.6h0M771.5 723.9h0M771.9 707.2h0M772.0 730.5h0M772.4 716.3h0M772.2 709.3h0M772.3 711.7h0M772.1 736.0h0M773.0 718.9h0M772.4 737.2h0M772.7 712.7h0M773.0 708.5h0M773.7 711.6h0M774.0 721.2h0M773.3 737.2h0M773.6 732.6h0M773.8 737.9h0M774.4 723.9h0M774.6 723.7h0M774.6 741.3h0M774.6 712.6h0M775.2 713.0h0M775.2 744.9h0M775.4 723.4h0M774.8 723.9h0M775.3 714.4h0M775.9 718.4h0M775.2 724.4h0M775.8 706.0h0M776.4 724.1h0M775.8 712.1h0M776.4 726.5h0M776.2 744.3h0M776.4 710.7h0M776.7 743.4h0M776.8 705.2h0M776.8 708.9h0M776.7 714.9h0M777.1 744.8h0M777.6 731.8h0M777.5 705.9h0M777.4 725.2h0M777.5 719.1h0M778.0 707.6h0M777.4 744.8h0M778.3 712.6h0M778.5 707.1h0M777.8 707.4h0M778.3 707.1h0M778.5 745.1h0M778.5 723.6h0M778.7 707.6h0M778.7 708.9h0M779.2 734.0h0M779.2 711.4h0M779.3 710.0h0M779.6 710.2h0M780.3 723.8h0M779.8 716.4h0M780.1 738.6h0M780.1 710.9h0M780.8 714.1h0M780.6 731.5h0M780.8 711.7h0M781.2 715.2h0M780.9 714.6h0M780.9 746.6h0M781.5 712.6h0M781.3 735.2h0M782.0 716.3h0M778.3 760.2h0M778.6 751.2h0M778.1 760.6h0M778.7 751.0h0M778.8 755.4h0M779.1 757.6h0M779.1 761.8h0M779.1 762.9h0M779.1 749.4h0M779.4 741.4h0M780.0 761.2h0M780.1 763.4h0M779.6 755.8h0M779.9 762.9h0M780.3 761.8h0M780.4 764.1h0M780.9 765.1h0M780.8 763.3h0M781.5 739.1h0M781.3 764.9h0M781.8 765.4h0M782.0 765.0h0M781.8 765.3h0M782.7 764.8h0M782.1 765.2h0M782.5 765.1h0M783.3 764.9h0M783.0 765.0h0M783.6 764.5h0M783.2 759.9h0M783.7 764.8h0M783.8 764.2h0M784.0 764.8h0M784.7 764.0h0M784.7 762.9h0M785.1 754.9h0M785.1 749.5h0M785.6 756.2h0M785.3 762.7h0M786.0 763.3h0M786.4 763.5h0M786.4 746.8h0M786.2 763.4h0M786.6 762.6h0M786.9 761.6h0M787.5 755.1h0M787.5 758.8h0M787.5 757.3h0M787.5 760.7h0M787.9 751.7h0M788.1 749.2h0M788.3 760.1h0M787.9 755.1h0M788.3 761.2h0M789.0 760.0h0M788.8 759.8h0M789.3 759.8h0M789.5 759.2h0M789.7 759.5h0M790.3 735.2h0M790.4 737.9h0M790.1 751.9h0M791.0 758.7h0M790.9 756.1h0M791.1 752.8h0M791.1 743.2h0M791.5 752.7h0M791.9 749.8h0M791.4 734.0h0M792.0 737.7h0M791.7 749.1h0M791.7 730.6h0M792.0 735.7h0M792.7 728.9h0M792.7 733.1h0M791.0 740.4h0M791.0 723.0h0M791.3 740.9h0M792.0 718.7h0M792.3 737.2h0M792.0 735.2h0M792.7 728.9h0M792.9 717.1h0M793.1 730.1h0M793.2 741.7h0M792.8 737.6h0M793.3 742.2h0M793.4 732.6h0M793.7 742.7h0M793.6 732.8h0M794.2 737.1h0M794.3 742.7h0M794.3 711.3h0M794.3 733.8h0M794.3 723.8h0M794.6 716.5h0M795.4 738.3h0M795.0 717.3h0M795.0 714.7h0M795.4 728.0h0M795.6 723.4h0M795.7 709.8h0M796.0 730.3h0M796.8 725.0h0M796.4 736.9h0M797.1 725.0h0M797.3 738.1h0M796.9 719.0h0M797.7 728.0h0M797.6 726.1h0M797.5 738.8h0M797.7 730.8h0M798.5 732.7h0M798.7 716.7h0M798.5 735.8h0M798.8 734.5h0M798.8 725.3h0M799.0 737.0h0M799.2 738.8h0M799.7 739.1h0M799.7 716.9h0M800.2 724.1h0M800.0 733.8h0M799.9 719.3h0M799.8 732.5h0M800.6 729.5h0M800.2 708.5h0M800.7 711.9h0M800.8 730.9h0M801.0 720.2h0M801.4 721.4h0M801.4 728.4h0M801.5 712.6h0M801.9 729.9h0M802.2 737.1h0M802.6 734.7h0M802.3 725.4h0M802.5 713.8h0M802.9 704.1h0M802.9 736.3h0M803.2 713.7h0M803.1 737.2h0M803.5 736.3h0M803.8 720.8h0M803.6 735.4h0M803.7 735.5h0M803.9 729.6h0M804.2 731.2h0M804.5 721.2h0M804.8 733.4h0M804.0 708.8h0M804.3 738.2h0M805.0 723.2h0M804.7 736.8h0M805.0 714.1h0M805.4 731.6h0M805.6 739.6h0M805.8 740.2h0M805.4 711.3h0M805.9 731.3h0M805.9 730.1h0M806.3 740.7h0M806.6 741.3h0M806.6 739.3h0M807.1 739.7h0M806.7 734.2h0M806.9 736.0h0M807.4 740.3h0M807.3 735.6h0M807.8 709.1h0M807.4 734.4h0M807.6 741.8h0M808.0 738.8h0M808.4 742.8h0M808.6 708.8h0M808.4 741.2h0M809.2 743.0h0M808.9 742.9h0M809.3 744.0h0M809.3 708.6h0M809.3 742.6h0M809.8 741.5h0M809.6 728.8h0M809.9 727.6h0M809.8 728.1h0M810.3 716.4h0M810.5 753.3h0M810.6 719.0h0M810.9 712.9h0M811.1 715.6h0M810.9 713.6h0M810.9 714.7h0M811.4 710.2h0M811.3 712.6h0M811.0 750.6h0M811.2 727.3h0M811.5 719.5h0M811.5 714.9h0M812.0 722.9h0M812.4 746.7h0M812.7 752.0h0M812.9 742.0h0M812.5 748.8h0M813.1 729.3h0M813.5 712.4h0M813.1 745.6h0M813.1 718.4h0M813.7 728.7h0M813.8 722.1h0M813.7 751.9h0M813.8 719.9h0M814.7 731.2h0M814.3 713.5h0M815.3 728.7h0M815.2 735.0h0M815.5 730.8h0M814.8 747.5h0M815.1 711.9h0M815.5 733.0h0M815.4 748.6h0M815.9 737.1h0M816.4 713.7h0M816.1 709.3h0M816.1 734.1h0M816.7 720.4h0M816.6 752.2h0M816.9 711.0h0M817.0 745.1h0M817.3 713.1h0M817.5 707.4h0M817.2 725.8h0M817.7 726.7h0M817.9 706.4h0M818.0 718.6h0M817.9 748.2h0M818.2 732.9h0M818.1 727.7h0M818.6 724.3h0M818.3 719.4h0M818.5 714.2h0M818.6 724.8h0M819.0 712.5h0M818.6 720.6h0M819.5 735.3h0M819.8 738.5h0M819.1 729.6h0M819.3 710.1h0M820.0 704.7h0M820.1 729.2h0M819.9 704.6h0M820.4 704.6h0M820.5 738.9h0M820.1 704.5h0M820.1 720.1h0M820.3 713.5h0M821.0 751.4h0M820.6 710.0h0M821.0 747.8h0M820.9 718.1h0M821.4 730.5h0M821.5 743.2h0M821.3 736.2h0M821.8 734.8h0M821.2 738.2h0M822.2 734.8h0M821.8 740.0h0M822.0 721.3h0M822.0 732.3h0M822.7 748.6h0M822.8 733.4h0M822.7 712.1h0M822.5 754.0h0M823.1 734.8h0M823.1 755.8h0M823.2 742.6h0M823.6 755.2h0M824.2 739.5h0M824.1 715.8h0M824.1 733.4h0M820.5 775.8h0M820.3 769.0h0M820.7 736.6h0M820.5 776.6h0M820.9 770.9h0M821.4 772.4h0M821.0 772.3h0M821.6 743.4h0M821.0 769.2h0M821.9 775.5h0M822.0 763.4h0M821.6 774.9h0M821.8 741.4h0M821.7 765.0h0M821.9 742.9h0M822.1 776.7h0M822.6 774.3h0M822.9 735.0h0M822.6 777.4h0M823.0 771.5h0M823.3 741.4h0M823.3 762.5h0M823.4 765.2h0M823.3 776.0h0M824.1 765.5h0M824.2 769.9h0M824.7 769.0h0M824.6 753.2h0M824.3 774.5h0M824.6 758.8h0M825.0 767.7h0M824.7 768.2h0M825.2 774.5h0M825.3 768.9h0M825.8 773.8h0M825.3 749.4h0M825.8 772.8h0M826.1 757.6h0M826.3 749.7h0M825.6 739.8h0M826.3 756.3h0M826.3 769.9h0M826.6 737.8h0M826.7 759.6h0M827.3 769.8h0M827.3 749.5h0M827.5 748.8h0M827.8 756.8h0M827.5 757.1h0M828.0 770.9h0M828.0 737.1h0M828.4 748.5h0M827.8 763.7h0M828.7 737.6h0M828.5 735.0h0M828.4 762.4h0M828.9 768.7h0M829.1 751.7h0M828.5 740.2h0M829.3 755.1h0M829.2 748.9h0M829.7 733.3h0M829.6 731.0h0M829.8 766.8h0M829.6 757.5h0M829.6 748.6h0M830.3 729.1h0M830.3 734.9h0M830.1 731.1h0M830.4 736.3h0M830.4 740.1h0M830.7 731.9h0M831.4 731.5h0M831.7 729.7h0M830.9 754.5h0M831.4 726.0h0M831.6 726.9h0M831.5 732.0h0M832.2 732.7h0M831.9 735.5h0M832.4 728.8h0M833.0 732.8h0M832.8 763.9h0M833.0 739.1h0M829.3 723.4h0M829.9 758.8h0M830.1 729.7h0M829.9 729.4h0M830.5 757.6h0M830.2 720.5h0M830.5 754.7h0M830.7 728.0h0M831.2 756.3h0M831.0 738.5h0M831.5 728.0h0M831.5 738.1h0M831.5 719.1h0M831.7 753.4h0M832.1 729.0h0M832.3 718.7h0M832.4 729.1h0M831.9 721.3h0M832.2 725.1h0M832.7 717.7h0M833.0 754.7h0M833.0 720.7h0M833.0 716.2h0M833.6 716.8h0M833.4 757.2h0M833.1 716.4h0M833.2 734.6h0M833.3 716.5h0M834.2 715.8h0M834.2 715.2h0M834.7 721.8h0M834.1 721.0h0M834.4 714.1h0M834.8 719.2h0M835.0 716.3h0M835.1 717.9h0M835.3 729.0h0M835.3 718.8h0M835.4 725.6h0M835.8 756.8h0M835.7 714.0h0M836.1 738.6h0M835.7 718.8h0M836.1 724.3h0M836.8 717.6h0M836.4 736.1h0M836.7 727.3h0M837.0 721.0h0M836.8 716.1h0M837.0 713.2h0M837.5 717.4h0M837.1 746.1h0M838.1 712.0h0M838.1 714.1h0M837.8 722.8h0M838.5 711.4h0M838.5 731.9h0M838.7 732.6h0M838.4 741.2h0M839.1 714.1h0M838.6 756.3h0M839.1 719.5h0M839.3 750.3h0M838.9 715.6h0M839.5 739.5h0M839.4 730.4h0M839.6 737.0h0M839.4 737.9h0M840.1 753.4h0M840.4 744.6h0M840.1 732.1h0M840.3 716.3h0M840.0 727.5h0M840.4 721.0h0M840.3 750.4h0M841.1 716.6h0M841.1 731.7h0M841.4 723.5h0M841.2 719.2h0M841.4 724.2h0M841.0 751.3h0M841.3 728.6h0M841.9 733.6h0M842.1 735.6h0M842.0 748.4h0M842.0 735.2h0M842.0 747.4h0M841.9 734.6h0M842.5 729.8h0M842.6 745.0h0M838.5 765.3h0M839.0 753.6h0M838.8 746.3h0M838.9 771.3h0M839.3 766.5h0M839.4 756.6h0M839.9 769.1h0M839.8 759.2h0M840.3 755.1h0M839.6 757.9h0M840.4 770.8h0M840.3 770.1h0M840.6 771.9h0M840.4 756.1h0M841.3 748.7h0M841.3 773.2h0M841.3 769.6h0M841.5 768.2h0M841.6 768.4h0M842.1 771.4h0M841.8 759.0h0M842.3 774.9h0M842.5 745.4h0M842.1 771.9h0M842.1 762.5h0M842.8 775.0h0M842.4 742.8h0M843.0 771.9h0M842.9 761.1h0M843.1 770.2h0M843.4 770.9h0M843.7 754.8h0M843.9 754.1h0M844.3 765.8h0M843.9 733.8h0M844.3 739.8h0M844.5 774.3h0M844.7 757.8h0M844.9 742.0h0M844.9 774.1h0M845.3 748.9h0M845.0 743.1h0M845.2 751.0h0M845.7 773.9h0M845.4 757.0h0M845.5 760.7h0M845.4 777.0h0M845.8 773.1h0M846.2 751.6h0M846.1 770.4h0M846.7 773.4h0M847.1 776.8h0M847.0 777.4h0M847.0 776.9h0M846.9 765.0h0M847.2 776.0h0M847.8 768.1h0M847.4 754.5h0M847.5 777.5h0M847.6 775.3h0M848.4 767.6h0M848.2 772.6h0M848.5 768.0h0M848.3 740.1h0M848.6 750.2h0M849.0 742.1h0M849.5 741.4h0M849.2 738.5h0M849.6 765.8h0M849.9 737.1h0M849.8 772.0h0M849.5 737.1h0M850.3 766.2h0M850.0 755.9h0M850.0 741.8h0M850.5 747.8h0M850.2 747.0h0M850.4 741.6h0M851.1 738.1h0M850.9 735.9h0M851.4 775.3h0M851.7 751.6h0M851.7 746.4h0M851.2 757.5h0M852.2 752.3h0M852.3 754.8h0M851.9 738.7h0M852.0 740.3h0M852.4 740.1h0M852.9 769.5h0M852.9 748.0h0M852.8 772.3h0M853.2 735.4h0M853.0 740.0h0M852.9 733.8h0M853.3 740.9h0M853.9 764.8h0M855.1 701.2h0M855.8 701.8h0M856.1 701.4h0M856.4 700.5h0M856.7 698.7h0M856.9 697.9h0M856.6 697.8h0M856.9 697.5h0M857.4 697.6h0M857.7 695.1h0M857.7 695.5h0M858.3 695.2h0M858.1 695.1h0M858.2 690.6h0M858.8 693.9h0M858.9 693.5h0M859.3 688.8h0M859.3 689.1h0M860.0 691.4h0M859.9 692.8h0M860.3 687.4h0M860.6 690.7h0M860.9 685.1h0M860.6 685.8h0M861.6 681.2h0M861.2 684.8h0M861.8 687.3h0M862.0 687.9h0M862.4 683.9h0M862.3 680.0h0M863.0 685.0h0M863.1 681.6h0M863.5 683.6h0M863.6 681.5h0M864.0 683.3h0M864.2 682.5h0M863.9 683.5h0M864.6 677.5h0M864.7 683.9h0M864.6 683.4h0M864.5 683.1h0M864.9 682.7h0M865.2 675.1h0M865.6 674.5h0M866.1 674.5h0M866.4 679.9h0M866.5 678.8h0M866.6 680.8h0M867.1 680.4h0M866.7 679.9h0M867.4 680.1h0M867.3 677.0h0M868.1 674.2h0M867.6 677.7h0M868.5 679.8h0M868.7 680.3h0M868.6 679.4h0M868.6 679.6h0M869.3 676.8h0M869.1 675.7h0M869.3 680.5h0M870.0 676.5h0M870.1 677.7h0M870.0 679.8h0M870.6 674.8h0M870.8 676.7h0M871.4 675.9h0M871.6 674.6h0M871.3 675.6h0M871.4 677.3h0M872.3 676.1h0M871.9 673.8h0M872.4 675.7h0M872.7 673.3h0M873.1 678.4h0M873.5 674.2h0M873.2 676.1h0M873.9 674.0h0M874.1 676.9h0M873.8 673.7h0M874.2 675.3h0M874.8 674.9h0M874.5 677.4h0M874.8 675.3h0M875.7 680.8h0M875.3 678.2h0M875.6 682.9h0M875.9 675.7h0M876.3 682.4h0M876.6 683.6h0M876.4 679.2h0M877.0 679.3h0M877.6 680.0h0M877.5 679.1h0M877.4 676.3h0M877.7 678.5h0M878.0 678.9h0M878.2 679.5h0M879.0 681.4h0M879.1 685.0h0M879.5 678.2h0M879.1 678.3h0M879.3 679.0h0M880.1 680.8h0M880.4 684.9h0M880.0 679.7h0M880.6 684.6h0M880.6 678.5h0M880.9 680.7h0M881.0 679.3h0M881.8 681.7h0M882.1 684.2h0M882.0 682.7h0M882.3 683.5h0M882.7 685.3h0M882.7 681.4h0M882.6 680.3h0M883.5 682.2h0M883.6 680.8h0M883.7 680.9h0M884.3 681.9h0M882.6 664.5h0M883.5 665.4h0M883.7 665.6h0M883.4 667.9h0M883.8 664.1h0M884.3 661.2h0M884.6 662.7h0M885.0 666.0h0M884.9 671.4h0M885.0 663.8h0M885.2 669.0h0M886.0 661.0h0M885.8 662.3h0M886.1 670.5h0M886.4 670.4h0M886.9 667.1h0M887.2 672.2h0M887.2 670.5h0M887.1 669.4h0M887.3 669.5h0M887.7 666.7h0M887.7 661.8h0M888.1 671.0h0M888.4 662.8h0M888.4 663.4h0M889.3 663.6h0M889.0 660.8h0M889.4 666.1h0M889.4 665.2h0M890.3 662.2h0M890.4 670.4h0M890.6 667.2h0M890.9 663.7h0M890.7 661.2h0M891.5 662.0h0M891.3 661.3h0M891.7 673.7h0M891.9 663.2h0M892.2 672.7h0M892.7 672.2h0M892.7 668.9h0M892.7 674.0h0M893.3 664.6h0M893.5 664.3h0M893.5 671.7h0M893.9 666.4h0M894.5 665.8h0M894.2 663.9h0M894.8 664.4h0M894.9 666.3h0M894.7 666.3h0M894.9 665.1h0M895.4 678.9h0M896.1 671.8h0M895.8 676.8h0M896.0 678.2h0M896.2 679.3h0M896.9 675.6h0M897.1 680.1h0M896.8 668.8h0M897.2 679.0h0M897.7 680.2h0M895.7 688.0h0M895.9 681.1h0M895.9 682.9h0M896.6 683.4h0M897.0 683.7h0M897.0 684.4h0M897.0 681.5h0M897.2 684.3h0M897.9 681.5h0M898.0 687.1h0M898.1 688.4h0M898.5 683.3h0M898.9 681.4h0M899.1 682.7h0M898.9 687.0h0M899.1 681.0h0M900.0 683.2h0M899.9 681.5h0M900.1 681.5h0M900.4 680.9h0M900.7 680.9h0M901.2 680.6h0M901.3 681.0h0M901.2 680.9h0M901.4 680.5h0M901.9 682.9h0M901.8 681.3h0M902.6 680.2h0M902.3 680.0h0M903.1 685.4h0M902.9 682.7h0M903.4 683.2h0M903.9 684.1h0M903.8 680.2h0M903.7 679.9h0M904.1 680.5h0M904.5 680.4h0M904.8 682.7h0M904.9 678.5h0M583.5 773.0h0M583.5 765.4h0M584.0 753.0h0M584.4 740.4h0M585.0 728.0h0M586.0 720.0h0M587.2 713.8h0M588.2 704.5h0M588.8 695.0h0M589.7 681.0h0M719.2 695.4h0M719.5 713.8h0M719.8 728.2h0M720.0 740.5h0M743.0 724.9h0M743.0 730.4h0M743.0 739.6h0M763.0 734.0h0M763.5 740.0h0M764.0 746.0h0M764.5 752.0h0M765.0 758.0h0M851.0 776.0h0M852.0 761.7h0M853.0 751.6h0M854.0 740.5h0M855.0 730.4h0M856.0 720.3h0M856.6 712.0h0M857.2 701.0h0" stroke="#f8a888" stroke-width="6.2" stroke-linecap="round" fill="none"/>
<line x1="560.45" y1="779.80" x2="920.70" y2="779.80" stroke="#0b1a8f" stroke-width="3.5" stroke-dasharray="2.8 3.14" stroke-dashoffset="0.78"/>
<line x1="588.03" y1="591.80" x2="588.03" y2="975.00" stroke="#8f1a1f" stroke-width="2.5" stroke-dasharray="14.5 9.25" stroke-dashoffset="10.45"/>
</g>
<rect x="560.45" y="591.80" width="360.25" height="383.20" fill="none" stroke="#000" stroke-width="2.0"/>
<path d="M560.45 943.07h4.5M920.70 943.07h-4.5M560.45 889.84h4.5M920.70 889.84h-4.5M560.45 836.62h4.5M920.70 836.62h-4.5M560.45 783.40h4.5M920.70 783.40h-4.5M560.45 730.18h4.5M920.70 730.18h-4.5M560.45 676.96h4.5M920.70 676.96h-4.5M560.45 623.73h4.5M920.70 623.73h-4.5M576.63 975.00v-4.5M576.63 591.80v4.5M583.35 975.00v-4.5M583.35 591.80v4.5M632.14 975.00v-4.5M632.14 591.80v4.5M719.57 975.00v-4.5M719.57 591.80v4.5M806.59 975.00v-4.5M806.59 591.80v4.5M860.16 975.00v-4.5M860.16 591.80v4.5" stroke="#000" stroke-width="2" fill="none"/>
<text x="557.15" y="950.37" text-anchor="end" font-size="20.5">0.5</text>
<text x="557.15" y="897.14" text-anchor="end" font-size="20.5">0.6</text>
<text x="557.15" y="843.92" text-anchor="end" font-size="20.5">0.7</text>
<text x="557.15" y="790.70" text-anchor="end" font-size="20.5">0.8</text>
<text x="557.15" y="737.48" text-anchor="end" font-size="20.5">0.9</text>
<text x="557.15" y="684.26" text-anchor="end" font-size="20.5">1</text>
<text x="557.15" y="631.03" text-anchor="end" font-size="20.5">1.1</text>
<text transform="translate(518.70,1046.80) rotate(-45)" font-size="17" textLength="84.6" lengthAdjust="spacingAndGlyphs">2022-09-03</text>
<text transform="translate(537.10,1046.80) rotate(-45)" font-size="17" textLength="85.0" lengthAdjust="spacingAndGlyphs">2022-11-04</text>
<text transform="translate(581.20,1046.80) rotate(-45)" font-size="17" textLength="79.0" lengthAdjust="spacingAndGlyphs">2022-12-11</text>
<text transform="translate(667.70,1046.80) rotate(-45)" font-size="17" textLength="83.6" lengthAdjust="spacingAndGlyphs">2022-12-23</text>
<text transform="translate(754.60,1046.80) rotate(-45)" font-size="17" textLength="84.6" lengthAdjust="spacingAndGlyphs">2023-01-04</text>
<text transform="translate(808.00,1046.80) rotate(-45)" font-size="17" textLength="79.3" lengthAdjust="spacingAndGlyphs">2023-01-21</text>
<text x="742.45" y="1068.20" font-size="21" textLength="39.6" lengthAdjust="spacingAndGlyphs">Date</text>
<text transform="translate(518.45,783.40) rotate(-90)" text-anchor="middle" font-size="17.5" textLength="81" lengthAdjust="spacingAndGlyphs">Health Index</text>
<text x="725.20" y="582.30" font-size="20.6" textLength="59.70" lengthAdjust="spacingAndGlyphs">(f) DAE</text>
<text x="784.70" y="589.40" font-size="12" textLength="6.80" lengthAdjust="spacingAndGlyphs">R</text>
<rect x="763.40" y="866.90" width="134.30" height="88.30" fill="#fff" stroke="#000" stroke-width="2"/>
<circle cx="797.90" cy="878.00" r="5.7" fill="#3bc3c8"/>
<text x="831.00" y="883.20" font-size="14" textLength="28.60" lengthAdjust="spacingAndGlyphs">Train</text>
<circle cx="797.90" cy="894.50" r="5.7" fill="#80b3de"/>
<text x="831.00" y="899.70" font-size="14" textLength="58.00" lengthAdjust="spacingAndGlyphs">Validation</text>
<circle cx="797.90" cy="911.00" r="5.7" fill="#f8a888"/>
<text x="831.00" y="916.20" font-size="14" textLength="21.70" lengthAdjust="spacingAndGlyphs">Test</text>
<line x1="769.00" y1="927.50" x2="825.60" y2="927.50" stroke="#0b1a8f" stroke-width="3.5" stroke-dasharray="2.8 3.14"/>
<text x="831.00" y="932.70" font-size="14" textLength="54.30" lengthAdjust="spacingAndGlyphs">Threshold</text>
<line x1="768.90" y1="944.00" x2="826.90" y2="944.00" stroke="#8f1a1f" stroke-width="2" stroke-dasharray="14.7 9.2"/>
<text x="831.00" y="949.20" font-size="14" textLength="57.60" lengthAdjust="spacingAndGlyphs">Fault Time</text>
<clipPath id="cpg"><rect x="1036.00" y="591.80" width="360.40" height="383.20"/></clipPath>
<g clip-path="url(#cpg)">
<path d="M1051.0 800.5h0M1052.0 807.0h0M1052.6 813.6h0M1053.2 818.6h0M1053.2 836.8h0M1053.5 851.7h0M1054.2 860.0h0M1054.2 868.3h0M1054.2 878.0h0M1054.9 884.9h0M1055.2 894.8h0M1055.9 901.4h0M1056.5 908.0h0M1057.5 913.0h0" stroke="#3bc3c8" stroke-width="6.2" stroke-linecap="round" fill="none"/>
<path d="M1057.5 875.0h0M1057.5 881.5h0M1058.5 884.9h0M1057.5 906.0h0" stroke="#80b3de" stroke-width="6.2" stroke-linecap="round" fill="none"/>
<path d="M1058.3 846.1h0M1058.7 841.8h0M1059.2 843.5h0M1059.6 847.8h0M1059.4 857.7h0M1060.0 841.7h0M1060.2 849.9h0M1060.1 858.3h0M1060.2 851.5h0M1060.1 864.0h0M1060.4 866.2h0M1061.0 860.0h0M1060.9 859.6h0M1061.3 854.6h0M1061.4 863.3h0M1061.9 863.6h0M1061.9 851.6h0M1061.8 858.9h0M1062.2 861.0h0M1062.1 842.9h0M1062.4 838.1h0M1062.6 856.4h0M1062.7 836.9h0M1063.5 836.4h0M1063.3 834.8h0M1063.5 842.0h0M1063.5 843.1h0M1064.0 838.1h0M1066.2 668.3h0M1066.4 688.1h0M1066.1 673.9h0M1066.7 685.9h0M1066.6 668.9h0M1067.3 658.7h0M1066.9 664.5h0M1067.4 680.0h0M1067.7 663.1h0M1067.4 659.7h0M1067.9 680.1h0M1067.6 678.1h0M1068.2 656.8h0M1068.4 668.5h0M1068.5 656.9h0M1068.8 658.0h0M1068.5 680.4h0M1069.0 674.2h0M1069.6 662.6h0M1069.4 656.7h0M1069.8 682.6h0M1069.6 646.9h0M1070.2 684.5h0M1070.2 666.8h0M1070.3 657.1h0M1070.3 685.1h0M1070.3 651.6h0M1070.4 647.5h0M1071.1 658.5h0M1071.1 654.8h0M1071.9 647.6h0M1071.9 675.5h0M1071.8 647.4h0M1071.7 670.3h0M1072.3 642.6h0M1071.9 651.3h0M1072.3 676.2h0M1072.2 656.0h0M1072.1 641.3h0M1072.9 643.0h0M1072.4 656.9h0M1072.7 643.2h0M1072.7 683.9h0M1073.4 661.9h0M1073.7 651.2h0M1073.7 650.6h0M1073.4 672.0h0M1074.1 650.6h0M1074.2 680.2h0M1074.1 640.3h0M1074.4 645.3h0M1074.6 675.1h0M1075.2 659.4h0M1074.7 645.3h0M1074.7 663.4h0M1075.2 645.5h0M1075.7 641.3h0M1076.0 672.8h0M1075.9 656.7h0M1076.1 678.5h0M1076.4 669.1h0M1076.1 651.9h0M1076.4 675.5h0M1076.3 647.7h0M1076.5 651.2h0M1077.1 644.5h0M1076.5 646.5h0M1077.0 649.6h0M1077.3 660.9h0M1077.4 647.6h0M1077.2 661.8h0M1077.6 637.9h0M1077.5 665.6h0M1077.5 645.4h0M1078.1 652.9h0M1077.9 640.8h0M1077.9 655.1h0M1078.7 657.5h0M1078.6 652.5h0M1079.0 670.7h0M1079.3 652.6h0M1079.4 659.7h0M1079.6 640.4h0M1079.6 648.3h0M1079.7 672.6h0M1080.1 643.7h0M1080.5 671.7h0M1080.5 646.9h0M1080.1 651.1h0M1080.6 640.9h0M1080.5 640.5h0M1080.9 654.8h0M1081.1 667.1h0M1080.8 646.7h0M1081.3 667.2h0M1081.0 651.0h0M1081.8 653.1h0M1081.3 670.8h0M1082.0 639.1h0M1082.0 639.3h0M1081.7 639.7h0M1082.0 669.7h0M1082.6 643.9h0M1082.6 641.0h0M1082.1 638.1h0M1082.5 656.9h0M1082.8 637.5h0M1083.1 637.0h0M1083.5 638.6h0M1083.2 638.7h0M1083.4 636.5h0M1083.7 665.3h0M1083.5 639.3h0M1083.7 650.6h0M1083.9 645.8h0M1084.6 638.4h0M1084.4 639.4h0M1084.4 653.4h0M1084.8 634.9h0M1084.9 666.3h0M1084.9 637.0h0M1085.4 637.3h0M1085.4 636.7h0M1085.8 635.2h0M1086.4 634.3h0M1086.2 634.5h0M1086.0 640.5h0M1086.3 636.7h0M1086.7 639.3h0M1087.3 634.1h0M1087.3 649.0h0M1087.9 644.6h0M1087.8 634.4h0M1088.4 634.4h0M1088.0 645.0h0M1088.6 639.4h0M1088.4 638.1h0M1089.2 633.6h0M1089.0 667.0h0M1089.0 652.1h0M1089.0 638.7h0M1089.2 639.8h0M1089.5 661.5h0M1089.7 657.6h0M1089.7 642.6h0M1089.9 650.8h0M1090.0 668.7h0M1090.3 658.4h0M1090.9 652.3h0M1090.4 664.0h0M1090.5 635.1h0M1090.5 659.0h0M1091.4 661.6h0M1090.9 650.8h0M1091.4 670.6h0M1091.5 671.1h0M1091.9 650.3h0M1092.0 672.5h0M1091.9 646.6h0M1091.9 656.8h0M1092.2 671.5h0M1091.9 647.9h0M1092.1 638.7h0M1092.9 662.2h0M1092.7 654.7h0M1092.6 633.8h0M1092.5 668.2h0M1092.6 649.4h0M1093.1 640.9h0M1092.9 638.2h0M1093.3 652.4h0M1093.8 648.9h0M1093.2 673.8h0M1093.6 653.0h0M1094.1 648.6h0M1094.1 654.8h0M1094.1 644.0h0M1094.7 659.3h0M1094.4 653.7h0M1094.5 662.2h0M1094.8 678.5h0M1094.7 653.0h0M1095.1 655.4h0M1094.8 642.4h0M1095.6 639.4h0M1095.5 658.2h0M1095.4 661.9h0M1095.6 680.8h0M1095.9 645.7h0M1096.1 679.7h0M1096.3 671.0h0M1096.4 653.8h0M1096.5 653.9h0M1097.1 640.1h0M1096.8 655.7h0M1096.6 684.9h0M1097.7 672.2h0M1097.5 684.4h0M1097.5 669.6h0M1097.8 652.8h0M1097.5 684.6h0M1098.1 679.9h0M1097.9 677.5h0M1098.1 688.7h0M1097.9 675.8h0M1098.0 665.4h0M1098.4 652.8h0M1098.3 680.0h0M1098.6 656.0h0M1099.0 651.9h0M1099.0 653.2h0M1099.4 653.8h0M1099.5 663.0h0M1099.1 680.2h0M1099.8 682.5h0M1099.6 650.3h0M1099.6 692.8h0M1099.9 689.8h0M1100.2 689.9h0M1100.0 659.1h0M1100.0 655.0h0M1100.4 664.5h0M1100.4 663.1h0M1100.4 678.7h0M1100.8 666.5h0M1100.7 668.4h0M1100.8 659.2h0M1101.6 664.1h0M1101.5 698.6h0M1101.4 667.9h0M1101.8 687.0h0M1101.9 662.9h0M1101.9 680.8h0M1101.8 684.6h0M1102.2 695.3h0M1102.1 686.8h0M1102.2 707.7h0M1102.9 709.4h0M1103.0 698.6h0M1102.8 681.9h0M1102.9 691.6h0M1103.4 702.4h0M1103.3 700.3h0M1103.3 697.3h0M1103.5 699.2h0M1103.9 701.7h0M1104.1 680.0h0M1103.6 717.9h0M1104.2 688.1h0M1104.0 680.6h0M1104.1 688.3h0M1105.0 683.7h0M1104.8 678.7h0M1105.1 689.4h0M1105.0 683.7h0M1105.4 702.2h0M1105.2 701.8h0M1105.1 716.0h0M1105.8 718.2h0M1106.2 713.9h0M1106.4 714.2h0M1106.4 695.5h0M1106.0 701.7h0M1106.5 714.3h0M1106.4 711.9h0M1106.7 719.6h0M1106.6 706.8h0M1107.1 715.7h0M1107.5 716.3h0M1107.6 719.0h0M1107.5 720.0h0M1108.1 688.6h0M1108.4 697.8h0M1108.0 710.6h0M1107.9 709.2h0M1108.4 682.4h0M1108.6 714.1h0M1108.4 685.6h0M1108.7 702.7h0M1108.6 710.2h0M1109.2 719.5h0M1109.5 688.4h0M1109.7 715.3h0M1109.9 706.5h0M1110.2 708.3h0M1110.5 701.8h0M1110.3 717.3h0M1110.3 691.9h0M1110.6 709.3h0M1110.7 709.6h0M1110.8 716.0h0M1111.1 695.4h0M1111.2 678.9h0M1111.1 713.2h0M1111.0 705.5h0M1111.6 712.1h0M1111.6 712.9h0M1111.7 697.9h0M1112.3 716.9h0M1111.9 686.5h0M1112.9 716.5h0M1112.4 719.3h0M1112.8 701.7h0M1113.4 720.5h0M1113.2 697.1h0M1113.8 718.7h0M1113.8 689.2h0M1113.7 719.2h0M1113.9 721.9h0M1114.2 718.2h0M1114.0 711.5h0M1114.2 719.6h0M1114.1 716.0h0M1114.3 707.0h0M1115.3 686.9h0M1115.1 685.7h0M1115.1 703.3h0M1115.4 693.9h0M1115.9 675.1h0M1116.0 678.7h0M1115.6 687.4h0M1116.2 713.2h0M1115.9 710.6h0M1116.4 688.9h0M1116.6 712.9h0M1116.8 695.8h0M1117.0 681.5h0M1116.7 684.5h0M1117.3 707.9h0M1117.1 704.7h0M1117.0 685.4h0M1117.8 688.3h0M1117.7 703.6h0M1117.6 699.6h0M1117.8 693.0h0M1117.6 675.1h0M1118.6 706.2h0M1118.2 709.9h0M1118.7 702.5h0M1118.8 684.4h0M1119.0 682.8h0M1119.2 709.3h0M1119.6 668.3h0M1119.3 692.6h0M1119.7 672.3h0M1119.5 680.9h0M1120.0 681.0h0M1120.4 670.7h0M1120.7 692.1h0M1120.9 687.8h0M1121.0 661.2h0M1121.2 660.4h0M1121.0 698.6h0M1120.9 669.3h0M1120.8 680.9h0M1121.5 657.2h0M1121.6 686.7h0M1121.6 657.6h0M1121.8 666.7h0M1122.1 654.2h0M1122.2 653.0h0M1122.5 652.8h0M1122.2 657.4h0M1122.4 652.8h0M1122.3 691.4h0M1122.9 653.0h0M1122.8 654.5h0M1122.9 652.6h0M1122.8 663.8h0M1123.3 653.0h0M1123.1 674.4h0M1123.3 652.1h0M1123.7 651.1h0M1123.8 650.9h0M1124.3 650.7h0M1124.1 654.0h0M1124.6 674.9h0M1124.4 650.5h0M1125.0 653.9h0M1125.2 650.1h0M1125.0 649.4h0M1125.7 650.3h0M1125.5 649.4h0M1125.3 678.3h0M1125.8 649.8h0M1126.2 652.5h0M1125.9 660.1h0M1126.4 652.7h0M1126.5 650.7h0M1127.1 651.1h0M1126.8 651.3h0M1127.1 679.0h0M1127.4 652.2h0M1127.1 670.3h0M1127.3 651.6h0M1127.9 652.7h0M1128.0 652.1h0M1128.4 654.5h0M1128.5 652.8h0M1128.4 658.6h0M1128.2 683.0h0M1128.7 652.9h0M1129.1 692.4h0M1128.7 653.2h0M1129.3 655.6h0M1129.6 658.2h0M1130.0 660.6h0M1130.0 662.7h0M1130.3 666.2h0M1130.7 668.0h0M1130.4 669.8h0M1130.8 672.2h0M1131.0 674.8h0M1131.1 710.0h0M1131.0 680.0h0M1132.0 679.5h0M1131.9 682.4h0M1132.0 693.8h0M1132.2 684.1h0M1132.0 684.3h0M1132.5 696.8h0M1132.7 718.2h0M1133.2 686.2h0M1132.9 689.0h0M1132.9 688.2h0M1133.8 688.4h0M1133.9 689.1h0M1133.8 705.6h0M1134.3 690.6h0M1134.3 690.8h0M1134.6 694.8h0M1134.4 726.6h0M1134.9 708.5h0M1135.3 693.1h0M1135.3 718.3h0M1135.0 694.5h0M1135.4 718.5h0M1135.3 716.7h0M1136.1 694.5h0M1135.9 693.8h0M1135.6 725.6h0M1136.3 693.9h0M1136.4 717.8h0M1136.3 693.7h0M1136.6 728.5h0M1136.7 698.2h0M1137.0 722.0h0M1137.1 696.7h0M1137.4 728.4h0M1137.4 695.2h0M1137.6 726.8h0M1137.2 729.3h0M1137.5 710.4h0M1137.7 702.5h0M1138.3 693.8h0M1138.7 695.2h0M1138.1 708.2h0M1138.8 693.5h0M1138.5 703.4h0M1138.8 699.3h0M1139.3 689.9h0M1139.4 722.5h0M1139.3 701.0h0M1139.7 694.3h0M1139.4 690.5h0M1139.8 728.8h0M1139.6 693.7h0M1140.6 689.8h0M1140.5 712.5h0M1140.9 702.0h0M1140.8 696.4h0M1140.8 702.0h0M1141.0 684.6h0M1141.1 682.2h0M1141.6 695.3h0M1141.8 701.0h0M1142.0 721.2h0M1141.6 688.7h0M1142.1 698.9h0M1142.1 694.3h0M1142.4 711.2h0M1142.5 686.6h0M1142.5 701.7h0M1143.0 684.2h0M1143.0 701.9h0M1143.1 714.7h0M1143.2 675.8h0M1143.1 676.1h0M1143.4 676.4h0M1143.1 705.6h0M1144.1 675.4h0M1144.3 681.4h0M1143.7 684.5h0M1144.5 674.5h0M1144.4 688.0h0M1144.8 671.9h0M1144.7 671.6h0M1145.1 670.9h0M1144.8 670.1h0M1145.1 693.1h0M1145.4 703.7h0M1145.5 707.4h0M1145.9 698.2h0M1145.5 697.5h0M1145.9 671.3h0M1145.8 671.0h0M1146.1 705.3h0M1146.3 676.2h0M1146.4 705.9h0M1146.9 684.4h0M1147.0 670.3h0M1147.2 690.8h0M1147.1 699.7h0M1147.7 688.9h0M1147.6 671.7h0M1147.8 688.1h0M1147.9 668.5h0M1148.4 684.5h0M1148.6 667.1h0M1148.1 687.6h0M1148.8 681.7h0M1148.6 667.6h0M1148.9 665.4h0M1149.3 668.3h0M1149.1 668.3h0M1149.4 683.8h0M1149.5 671.1h0M1149.9 695.8h0M1150.0 674.0h0M1150.3 663.6h0M1150.5 678.6h0M1150.1 692.7h0M1150.3 665.9h0M1150.3 674.4h0M1151.0 672.8h0M1151.2 667.5h0M1151.5 683.3h0M1151.5 664.6h0M1151.6 675.1h0M1151.8 667.7h0M1151.5 685.5h0M1152.5 667.5h0M1152.3 688.9h0M1152.1 671.2h0M1152.4 703.8h0M1152.3 670.4h0M1152.5 665.1h0M1152.7 667.3h0M1153.4 665.9h0M1153.2 663.8h0M1153.6 664.6h0M1153.7 664.4h0M1153.9 674.0h0M1153.9 664.7h0M1154.2 671.9h0M1154.4 667.0h0M1154.2 691.6h0M1154.5 668.3h0M1154.8 666.9h0M1154.9 687.8h0M1155.3 667.8h0M1155.6 695.4h0M1155.1 666.5h0M1155.2 682.3h0M1156.0 664.8h0M1156.3 670.5h0M1156.5 669.8h0M1156.5 665.2h0M1156.3 673.2h0M1156.5 692.7h0M1156.9 690.2h0M1156.8 666.2h0M1156.8 685.7h0M1157.4 667.7h0M1157.1 670.4h0M1157.4 675.2h0M1157.7 706.5h0M1157.7 669.8h0M1157.7 706.1h0M1158.0 701.0h0M1158.3 667.6h0M1158.4 671.3h0M1158.9 673.2h0M1158.9 670.0h0M1159.5 673.8h0M1159.2 687.6h0M1159.2 665.7h0M1159.5 676.2h0M1160.1 691.0h0M1159.9 666.9h0M1160.6 662.6h0M1160.4 681.9h0M1160.6 664.5h0M1160.6 662.5h0M1161.0 681.8h0M1160.6 660.8h0M1161.0 671.9h0M1161.2 658.6h0M1161.9 655.1h0M1162.1 658.0h0M1162.3 657.4h0M1162.4 673.6h0M1162.6 662.3h0M1162.7 661.4h0M1162.6 652.2h0M1163.2 651.0h0M1162.5 652.9h0M1163.4 651.2h0M1163.3 670.9h0M1163.2 663.6h0M1163.2 680.5h0M1163.4 664.2h0M1164.0 662.8h0M1164.4 683.5h0M1164.0 663.5h0M1164.3 646.2h0M1164.2 665.7h0M1164.4 644.8h0M1164.2 670.7h0M1164.9 643.4h0M1164.6 687.2h0M1164.6 674.5h0M1165.3 651.7h0M1165.2 682.8h0M1165.3 654.6h0M1165.3 661.9h0M1165.5 658.4h0M1165.7 667.7h0M1165.6 685.1h0M1165.9 668.6h0M1166.5 649.0h0M1166.1 646.9h0M1166.1 671.8h0M1166.9 640.4h0M1167.2 645.3h0M1167.2 642.6h0M1167.3 679.8h0M1167.5 667.0h0M1167.7 646.8h0M1167.3 636.2h0M1167.7 654.7h0M1167.5 639.1h0M1168.2 644.8h0M1167.8 639.8h0M1168.4 666.7h0M1168.2 650.4h0M1168.3 678.8h0M1168.3 635.4h0M1168.9 662.4h0M1168.8 646.1h0M1168.8 651.0h0M1169.5 657.9h0M1169.3 635.2h0M1169.7 672.9h0M1169.7 660.3h0M1169.6 657.7h0M1169.7 644.6h0M1170.4 651.4h0M1169.9 674.7h0M1170.3 636.6h0M1170.2 673.5h0M1171.0 639.1h0M1170.8 664.5h0M1171.3 645.0h0M1170.9 652.9h0M1171.8 648.7h0M1171.1 676.2h0M1171.4 654.4h0M1171.8 655.7h0M1171.9 673.8h0M1171.9 654.5h0M1172.4 680.3h0M1172.1 667.4h0M1172.3 672.3h0M1172.9 669.8h0M1172.7 683.3h0M1172.8 679.2h0M1173.0 648.5h0M1173.3 675.9h0M1173.5 675.1h0M1173.9 685.2h0M1174.2 679.4h0M1174.4 674.8h0M1174.2 649.6h0M1174.1 681.8h0M1174.2 685.0h0M1174.6 666.8h0M1174.7 668.3h0M1174.7 659.4h0M1175.1 662.7h0M1175.0 679.5h0M1175.2 648.2h0M1175.7 686.6h0M1175.5 684.9h0M1175.5 651.6h0M1175.7 672.2h0M1176.3 678.7h0M1175.9 678.7h0M1176.4 671.6h0M1176.2 656.8h0M1176.4 681.7h0M1176.6 651.8h0M1176.7 679.7h0M1176.9 657.6h0M1177.7 653.0h0M1177.9 687.3h0M1177.9 654.6h0M1178.2 664.5h0M1178.4 662.7h0M1178.6 655.5h0M1178.1 678.6h0M1178.8 683.8h0M1178.9 682.5h0M1178.5 679.7h0M1179.5 686.7h0M1179.2 665.7h0M1179.1 685.9h0M1179.8 689.4h0M1179.8 680.8h0M1179.9 674.4h0M1180.1 684.1h0M1179.8 675.4h0M1180.5 678.8h0M1180.2 657.2h0M1180.1 673.6h0M1180.5 666.2h0M1180.8 669.8h0M1181.0 685.9h0M1181.3 688.3h0M1181.4 679.4h0M1181.4 685.3h0M1181.5 682.0h0M1182.2 667.9h0M1181.9 669.1h0M1182.2 673.4h0M1182.8 685.4h0M1183.0 683.3h0M1183.0 680.6h0M1183.2 663.1h0M1183.6 662.1h0M1183.3 675.3h0M1183.8 661.7h0M1183.8 665.4h0M1184.3 663.2h0M1184.3 659.2h0M1184.5 682.5h0M1184.7 665.7h0M1185.3 672.2h0M1185.7 677.3h0M1185.7 663.1h0M1186.0 662.6h0M1185.9 671.9h0M1186.3 680.7h0M1185.9 683.7h0M1186.5 681.2h0M1186.1 673.6h0M1186.5 678.9h0M1186.7 687.2h0M1187.0 688.7h0M1187.7 681.1h0M1187.7 663.2h0M1187.8 677.0h0M1188.2 668.9h0M1188.3 678.9h0M1188.3 668.0h0M1188.8 678.0h0M1189.1 681.3h0M1188.8 678.8h0M1189.1 674.7h0M1189.0 682.1h0M1189.8 685.6h0M1189.9 677.1h0M1190.0 694.1h0M1189.7 683.3h0M1190.2 683.5h0M1190.7 686.6h0M1191.0 703.6h0M1190.8 687.9h0M1190.9 682.6h0M1191.0 685.6h0M1191.3 699.3h0M1191.7 687.8h0M1191.4 682.2h0M1191.6 688.0h0M1192.0 701.2h0M1192.8 688.7h0M1192.5 699.4h0M1193.0 686.4h0M1193.5 689.0h0M1193.5 691.0h0M1193.4 705.5h0M1193.9 702.2h0M1193.9 697.5h0M1194.6 704.9h0M1194.2 707.0h0M1194.5 694.9h0M1194.9 694.1h0M1195.2 723.5h0M1195.5 694.1h0M1195.2 717.7h0M1196.1 696.4h0M1195.7 721.9h0M1196.1 719.5h0M1197.0 813.3h0M1197.6 815.0h0M1197.5 814.4h0M1197.5 822.1h0M1198.1 819.6h0M1197.9 822.8h0M1198.8 827.5h0M1198.4 819.2h0M1199.1 826.9h0M1198.8 827.9h0M1199.4 833.9h0M1199.5 835.0h0M1199.6 835.7h0M1199.9 837.4h0M1200.3 835.9h0M1200.6 837.4h0M1200.7 829.6h0M1200.8 830.3h0M1201.1 832.9h0M1201.6 831.9h0M1201.5 841.9h0M1202.0 844.7h0M1202.1 845.5h0M1202.4 843.9h0M1203.0 846.9h0M1203.1 846.9h0M1203.0 849.2h0M1203.7 850.0h0M1203.4 849.6h0M1204.1 844.4h0M1204.6 841.0h0M1204.0 846.5h0M1204.5 838.5h0M1205.2 843.8h0M1205.2 846.0h0M1205.3 842.1h0M1205.9 853.7h0M1206.2 842.7h0M1206.2 842.6h0M1206.0 847.4h0M1206.5 855.2h0M1207.1 850.6h0M1207.4 844.2h0M1207.2 855.7h0M1207.4 852.0h0M1207.8 857.0h0M1208.3 857.2h0M1207.9 855.7h0M1208.5 851.7h0M1208.6 847.3h0M1209.2 855.8h0M1208.9 848.8h0M1209.5 850.0h0M1209.6 850.7h0M1210.1 851.0h0M1209.9 851.9h0M1210.5 853.2h0M1211.0 860.2h0M1211.1 854.8h0M1210.9 859.6h0M1211.2 859.0h0M1211.9 858.5h0M1211.6 858.2h0M1212.1 871.5h0M1212.5 870.6h0M1212.8 864.4h0M1212.7 875.9h0M1213.1 874.8h0M1213.6 868.8h0M1213.8 872.5h0M1213.5 871.3h0M1213.8 876.7h0M1214.5 867.5h0M1214.2 875.5h0M1214.6 869.2h0M1214.8 867.9h0M1215.4 882.5h0M1215.8 879.8h0M1215.4 877.6h0M1215.6 868.1h0M1216.1 880.0h0M1216.2 879.7h0M1216.9 871.3h0M1216.8 875.1h0M1217.2 874.7h0M1217.8 874.1h0M1217.3 889.7h0M1217.7 890.4h0M1218.3 881.1h0M1218.2 887.2h0M1218.7 892.1h0M1218.5 892.2h0M1219.1 891.4h0M1219.5 890.7h0M1219.9 890.3h0M1219.5 887.0h0M1220.4 874.9h0M1219.9 886.3h0M1220.6 879.1h0M1220.7 878.2h0M1221.2 872.8h0M1220.6 878.2h0M1221.2 874.8h0M1221.3 878.9h0M1221.5 880.0h0M1222.3 872.4h0M1222.1 874.3h0M1222.3 878.5h0M1222.7 877.0h0M1223.3 869.5h0M1223.3 864.8h0M1223.2 864.0h0M1223.7 866.7h0M1223.8 864.8h0M1224.3 866.1h0M1224.5 862.1h0M1224.8 876.3h0M1225.1 874.8h0M1224.9 877.6h0M1225.3 874.1h0M1225.3 876.1h0M1226.0 864.7h0M1225.9 872.1h0M1226.4 865.2h0M1226.4 876.1h0M1226.9 860.6h0M1227.1 875.3h0M1227.5 871.1h0M1227.2 872.3h0M1227.9 851.9h0M1228.3 863.6h0M1228.5 850.1h0M1228.6 852.6h0M1228.2 857.2h0M1228.9 873.0h0M1228.6 867.3h0M1229.5 853.1h0M1229.5 868.3h0M1229.6 855.4h0M1229.7 865.3h0M1230.2 855.8h0M1230.2 864.7h0M1230.9 865.5h0M1230.4 865.6h0M1231.1 863.4h0M1231.1 874.0h0M1231.1 873.9h0M1231.9 871.2h0M1231.7 868.5h0M1231.9 874.0h0M1232.2 860.1h0M1233.0 864.6h0M1232.7 865.1h0M1233.2 864.9h0M1233.8 869.6h0M1233.8 859.6h0M1234.2 874.5h0M1234.3 858.5h0M1234.4 863.9h0M1234.5 864.0h0M1234.7 870.9h0M1235.3 859.5h0M1235.6 872.4h0M1235.3 860.4h0M1235.5 859.9h0M1235.9 863.3h0M1236.0 871.8h0M1236.7 870.3h0M1237.2 867.9h0M1236.8 861.2h0M1237.5 864.3h0M1237.2 862.4h0M1237.5 869.9h0M1238.0 866.0h0M1237.8 824.6h0M1237.1 841.4h0M1237.7 821.6h0M1237.9 834.9h0M1238.2 828.6h0M1238.4 813.2h0M1238.6 823.6h0M1238.6 825.1h0M1239.0 829.6h0M1239.2 813.0h0M1239.6 819.4h0M1239.7 805.2h0M1240.0 815.7h0M1240.1 805.5h0M1240.5 813.7h0M1239.9 827.2h0M1240.5 806.0h0M1240.6 812.5h0M1240.5 827.4h0M1241.1 825.2h0M1241.4 824.4h0M1241.5 808.9h0M1241.6 812.0h0M1241.6 813.9h0M1241.6 805.8h0M1242.4 830.4h0M1242.1 811.3h0M1242.4 823.9h0M1242.8 808.6h0M1242.9 827.6h0M1242.7 810.5h0M1243.4 809.5h0M1243.2 820.6h0M1244.2 816.5h0M1244.3 822.2h0M1243.9 816.8h0M1244.2 820.4h0M1245.1 827.5h0M1245.3 823.7h0M1245.3 832.0h0M1245.5 828.2h0M1245.5 830.8h0M1245.6 838.7h0M1243.6 880.3h0M1243.5 881.0h0M1244.1 872.5h0M1244.3 878.3h0M1244.5 878.8h0M1244.5 876.5h0M1245.3 875.5h0M1245.5 877.1h0M1245.1 873.0h0M1246.0 876.1h0M1245.8 877.9h0M1246.4 881.5h0M1246.6 873.9h0M1246.5 885.5h0M1247.1 885.9h0M1247.3 885.3h0M1247.5 881.6h0M1247.7 883.4h0M1247.7 885.2h0M1248.1 886.8h0M1248.6 887.3h0M1248.1 886.6h0M1248.7 875.5h0M1248.6 877.8h0M1249.2 880.8h0M1249.6 879.1h0M1249.6 885.7h0M1249.7 877.9h0M1250.4 878.6h0M1250.1 878.7h0M1250.6 876.2h0M1250.9 881.2h0M1251.6 885.7h0M1251.2 878.1h0M1251.8 884.9h0M1252.2 889.3h0M1252.2 881.1h0M1252.5 887.6h0M1252.4 884.1h0M1252.9 882.9h0M1253.2 879.6h0M1253.0 879.3h0M1253.6 881.7h0M1253.9 879.1h0M1254.1 887.8h0M1254.3 884.5h0M1254.9 875.2h0M1254.8 872.8h0M1255.4 873.3h0M1255.5 871.9h0M1255.7 868.2h0M1256.0 875.5h0M1255.7 879.3h0M1255.9 868.1h0M1256.6 867.5h0M1256.6 878.6h0M1256.8 876.0h0M1257.1 875.9h0M1257.4 868.7h0M1257.4 875.3h0M1257.6 878.8h0M1257.9 879.4h0M1258.3 876.3h0M1258.7 879.8h0M1258.8 880.7h0M1259.1 876.5h0M1259.2 880.0h0M1260.0 882.0h0M1260.0 877.1h0M1260.4 881.8h0M1260.1 880.3h0M1260.8 883.4h0M1261.1 880.8h0M1261.0 883.7h0M1260.9 883.6h0M1261.7 883.9h0M1261.7 883.7h0M1261.7 884.8h0M1261.4 879.8h0M1261.4 878.8h0M1261.6 877.7h0M1261.7 878.0h0M1262.3 880.9h0M1262.0 877.7h0M1262.8 885.1h0M1262.8 881.5h0M1263.0 887.4h0M1262.9 878.1h0M1263.5 882.2h0M1263.4 885.7h0M1263.8 880.0h0M1264.2 878.7h0M1264.0 882.3h0M1264.7 890.2h0M1264.7 881.7h0M1265.3 885.2h0M1265.7 887.9h0M1265.4 886.9h0M1265.5 890.8h0M1266.0 889.1h0M1266.7 892.0h0M1266.4 884.4h0M1266.8 887.3h0M1266.7 892.3h0M1267.6 887.1h0M1267.5 884.1h0M1267.4 894.3h0M1268.1 886.4h0M1268.2 883.5h0M1268.3 891.6h0M1268.6 893.7h0M1269.0 883.1h0M1269.2 884.9h0M1269.4 888.0h0M1269.3 889.3h0M1270.0 886.8h0M1270.5 885.7h0M1270.1 885.8h0M1270.6 886.1h0M1271.2 886.2h0M1270.8 887.1h0M1271.3 886.6h0M1271.5 886.7h0M1272.1 888.1h0M1271.9 887.3h0M1272.4 888.1h0M1272.5 887.8h0M1272.5 888.6h0M1272.9 888.1h0M1272.9 887.9h0M1273.6 889.9h0M1274.2 891.5h0M1274.3 887.2h0M1274.5 883.2h0M1274.2 888.1h0M1275.1 885.9h0M1274.8 892.0h0M1274.0 881.3h0M1274.4 881.1h0M1274.2 864.4h0M1274.7 880.3h0M1274.8 872.3h0M1275.1 880.7h0M1275.4 879.3h0M1275.4 880.3h0M1276.0 877.2h0M1276.0 879.4h0M1276.1 879.2h0M1277.0 876.0h0M1276.7 878.0h0M1277.0 877.5h0M1277.4 880.8h0M1277.7 871.7h0M1277.8 879.7h0M1277.8 880.8h0M1278.5 880.3h0M1278.7 879.8h0M1278.8 880.5h0M1279.1 880.1h0M1279.6 878.0h0M1279.4 874.5h0M1279.5 872.6h0M1279.6 879.2h0M1279.9 879.7h0M1280.1 878.5h0M1280.4 878.5h0M1280.7 871.3h0M1281.4 878.0h0M1281.7 879.1h0M1281.8 876.8h0M1281.8 877.7h0M1282.3 878.3h0M1282.3 878.2h0M1282.7 876.6h0M1282.4 872.5h0M1283.0 875.0h0M1283.0 877.5h0M1283.6 877.2h0M1283.4 876.6h0M1284.0 874.8h0M1284.3 874.5h0M1284.8 874.9h0M1284.8 877.4h0M1284.9 877.2h0M1284.9 869.5h0M1285.3 863.2h0M1286.1 875.7h0M1286.3 875.0h0M1286.0 873.5h0M1286.8 874.0h0M1286.8 873.4h0M1286.9 871.2h0M1287.1 876.5h0M1287.4 877.3h0M1288.0 873.7h0M1288.1 875.5h0M1288.0 877.9h0M1288.5 876.2h0M1288.5 874.9h0M1288.5 868.2h0M1289.2 869.6h0M1291.4 838.9h0M1291.2 851.3h0M1291.7 849.2h0M1291.6 851.5h0M1291.7 846.3h0M1292.5 846.3h0M1292.2 835.8h0M1293.1 848.4h0M1292.9 840.0h0M1293.2 847.6h0M1293.7 850.0h0M1293.7 840.1h0M1294.3 849.2h0M1294.2 853.6h0M1294.5 855.2h0M1295.0 849.8h0M1295.4 854.1h0M1293.0 881.6h0M1293.4 878.1h0M1293.6 881.3h0M1293.8 872.4h0M1294.1 869.5h0M1294.0 873.8h0M1294.1 866.6h0M1294.4 866.2h0M1295.1 877.6h0M1294.8 866.7h0M1295.3 876.4h0M1295.3 870.3h0M1295.9 869.8h0M1295.7 872.4h0M1296.2 866.8h0M1296.5 875.1h0M1297.1 875.2h0M1297.2 867.2h0M1297.1 869.3h0M1297.7 868.8h0M1297.6 868.8h0M1298.2 870.9h0M1298.6 871.9h0M1298.3 871.3h0M1298.5 880.1h0M1299.1 876.2h0M1299.1 868.6h0M1299.4 869.9h0M1299.4 869.6h0M1299.7 869.8h0M1300.5 879.9h0M1300.3 874.1h0M1300.9 875.1h0M1300.5 873.0h0M1300.9 877.8h0M1301.3 880.7h0M1301.6 876.9h0M1301.6 880.3h0M1301.7 878.9h0M1302.4 877.3h0M1302.8 871.3h0M1303.1 877.3h0M1302.9 871.8h0M1303.8 868.6h0M1304.1 865.6h0M1304.3 864.6h0M1304.3 869.2h0M1304.5 859.0h0M1305.1 858.1h0M1305.5 857.5h0M1305.3 857.1h0M1305.3 860.4h0M1305.8 859.8h0M1305.8 858.4h0M1306.7 855.8h0M1307.1 857.6h0M1306.9 856.5h0M1307.3 853.5h0M1307.2 853.6h0M1307.6 852.5h0M1307.6 853.0h0M1307.9 855.1h0M1308.6 852.4h0M1308.9 852.0h0M1308.7 851.4h0M1309.5 866.2h0M1309.0 858.4h0M1309.8 861.0h0M1310.3 865.4h0M1310.5 862.3h0M1310.0 867.2h0M1310.9 857.8h0M1310.8 861.1h0M1310.9 859.7h0M1311.0 864.2h0M1312.0 864.0h0M1311.6 854.2h0M1312.4 855.9h0M1312.4 855.3h0M1312.8 856.5h0M1312.5 858.8h0M1312.7 869.2h0M1313.6 859.4h0M1313.7 862.8h0M1314.1 867.4h0M1313.7 857.8h0M1314.5 875.2h0M1315.0 876.8h0M1315.1 877.5h0M1315.5 876.9h0M1315.5 875.5h0M1315.5 878.4h0M1315.8 878.9h0M1316.2 872.1h0M1316.4 878.2h0M1317.0 870.8h0M1316.6 879.1h0M1317.1 873.8h0M1317.7 870.1h0M1317.7 874.1h0M1318.0 877.9h0M1317.9 875.6h0M1318.3 878.4h0M1318.9 873.0h0M1319.2 877.4h0M1319.2 882.2h0M1319.7 882.7h0M1319.5 882.9h0M1319.7 882.7h0M1320.2 883.5h0M1320.1 883.7h0M1320.4 883.4h0M1320.9 884.1h0M1321.0 884.2h0M1321.3 884.5h0M1321.5 884.6h0M1321.8 884.1h0M1322.1 877.6h0M1322.0 879.0h0M1322.4 877.5h0M1322.2 882.0h0M1322.9 879.5h0M1322.7 880.8h0M1323.5 881.7h0M1323.5 875.4h0M1323.7 881.5h0M1323.8 882.9h0M1324.5 882.3h0M1324.8 885.4h0M1324.8 886.2h0M1324.8 883.6h0M1325.1 884.8h0M1325.8 887.1h0M1325.9 887.5h0M1325.6 889.1h0M1326.3 889.7h0M1326.8 890.4h0M1326.9 890.3h0M1327.1 889.5h0M1327.4 892.2h0M1327.2 893.0h0M1327.4 893.7h0M1328.2 891.3h0M1327.8 895.0h0M1328.1 894.2h0M1328.6 895.0h0M1328.8 894.4h0M1328.7 893.6h0M1329.2 892.5h0M1329.6 891.2h0M1329.5 888.6h0M1330.3 890.2h0M1330.1 889.2h0M1330.2 888.6h0M1330.8 887.7h0M1331.3 886.8h0M1330.7 865.2h0M1330.8 865.4h0M1331.4 865.5h0M1331.6 855.1h0M1331.5 866.1h0M1331.9 860.3h0M1332.3 853.4h0M1332.2 865.2h0M1332.3 862.9h0M1333.1 858.6h0M1332.8 852.3h0M1333.1 864.4h0M1333.1 857.8h0M1333.4 857.1h0M1333.9 856.6h0M1334.1 850.6h0M1334.6 857.9h0M1334.7 862.6h0M1334.8 847.4h0M1334.7 850.0h0M1335.1 854.8h0M1335.5 855.8h0M1335.9 849.3h0M1335.8 854.6h0M1336.2 854.3h0M1336.6 850.7h0M1336.8 856.2h0M1336.7 863.0h0M1337.0 861.0h0M1337.3 863.4h0M1338.8 701.6h0M1338.2 723.2h0M1338.4 697.6h0M1338.7 694.3h0M1338.8 718.8h0M1339.7 692.4h0M1339.8 693.0h0M1340.1 695.2h0M1339.7 690.3h0M1340.0 694.3h0M1340.4 696.5h0M1340.7 696.4h0M1340.9 710.3h0M1341.1 706.4h0M1341.0 705.6h0M1341.6 694.5h0M1341.2 702.4h0M1341.6 706.4h0M1341.7 700.2h0M1342.0 697.4h0M1342.1 687.0h0M1342.2 698.6h0M1342.5 688.8h0M1343.2 706.2h0M1343.0 703.9h0M1343.1 692.0h0M1343.6 707.0h0M1344.0 704.0h0M1344.5 678.3h0M1343.9 688.6h0M1344.0 690.6h0M1344.7 702.1h0M1345.1 688.5h0M1344.7 686.2h0M1345.3 706.0h0M1345.2 704.5h0M1345.5 706.1h0M1345.9 703.7h0M1346.2 701.0h0M1345.8 692.3h0M1346.5 687.0h0M1346.8 702.0h0M1346.6 706.2h0M1347.0 683.6h0M1346.9 706.7h0M1346.9 690.0h0M1347.2 707.1h0M1347.4 684.6h0M1347.8 701.6h0M1347.7 703.1h0M1347.9 693.8h0M1348.5 690.0h0M1348.4 699.3h0M1348.3 705.9h0M1348.7 686.2h0M1349.1 703.6h0M1349.2 679.0h0M1349.3 700.4h0M1349.4 685.2h0M1349.8 706.1h0M1349.3 702.1h0M1350.0 707.8h0M1350.3 708.1h0M1350.6 708.1h0M1350.9 708.4h0M1350.9 708.0h0M1350.8 707.1h0M1351.1 706.3h0M1351.6 705.9h0M1351.7 704.6h0M1352.0 697.4h0M1352.4 709.3h0M1352.5 707.9h0M1352.6 696.5h0M1353.3 692.7h0M1353.4 684.2h0M1353.4 709.1h0M1353.2 709.3h0M1353.2 686.6h0M1353.4 700.2h0M1353.8 699.0h0M1354.5 707.4h0M1354.6 709.5h0M1354.6 707.1h0M1354.9 698.5h0M1354.8 702.5h0M1355.3 708.3h0M1355.9 703.2h0M1356.1 704.0h0M1355.8 691.6h0M1355.9 697.5h0M1356.8 710.9h0M1356.3 684.2h0M1356.5 711.9h0M1356.5 706.6h0M1356.7 711.2h0M1357.6 712.7h0M1357.6 710.2h0M1357.9 710.9h0M1358.4 712.0h0M1358.1 714.9h0M1358.8 712.6h0M1359.1 694.1h0M1359.1 711.2h0M1358.7 717.9h0M1359.1 689.7h0M1359.4 704.2h0M1359.5 700.0h0M1359.8 711.0h0M1360.0 702.7h0M1360.0 700.9h0M1348.0 709.5h0M1348.5 712.6h0M1348.4 708.6h0M1348.8 709.3h0M1349.6 712.9h0M1349.2 709.5h0M1349.6 709.0h0M1350.4 709.4h0M1350.0 709.2h0M1350.8 711.8h0M1350.9 709.6h0M1350.5 709.8h0M1351.5 709.6h0M1351.1 713.2h0M1351.9 710.5h0M1351.8 711.1h0M1351.9 715.3h0M1352.1 710.9h0M1352.4 710.7h0M1352.8 715.0h0M1353.5 714.5h0M1353.1 710.6h0M1353.7 711.6h0M1353.7 717.8h0M1354.0 717.4h0M1354.7 712.3h0M1354.3 716.5h0M1354.5 717.3h0M1355.3 716.2h0M1359.9 900.9h0M1360.5 901.7h0M1360.5 895.0h0M1360.8 902.5h0M1361.0 891.3h0M1361.1 897.7h0M1361.5 891.5h0M1361.6 900.3h0M1361.9 903.7h0M1362.4 901.8h0M1362.3 901.6h0M1362.9 900.3h0M1363.1 898.3h0M1363.3 906.1h0M1363.2 892.5h0M1363.6 907.4h0M1363.5 906.1h0M1364.3 895.9h0M1364.0 901.9h0M1364.7 896.2h0M1364.4 893.2h0M1364.7 908.8h0M1364.9 895.4h0M1365.5 889.8h0M1365.9 901.6h0M1366.4 909.6h0M1366.1 905.6h0M1366.1 909.1h0M1366.8 903.3h0M1366.9 901.6h0M1367.4 903.8h0M1367.8 906.9h0M1367.4 896.9h0M1367.9 892.4h0M1367.8 900.8h0M1368.7 898.3h0M1368.4 893.5h0M1368.7 888.7h0M1369.3 884.2h0M1369.6 884.7h0M1369.2 886.7h0M1369.5 884.7h0M1369.9 885.4h0M1370.2 895.6h0M1370.6 885.4h0M1370.9 887.8h0M1370.9 896.5h0M1371.0 887.2h0M1371.9 896.1h0M1373.2 853.5h0M1373.2 844.8h0M1373.6 862.0h0M1373.2 835.4h0M1373.7 844.7h0M1374.0 834.6h0M1374.1 837.7h0M1374.2 838.6h0M1374.4 834.6h0M1374.2 854.4h0M1374.8 859.4h0M1375.1 862.9h0M1374.9 865.4h0M1375.4 863.6h0M1375.9 864.0h0M1375.7 842.4h0M1375.7 844.2h0M1376.2 850.6h0M1376.2 861.9h0M1376.5 855.0h0M1376.6 846.1h0M1376.8 862.9h0M1376.7 835.8h0M1377.3 841.3h0M1377.2 860.1h0M1377.9 864.7h0M1377.7 861.6h0M1378.3 860.7h0M1378.2 860.5h0M1378.5 858.5h0M1378.5 863.3h0M1379.3 866.9h0M1379.2 860.3h0M1379.5 867.2h0M1379.7 866.4h0M1379.8 865.2h0M1380.5 854.7h0M1380.4 866.4h0M1380.2 851.0h0M1380.6 863.8h0M1381.3 865.8h0M1381.1 847.5h0M1380.9 855.3h0M1381.6 861.9h0M1058.0 835.0h0M1059.0 842.0h0M1060.0 850.0h0M1061.0 858.0h0M1062.0 866.0h0M1059.0 870.0h0M1061.0 875.0h0M1063.0 840.0h0M1060.0 832.0h0M1063.7 783.8h0M1063.8 765.6h0M1063.8 739.0h0M1063.9 727.5h0M1063.9 722.6h0M1064.0 704.3h0M1064.0 687.8h0M1195.5 735.8h0M1196.0 754.0h0M1196.5 779.9h0M1197.0 797.7h0M1244.5 850.0h0M1245.0 856.0h0M1245.5 862.0h0M1246.0 866.0h0M1300.3 890.0h0M1300.5 896.0h0M1300.8 899.0h0M1334.0 828.5h0M1334.5 798.7h0M1335.0 785.5h0M1335.5 772.0h0M1336.0 762.3h0M1336.5 745.7h0M1337.0 732.5h0M1337.5 722.6h0M1338.0 712.6h0M1357.0 739.0h0M1357.5 765.6h0M1358.0 787.0h0M1358.5 807.0h0M1359.0 822.6h0M1359.5 835.2h0M1360.0 850.0h0M1360.5 865.0h0M1361.0 878.2h0M1361.5 888.2h0M1370.5 716.0h0M1371.0 731.0h0M1371.5 745.7h0M1372.0 759.0h0M1372.5 772.0h0M1373.0 785.5h0M1373.5 798.7h0M1374.0 815.0h0M1374.5 831.9h0M1375.0 863.0h0" stroke="#f8a888" stroke-width="6.2" stroke-linecap="round" fill="none"/>
<line x1="1036.00" y1="801.10" x2="1396.40" y2="801.10" stroke="#0b1a8f" stroke-width="3.5" stroke-dasharray="2.8 3.14" stroke-dashoffset="0.78"/>
<line x1="1063.59" y1="591.80" x2="1063.59" y2="975.00" stroke="#8f1a1f" stroke-width="2.5" stroke-dasharray="14.5 9.25" stroke-dashoffset="10.45"/>
</g>
<rect x="1036.00" y="591.80" width="360.40" height="383.20" fill="none" stroke="#000" stroke-width="2.0"/>
<path d="M1036.00 943.07h4.5M1396.40 943.07h-4.5M1036.00 897.45h4.5M1396.40 897.45h-4.5M1036.00 851.83h4.5M1396.40 851.83h-4.5M1036.00 806.21h4.5M1396.40 806.21h-4.5M1036.00 760.59h4.5M1396.40 760.59h-4.5M1036.00 714.97h4.5M1396.40 714.97h-4.5M1036.00 669.35h4.5M1396.40 669.35h-4.5M1036.00 623.73h4.5M1396.40 623.73h-4.5M1052.19 975.00v-4.5M1052.19 591.80v4.5M1058.91 975.00v-4.5M1058.91 591.80v4.5M1107.72 975.00v-4.5M1107.72 591.80v4.5M1195.18 975.00v-4.5M1195.18 591.80v4.5M1282.24 975.00v-4.5M1282.24 591.80v4.5M1335.84 975.00v-4.5M1335.84 591.80v4.5" stroke="#000" stroke-width="2" fill="none"/>
<text x="1032.70" y="950.37" text-anchor="end" font-size="20.5">0.5</text>
<text x="1032.70" y="904.75" text-anchor="end" font-size="20.5">1</text>
<text x="1032.70" y="859.13" text-anchor="end" font-size="20.5">1.5</text>
<text x="1032.70" y="813.51" text-anchor="end" font-size="20.5">2</text>
<text x="1032.70" y="767.89" text-anchor="end" font-size="20.5">2.5</text>
<text x="1032.70" y="722.27" text-anchor="end" font-size="20.5">3</text>
<text x="1032.70" y="676.65" text-anchor="end" font-size="20.5">3.5</text>
<text x="1032.70" y="631.03" text-anchor="end" font-size="20.5">4</text>
<text transform="translate(995.50,1046.80) rotate(-45)" font-size="17" textLength="84.6" lengthAdjust="spacingAndGlyphs">2022-09-03</text>
<text transform="translate(1013.90,1046.80) rotate(-45)" font-size="17" textLength="85.0" lengthAdjust="spacingAndGlyphs">2022-11-04</text>
<text transform="translate(1058.10,1046.80) rotate(-45)" font-size="17" textLength="79.0" lengthAdjust="spacingAndGlyphs">2022-12-11</text>
<text transform="translate(1144.60,1046.80) rotate(-45)" font-size="17" textLength="83.6" lengthAdjust="spacingAndGlyphs">2022-12-23</text>
<text transform="translate(1231.50,1046.80) rotate(-45)" font-size="17" textLength="84.6" lengthAdjust="spacingAndGlyphs">2023-01-04</text>
<text transform="translate(1284.90,1046.80) rotate(-45)" font-size="17" textLength="79.3" lengthAdjust="spacingAndGlyphs">2023-01-21</text>
<text x="1215.50" y="1068.20" font-size="21" textLength="39.6" lengthAdjust="spacingAndGlyphs">Date</text>
<text transform="translate(993.70,783.40) rotate(-90)" text-anchor="middle" font-size="17.5" textLength="81" lengthAdjust="spacingAndGlyphs">Health Index</text>
<text x="1166.30" y="582.60" font-size="20.6" textLength="126.90" lengthAdjust="spacingAndGlyphs">(g) Deep SVDD</text>
<text x="1293.50" y="589.70" font-size="12" textLength="6.50" lengthAdjust="spacingAndGlyphs">R</text>
<rect x="1070.60" y="875.90" width="134.60" height="88.50" fill="#fff" stroke="#000" stroke-width="2"/>
<circle cx="1105.10" cy="887.00" r="5.7" fill="#3bc3c8"/>
<text x="1138.20" y="892.20" font-size="14" textLength="28.60" lengthAdjust="spacingAndGlyphs">Train</text>
<circle cx="1105.10" cy="903.50" r="5.7" fill="#80b3de"/>
<text x="1138.20" y="908.70" font-size="14" textLength="58.00" lengthAdjust="spacingAndGlyphs">Validation</text>
<circle cx="1105.10" cy="920.00" r="5.7" fill="#f8a888"/>
<text x="1138.20" y="925.20" font-size="14" textLength="21.70" lengthAdjust="spacingAndGlyphs">Test</text>
<line x1="1076.20" y1="936.50" x2="1132.80" y2="936.50" stroke="#0b1a8f" stroke-width="3.5" stroke-dasharray="2.8 3.14"/>
<text x="1138.20" y="941.70" font-size="14" textLength="54.30" lengthAdjust="spacingAndGlyphs">Threshold</text>
<line x1="1076.10" y1="953.00" x2="1134.10" y2="953.00" stroke="#8f1a1f" stroke-width="2" stroke-dasharray="14.7 9.2"/>
<text x="1138.20" y="958.20" font-size="14" textLength="57.60" lengthAdjust="spacingAndGlyphs">Fault Time</text>
<text x="1035.50" y="587.00" font-size="17" textLength="28.3" lengthAdjust="spacingAndGlyphs">×10</text>
<text x="1060.80" y="576.70" font-size="17" textLength="13.6" lengthAdjust="spacingAndGlyphs">-3</text>
<clipPath id="cph"><rect x="1510.20" y="591.80" width="361.80" height="383.20"/></clipPath>
<g clip-path="url(#cph)">
<path d="M1526.5 871.6h0M1527.2 876.6h0M1528.2 885.0h0M1525.9 890.0h0M1528.2 891.5h0M1529.9 894.8h0M1530.5 898.0h0M1526.0 874.0h0M1527.0 881.0h0" stroke="#3bc3c8" stroke-width="6.2" stroke-linecap="round" fill="none"/>
<path d="M1531.5 903.0h0M1532.5 904.7h0" stroke="#80b3de" stroke-width="6.2" stroke-linecap="round" fill="none"/>
<path d="M1539.7 697.9h0M1540.4 700.9h0M1540.4 700.2h0M1540.7 699.6h0M1541.0 698.7h0M1541.2 697.4h0M1541.6 697.2h0M1541.6 695.6h0M1541.6 693.7h0M1542.0 694.9h0M1541.8 692.3h0M1542.1 692.3h0M1542.9 691.6h0M1542.8 689.8h0M1543.4 679.3h0M1543.0 683.6h0M1543.7 684.5h0M1544.0 689.9h0M1544.4 681.4h0M1544.4 686.5h0M1544.2 682.8h0M1545.0 668.6h0M1545.3 678.6h0M1545.4 682.6h0M1545.4 686.4h0M1545.7 677.6h0M1546.2 685.6h0M1546.6 685.4h0M1546.2 680.2h0M1546.6 685.2h0M1546.7 677.2h0M1547.0 681.9h0M1547.4 680.2h0M1547.7 670.9h0M1548.1 674.8h0M1548.1 678.6h0M1548.6 671.8h0M1548.9 662.0h0M1549.2 666.7h0M1548.7 665.4h0M1549.4 663.6h0M1549.8 676.0h0M1550.1 672.6h0M1550.2 664.8h0M1550.1 673.7h0M1550.2 671.4h0M1550.6 678.4h0M1550.9 674.8h0M1551.1 676.2h0M1551.2 678.1h0M1551.4 673.8h0M1551.8 676.9h0M1552.6 676.6h0M1552.3 673.6h0M1552.9 666.1h0M1552.5 662.1h0M1553.1 662.2h0M1553.1 674.6h0M1554.0 667.0h0M1554.1 674.4h0M1554.5 665.9h0M1554.4 675.9h0M1554.6 676.7h0M1555.0 669.7h0M1555.1 673.3h0M1555.0 666.3h0M1555.4 672.6h0M1555.8 675.1h0M1556.0 676.5h0M1556.6 669.3h0M1556.4 672.6h0M1556.5 675.1h0M1556.6 672.0h0M1557.3 676.3h0M1557.8 674.5h0M1557.8 665.9h0M1558.0 676.2h0M1558.2 671.5h0M1558.6 674.8h0M1558.3 676.1h0M1558.5 667.4h0M1559.0 674.5h0M1559.6 676.4h0M1559.3 674.2h0M1559.7 668.0h0M1559.7 669.9h0M1560.7 666.6h0M1560.7 675.7h0M1560.6 661.6h0M1561.3 675.6h0M1561.2 676.6h0M1561.8 676.4h0M1561.8 676.5h0M1561.6 674.2h0M1562.1 676.8h0M1562.0 670.0h0M1562.4 677.1h0M1562.8 675.5h0M1563.1 672.3h0M1563.1 669.0h0M1563.6 668.9h0M1564.2 677.0h0M1564.1 672.9h0M1564.4 666.3h0M1564.3 677.4h0M1564.7 674.5h0M1564.9 670.8h0M1565.3 667.4h0M1565.4 659.1h0M1565.4 669.4h0M1565.9 654.8h0M1566.0 667.2h0M1566.7 670.4h0M1566.6 676.9h0M1566.9 677.1h0M1566.7 656.6h0M1566.9 672.6h0M1567.5 678.1h0M1568.0 671.1h0M1567.7 664.9h0M1568.0 675.7h0M1568.5 677.6h0M1568.6 669.4h0M1569.2 678.9h0M1568.9 662.3h0M1569.0 678.9h0M1569.3 668.8h0M1569.2 672.8h0M1569.4 669.6h0M1569.9 671.4h0M1570.6 673.4h0M1570.8 657.5h0M1570.5 672.8h0M1570.9 671.1h0M1571.1 657.6h0M1571.3 660.4h0M1570.9 667.8h0M1571.8 659.7h0M1571.5 677.4h0M1571.6 676.6h0M1572.1 666.5h0M1572.5 679.2h0M1572.6 664.7h0M1572.6 674.8h0M1572.9 682.2h0M1573.2 670.0h0M1573.4 682.1h0M1574.0 681.9h0M1574.3 681.3h0M1574.5 682.5h0M1574.7 683.6h0M1575.0 677.6h0M1575.0 671.3h0M1575.6 667.5h0M1575.6 676.7h0M1575.6 678.9h0M1575.8 673.5h0M1576.3 679.2h0M1576.4 665.3h0M1576.1 669.7h0M1576.4 687.5h0M1576.5 670.9h0M1576.8 689.5h0M1576.6 669.3h0M1577.6 693.6h0M1577.7 685.4h0M1578.0 676.9h0M1577.8 686.4h0M1578.0 682.6h0M1577.8 676.1h0M1577.9 666.3h0M1578.1 669.7h0M1578.7 677.4h0M1578.8 671.2h0M1578.8 696.7h0M1579.7 703.9h0M1579.2 676.9h0M1579.7 702.8h0M1580.1 683.0h0M1580.4 668.6h0M1580.2 697.7h0M1580.1 676.6h0M1580.7 675.7h0M1580.5 692.0h0M1580.5 670.8h0M1581.2 708.3h0M1580.7 683.2h0M1581.4 680.7h0M1581.2 682.8h0M1581.6 697.8h0M1582.0 704.0h0M1582.0 674.0h0M1582.4 688.6h0M1582.2 686.9h0M1582.2 676.2h0M1582.9 675.6h0M1582.7 681.6h0M1583.5 672.4h0M1583.5 680.7h0M1583.6 671.2h0M1584.0 695.9h0M1583.5 679.6h0M1583.9 673.3h0M1584.0 683.9h0M1584.3 672.9h0M1584.1 690.1h0M1584.3 692.1h0M1584.6 696.1h0M1585.0 677.3h0M1585.6 692.9h0M1585.6 701.3h0M1585.9 703.1h0M1586.0 700.9h0M1585.9 684.1h0M1586.2 693.1h0M1586.1 684.0h0M1587.1 693.9h0M1586.9 695.1h0M1586.7 675.3h0M1587.5 689.8h0M1587.5 681.8h0M1587.5 701.4h0M1587.8 678.8h0M1588.3 686.5h0M1588.0 677.0h0M1588.0 704.0h0M1588.5 683.0h0M1589.0 694.8h0M1588.7 683.8h0M1589.4 691.3h0M1589.4 674.1h0M1589.8 702.8h0M1590.0 699.2h0M1589.9 673.9h0M1590.1 679.8h0M1590.7 684.7h0M1590.9 685.3h0M1590.6 679.9h0M1590.7 700.9h0M1591.2 676.1h0M1591.6 693.0h0M1591.6 701.4h0M1591.8 703.4h0M1591.6 697.5h0M1592.6 696.4h0M1592.3 669.8h0M1592.7 689.7h0M1592.9 679.5h0M1592.9 696.2h0M1593.0 672.3h0M1593.2 690.9h0M1593.2 672.7h0M1593.1 698.9h0M1593.3 662.2h0M1593.3 667.2h0M1593.3 694.2h0M1594.0 662.3h0M1593.6 663.4h0M1593.9 686.5h0M1594.8 688.6h0M1594.6 662.1h0M1594.8 685.9h0M1594.8 685.3h0M1594.9 675.3h0M1595.7 675.6h0M1595.3 671.2h0M1595.5 668.5h0M1595.9 674.9h0M1595.8 652.3h0M1596.4 657.4h0M1596.8 654.8h0M1596.7 654.8h0M1597.2 660.6h0M1597.1 658.6h0M1597.2 662.4h0M1597.7 651.6h0M1597.5 654.0h0M1598.0 649.7h0M1598.5 650.6h0M1598.2 657.8h0M1598.5 650.8h0M1598.9 650.3h0M1599.4 653.1h0M1599.0 651.1h0M1599.7 653.7h0M1599.7 651.3h0M1600.2 655.6h0M1600.7 656.3h0M1600.3 659.2h0M1601.2 658.3h0M1601.4 659.5h0M1601.1 657.0h0M1601.7 656.2h0M1601.8 669.2h0M1601.8 666.5h0M1602.5 665.6h0M1602.7 666.2h0M1602.4 662.9h0M1602.7 669.9h0M1603.3 667.6h0M1603.7 677.5h0M1603.8 672.6h0M1604.1 678.1h0M1604.0 684.2h0M1604.6 672.0h0M1604.9 682.2h0M1604.6 682.7h0M1605.4 672.3h0M1605.5 687.6h0M1605.3 673.8h0M1605.5 682.4h0M1606.2 673.7h0M1606.0 676.8h0M1606.5 677.2h0M1606.2 691.7h0M1606.2 680.7h0M1606.7 694.6h0M1606.9 677.2h0M1607.1 680.3h0M1607.0 680.6h0M1607.6 682.1h0M1607.5 692.8h0M1607.9 704.4h0M1608.6 705.8h0M1608.7 704.9h0M1608.9 709.7h0M1609.3 712.5h0M1608.9 709.9h0M1609.5 712.1h0M1609.3 689.5h0M1610.0 699.0h0M1610.2 715.0h0M1610.2 714.3h0M1610.5 711.5h0M1610.1 689.1h0M1610.2 714.7h0M1610.7 712.9h0M1610.8 698.6h0M1611.4 718.4h0M1611.4 716.1h0M1611.5 713.9h0M1611.8 688.6h0M1611.7 715.9h0M1611.8 719.5h0M1612.4 721.6h0M1612.0 689.6h0M1612.7 719.9h0M1612.6 720.5h0M1612.6 717.2h0M1612.7 712.5h0M1613.2 718.1h0M1612.8 712.4h0M1613.4 688.7h0M1613.4 712.0h0M1613.6 705.5h0M1613.8 706.5h0M1614.4 689.4h0M1614.6 702.1h0M1614.7 693.8h0M1614.7 698.9h0M1614.9 696.6h0M1615.2 703.4h0M1615.4 689.5h0M1615.5 704.1h0M1615.5 675.8h0M1616.1 690.7h0M1615.8 673.7h0M1616.4 685.5h0M1616.1 681.0h0M1616.5 704.8h0M1616.6 701.3h0M1617.1 691.0h0M1617.2 703.2h0M1617.4 690.0h0M1617.4 698.6h0M1617.7 700.7h0M1618.3 698.5h0M1618.3 671.6h0M1618.3 694.4h0M1618.2 699.9h0M1618.4 698.1h0M1618.6 684.7h0M1619.2 697.0h0M1619.7 687.0h0M1619.7 692.3h0M1619.7 691.9h0M1620.3 679.5h0M1619.7 677.6h0M1620.0 677.4h0M1620.3 689.3h0M1620.7 672.0h0M1620.9 680.0h0M1621.0 682.6h0M1621.0 673.5h0M1621.1 691.9h0M1621.6 680.2h0M1621.5 692.9h0M1621.8 669.4h0M1621.8 691.2h0M1621.8 688.1h0M1622.1 683.1h0M1622.4 674.7h0M1622.3 693.1h0M1622.2 662.6h0M1622.6 682.4h0M1622.9 695.8h0M1623.2 684.6h0M1623.5 661.9h0M1622.9 690.8h0M1623.3 683.0h0M1623.7 664.4h0M1623.6 668.3h0M1624.2 665.6h0M1624.5 692.4h0M1624.1 681.5h0M1624.3 662.8h0M1624.6 661.2h0M1624.9 667.5h0M1625.3 685.8h0M1625.0 673.6h0M1625.8 665.9h0M1625.8 664.7h0M1625.9 665.1h0M1626.1 662.4h0M1626.1 673.7h0M1626.4 682.4h0M1626.6 667.2h0M1626.6 677.8h0M1626.6 658.3h0M1627.1 675.0h0M1626.7 677.0h0M1627.2 695.6h0M1627.5 659.5h0M1626.9 681.7h0M1627.7 660.2h0M1627.6 671.5h0M1627.7 661.2h0M1628.3 688.8h0M1628.6 668.9h0M1627.9 663.2h0M1628.2 683.7h0M1628.7 677.1h0M1628.6 673.4h0M1629.0 690.0h0M1629.8 693.2h0M1629.5 672.7h0M1629.8 690.8h0M1629.3 678.7h0M1630.0 663.6h0M1630.1 677.4h0M1630.2 670.4h0M1630.3 670.9h0M1630.4 664.5h0M1630.6 696.2h0M1630.5 665.8h0M1630.9 683.7h0M1631.0 694.1h0M1631.1 678.3h0M1631.1 664.6h0M1631.3 684.3h0M1631.7 700.5h0M1631.6 674.6h0M1631.5 699.2h0M1632.2 678.8h0M1632.3 685.4h0M1632.3 687.8h0M1632.2 700.3h0M1632.7 696.3h0M1632.9 699.5h0M1633.0 705.2h0M1632.9 705.5h0M1633.8 705.7h0M1633.6 703.8h0M1633.8 689.6h0M1633.8 705.9h0M1633.9 695.3h0M1633.8 708.0h0M1634.1 707.0h0M1634.4 707.5h0M1634.8 707.6h0M1635.4 709.6h0M1634.9 694.6h0M1635.4 693.4h0M1635.4 709.3h0M1636.1 705.1h0M1635.5 672.6h0M1635.7 707.0h0M1635.9 685.3h0M1636.5 700.2h0M1636.4 694.4h0M1636.4 682.2h0M1636.6 703.5h0M1636.9 704.7h0M1637.1 691.8h0M1637.5 679.4h0M1637.2 664.1h0M1637.8 698.9h0M1637.9 671.7h0M1637.9 689.9h0M1637.6 660.9h0M1638.2 686.1h0M1638.1 689.7h0M1638.4 666.2h0M1638.5 683.7h0M1638.4 677.7h0M1638.7 687.9h0M1639.2 680.8h0M1638.9 667.5h0M1639.1 671.0h0M1639.8 700.6h0M1639.3 692.1h0M1639.6 688.1h0M1640.2 700.7h0M1639.7 679.6h0M1640.0 701.3h0M1640.3 698.1h0M1640.4 697.0h0M1640.8 689.6h0M1640.4 674.4h0M1641.1 697.8h0M1640.6 687.2h0M1641.1 698.4h0M1641.2 670.1h0M1641.6 688.8h0M1641.6 667.0h0M1641.9 692.1h0M1641.2 679.9h0M1641.5 694.0h0M1642.3 670.4h0M1642.1 672.1h0M1642.2 681.4h0M1642.8 697.2h0M1642.6 676.2h0M1642.8 683.3h0M1643.2 694.3h0M1643.2 697.3h0M1643.0 663.3h0M1643.9 697.2h0M1644.1 692.1h0M1643.6 690.7h0M1644.0 690.4h0M1644.7 689.4h0M1644.4 686.0h0M1644.9 696.7h0M1644.8 669.9h0M1644.6 677.3h0M1644.9 690.8h0M1645.4 687.3h0M1645.2 668.5h0M1645.3 667.5h0M1645.8 687.5h0M1646.0 693.8h0M1645.8 674.7h0M1646.4 684.6h0M1645.9 682.6h0M1646.3 692.5h0M1646.0 694.5h0M1646.3 680.0h0M1646.3 663.3h0M1647.0 690.8h0M1647.1 689.6h0M1647.1 678.6h0M1647.5 695.7h0M1647.1 680.0h0M1647.9 694.0h0M1648.0 692.6h0M1648.4 678.8h0M1648.4 692.8h0M1648.7 689.3h0M1648.4 693.5h0M1648.9 689.7h0M1648.7 679.6h0M1649.3 681.2h0M1649.8 692.1h0M1650.0 692.6h0M1650.2 673.5h0M1649.9 692.8h0M1650.4 664.7h0M1650.3 692.5h0M1650.4 694.4h0M1650.7 692.8h0M1650.8 681.9h0M1650.9 694.2h0M1651.0 686.2h0M1651.0 691.8h0M1651.5 670.6h0M1652.1 694.9h0M1652.2 686.3h0M1652.3 694.2h0M1652.2 686.9h0M1652.4 689.2h0M1652.6 664.3h0M1652.6 695.7h0M1652.6 695.7h0M1653.1 694.9h0M1653.5 695.3h0M1653.7 693.5h0M1653.8 695.6h0M1654.2 695.4h0M1654.1 662.9h0M1654.6 696.3h0M1654.5 695.2h0M1654.6 671.7h0M1655.1 692.6h0M1654.6 662.5h0M1655.1 676.3h0M1655.2 689.8h0M1655.5 693.9h0M1655.8 676.4h0M1655.7 691.1h0M1656.2 681.8h0M1655.7 678.5h0M1656.3 677.8h0M1656.3 681.3h0M1656.6 690.3h0M1657.1 675.2h0M1657.0 695.8h0M1656.9 674.1h0M1657.2 661.0h0M1657.6 687.8h0M1657.4 682.1h0M1657.9 687.3h0M1657.8 680.3h0M1658.3 689.5h0M1657.9 674.0h0M1658.5 668.0h0M1658.6 677.8h0M1658.9 657.8h0M1658.9 667.3h0M1658.6 678.1h0M1659.5 658.3h0M1659.3 673.5h0M1659.7 670.3h0M1659.6 672.7h0M1660.1 661.0h0M1659.8 667.0h0M1660.5 658.9h0M1660.7 665.8h0M1660.5 665.0h0M1660.9 690.1h0M1661.0 667.6h0M1661.6 679.2h0M1661.5 664.7h0M1661.2 679.3h0M1661.6 681.9h0M1662.0 669.5h0M1661.5 687.0h0M1662.0 664.2h0M1661.8 673.5h0M1662.1 668.9h0M1662.3 660.8h0M1662.8 670.2h0M1662.8 693.1h0M1662.8 663.6h0M1662.8 678.7h0M1663.3 660.2h0M1663.5 662.2h0M1663.8 671.5h0M1663.7 673.7h0M1664.3 668.9h0M1664.1 667.5h0M1664.5 687.2h0M1664.8 672.3h0M1664.9 675.4h0M1664.7 677.7h0M1665.1 687.6h0M1664.9 664.4h0M1665.5 681.8h0M1665.4 697.3h0M1665.9 685.7h0M1665.8 701.1h0M1665.8 682.7h0M1665.7 677.8h0M1666.5 696.4h0M1666.2 680.4h0M1666.3 701.1h0M1666.9 694.6h0M1666.5 682.3h0M1666.7 685.5h0M1667.1 676.6h0M1667.0 703.3h0M1667.2 700.2h0M1667.9 680.7h0M1668.0 677.7h0M1668.4 690.1h0M1668.6 697.7h0M1667.9 701.6h0M1668.7 694.5h0M1669.1 701.8h0M1668.7 703.6h0M1669.4 699.9h0M1669.1 688.0h0M1669.6 686.8h0M1670.2 691.4h0M1670.2 690.7h0M1670.6 692.9h0M1670.4 688.8h0M1670.9 691.1h0M1671.0 700.3h0M1671.7 705.1h0M1671.6 706.9h0M1671.7 694.4h0M1672.1 703.8h0M1672.6 697.0h0M1670.7 917.2h0M1670.5 918.2h0M1671.2 919.0h0M1671.0 920.6h0M1671.1 915.9h0M1671.5 913.9h0M1672.0 921.0h0M1672.4 922.2h0M1672.4 916.8h0M1672.4 923.6h0M1672.7 915.5h0M1673.3 915.1h0M1673.2 922.6h0M1673.9 918.2h0M1674.1 919.1h0M1674.2 919.7h0M1674.1 913.5h0M1674.8 925.7h0M1674.5 912.9h0M1674.7 920.6h0M1675.4 921.8h0M1675.7 923.9h0M1675.8 922.2h0M1676.2 919.5h0M1676.1 918.3h0M1676.3 909.6h0M1676.7 924.5h0M1677.1 917.0h0M1676.9 922.7h0M1677.7 924.0h0M1677.6 922.1h0M1678.1 923.3h0M1678.1 921.7h0M1678.6 917.1h0M1678.5 922.6h0M1679.1 917.1h0M1678.9 921.9h0M1679.4 921.7h0M1679.2 921.6h0M1679.6 921.2h0M1680.3 920.7h0M1680.6 920.5h0M1680.9 918.2h0M1680.9 918.2h0M1681.3 919.5h0M1681.5 918.6h0M1681.2 914.0h0M1681.9 915.1h0M1682.3 918.9h0M1681.9 918.1h0M1682.7 918.1h0M1683.0 913.2h0M1682.6 915.2h0M1683.5 915.1h0M1683.1 915.2h0M1683.7 905.3h0M1683.8 909.0h0M1684.0 908.9h0M1684.3 914.8h0M1684.3 901.2h0M1685.2 899.8h0M1684.9 900.6h0M1685.2 897.9h0M1685.4 905.5h0M1685.4 904.6h0M1685.9 895.7h0M1686.0 898.5h0M1686.8 893.7h0M1686.5 891.6h0M1687.2 894.6h0M1687.5 896.4h0M1687.6 900.2h0M1687.5 887.8h0M1687.6 889.7h0M1688.1 891.5h0M1688.3 888.4h0M1688.7 890.6h0M1688.5 890.6h0M1689.4 891.5h0M1689.2 891.2h0M1689.7 888.9h0M1689.6 891.2h0M1690.2 895.1h0M1690.2 893.0h0M1690.7 900.3h0M1690.5 896.5h0M1690.7 901.3h0M1690.9 905.7h0M1691.7 898.6h0M1691.5 900.4h0M1691.9 902.0h0M1692.6 902.3h0M1692.8 903.4h0M1692.9 909.7h0M1693.0 911.7h0M1693.1 913.5h0M1693.4 919.1h0M1693.7 920.3h0M1693.6 915.5h0M1694.0 922.9h0M1694.1 923.0h0M1694.9 923.2h0M1694.5 923.6h0M1695.4 922.4h0M1695.5 914.2h0M1695.4 923.3h0M1696.1 923.6h0M1695.7 924.6h0M1696.1 913.6h0M1696.6 921.5h0M1697.0 924.6h0M1697.0 918.3h0M1697.2 917.9h0M1697.2 912.9h0M1697.9 915.6h0M1697.8 918.1h0M1698.2 915.6h0M1698.0 912.9h0M1698.3 912.1h0M1698.5 913.5h0M1699.5 916.5h0M1699.5 914.5h0M1699.2 910.5h0M1699.7 918.1h0M1699.9 907.5h0M1700.2 909.2h0M1700.3 906.3h0M1701.1 915.0h0M1701.3 918.7h0M1701.0 914.2h0M1701.8 913.4h0M1701.6 912.2h0M1701.9 910.0h0M1701.8 908.5h0M1702.4 912.3h0M1702.7 910.8h0M1703.1 912.0h0M1703.5 906.8h0M1703.0 909.8h0M1704.0 909.6h0M1704.3 913.0h0M1703.9 909.7h0M1704.6 911.5h0M1704.7 909.1h0M1705.1 910.3h0M1705.4 912.3h0M1705.0 910.5h0M1705.1 909.8h0M1706.0 910.1h0M1706.3 911.2h0M1706.5 911.8h0M1706.4 908.9h0M1706.9 910.6h0M1706.9 909.1h0M1707.5 909.4h0M1707.8 910.0h0M1707.9 911.3h0M1708.0 908.4h0M1707.9 910.2h0M1708.3 906.3h0M1708.4 911.0h0M1708.7 910.5h0M1709.3 910.3h0M1709.5 909.3h0M1709.8 909.6h0M1709.5 910.1h0M1710.2 909.6h0M1710.0 909.5h0M1710.2 909.0h0M1710.9 909.1h0M1711.1 908.5h0M1711.2 908.0h0M1711.4 907.1h0M1712.0 906.2h0M1711.7 903.2h0M1712.5 904.3h0M1712.6 901.7h0M1713.0 902.9h0M1712.7 901.9h0M1713.4 888.2h0M1713.6 890.8h0M1713.2 897.2h0M1714.2 892.9h0M1714.3 881.3h0M1714.6 896.8h0M1714.5 895.4h0M1714.9 887.5h0M1715.0 885.2h0M1715.5 883.5h0M1715.5 883.7h0M1715.8 885.2h0M1716.0 895.1h0M1716.2 890.2h0M1716.7 892.0h0M1716.5 877.8h0M1717.1 891.5h0M1716.9 884.7h0M1717.7 894.5h0M1717.6 891.4h0M1717.8 891.3h0M1718.4 887.0h0M1718.2 889.0h0M1718.9 893.1h0M1718.5 894.5h0M1718.9 896.6h0M1719.1 897.5h0M1719.5 898.8h0M1719.9 897.4h0M1719.8 900.2h0M1720.5 892.7h0M1720.6 901.8h0M1720.4 902.0h0M1721.0 901.4h0M1721.3 900.7h0M1721.3 902.1h0M1722.0 901.9h0M1722.0 902.3h0M1722.0 898.8h0M1722.8 901.2h0M1722.9 898.9h0M1722.6 902.4h0M1722.8 898.4h0M1723.2 897.6h0M1723.8 902.4h0M1724.3 898.2h0M1724.5 901.2h0M1724.1 901.7h0M1724.4 902.1h0M1725.0 901.3h0M1725.3 901.6h0M1725.4 901.7h0M1725.4 902.9h0M1725.8 897.9h0M1726.3 902.4h0M1725.9 898.3h0M1726.5 899.4h0M1726.6 905.3h0M1726.6 905.6h0M1727.4 905.1h0M1727.6 904.7h0M1727.7 899.8h0M1728.3 903.3h0M1728.4 906.5h0M1728.7 906.1h0M1728.6 906.2h0M1728.7 909.4h0M1729.3 910.6h0M1729.4 910.4h0M1729.4 911.7h0M1729.7 911.0h0M1729.9 912.2h0M1730.4 914.1h0M1730.6 915.1h0M1730.6 913.5h0M1730.9 915.0h0M1731.3 912.5h0M1731.9 910.9h0M1731.6 917.4h0M1732.3 913.0h0M1732.1 916.2h0M1732.6 910.7h0M1732.7 911.0h0M1732.7 914.2h0M1733.4 916.1h0M1733.1 913.8h0M1733.3 913.3h0M1733.7 914.9h0M1734.5 908.8h0M1734.1 913.4h0M1734.3 910.0h0M1734.8 910.6h0M1734.9 910.7h0M1735.2 911.7h0M1735.4 911.4h0M1735.5 908.5h0M1736.0 909.5h0M1736.3 910.3h0M1736.4 905.3h0M1736.6 904.7h0M1737.4 908.1h0M1737.3 908.1h0M1737.5 905.9h0M1737.6 906.5h0M1737.6 906.5h0M1738.4 905.6h0M1738.3 904.1h0M1738.6 902.1h0M1738.6 905.8h0M1739.0 905.3h0M1739.0 905.0h0M1739.4 904.9h0M1740.1 904.6h0M1740.3 903.4h0M1740.4 903.0h0M1741.0 897.2h0M1740.8 901.1h0M1741.2 897.7h0M1741.5 895.0h0M1741.6 902.9h0M1741.8 900.4h0M1741.7 901.0h0M1742.6 898.1h0M1742.6 901.8h0M1742.5 901.9h0M1743.0 901.6h0M1743.5 902.3h0M1743.1 902.1h0M1743.4 902.0h0M1743.6 901.2h0M1743.9 901.5h0M1744.7 900.2h0M1744.4 899.7h0M1744.6 901.0h0M1745.2 896.9h0M1745.3 899.1h0M1745.8 896.2h0M1745.9 898.9h0M1746.1 897.6h0M1746.2 897.2h0M1746.7 900.6h0M1746.9 900.2h0M1746.8 899.6h0M1747.0 900.0h0M1747.8 899.4h0M1747.5 900.9h0M1748.1 901.0h0M1748.4 901.2h0M1748.6 900.9h0M1748.3 899.2h0M1749.1 897.6h0M1749.5 900.0h0M1749.4 900.9h0M1749.6 901.6h0M1749.9 897.9h0M1750.0 900.1h0M1750.4 900.8h0M1750.6 896.6h0M1750.9 900.8h0M1751.2 893.6h0M1751.6 901.0h0M1751.8 898.4h0M1751.5 901.1h0M1752.4 899.5h0M1752.3 897.4h0M1752.1 902.1h0M1752.8 900.1h0M1753.2 902.4h0M1753.4 901.2h0M1753.2 898.1h0M1753.8 896.4h0M1754.1 896.8h0M1754.0 902.6h0M1754.1 889.6h0M1755.0 900.6h0M1754.9 898.2h0M1755.5 893.7h0M1755.0 901.2h0M1755.2 901.2h0M1756.0 902.1h0M1756.1 895.7h0M1756.2 898.1h0M1756.8 893.4h0M1756.4 890.7h0M1756.8 889.5h0M1757.2 892.6h0M1757.6 894.8h0M1757.9 896.5h0M1757.8 900.4h0M1758.5 898.8h0M1758.2 896.5h0M1758.8 902.0h0M1758.9 892.7h0M1759.3 895.5h0M1759.7 901.9h0M1759.5 894.7h0M1759.9 897.6h0M1760.5 893.3h0M1760.7 902.3h0M1760.3 898.2h0M1760.4 890.2h0M1761.1 900.7h0M1761.1 891.9h0M1761.1 892.7h0M1762.1 900.6h0M1762.2 897.8h0M1761.9 901.4h0M1762.3 898.6h0M1763.0 902.2h0M1762.8 897.0h0M1763.2 903.1h0M1763.4 892.1h0M1763.6 901.1h0M1764.2 901.2h0M1764.3 903.2h0M1764.5 901.3h0M1765.0 896.7h0M1765.2 895.2h0M1765.3 901.8h0M1765.0 905.1h0M1765.9 904.2h0M1765.4 898.1h0M1765.7 902.3h0M1766.3 905.5h0M1766.2 901.9h0M1766.5 897.9h0M1766.9 902.2h0M1767.6 898.1h0M1767.4 904.0h0M1767.4 897.3h0M1768.0 896.5h0M1768.5 893.5h0M1768.3 903.7h0M1768.3 894.7h0M1769.2 893.4h0M1769.0 903.1h0M1769.6 894.6h0M1770.0 888.7h0M1769.6 892.0h0M1770.5 888.5h0M1770.1 899.7h0M1770.6 895.8h0M1770.7 891.5h0M1770.8 899.0h0M1771.3 900.3h0M1771.5 902.4h0M1771.7 896.2h0M1771.7 895.2h0M1771.9 899.8h0M1772.7 897.5h0M1772.4 900.4h0M1772.6 892.4h0M1772.9 891.0h0M1773.8 901.5h0M1773.9 895.8h0M1773.9 894.7h0M1774.5 891.6h0M1774.7 892.8h0M1775.0 891.2h0M1775.2 891.8h0M1775.5 892.7h0M1775.5 892.1h0M1775.7 893.4h0M1775.7 895.5h0M1776.0 893.3h0M1776.4 895.6h0M1776.4 894.0h0M1777.0 899.1h0M1776.8 897.7h0M1776.9 899.9h0M1777.4 900.7h0M1777.4 895.9h0M1777.6 899.7h0M1778.1 897.1h0M1778.7 899.1h0M1779.1 898.4h0M1778.9 896.8h0M1778.9 895.0h0M1779.6 894.9h0M1779.7 896.4h0M1779.9 897.8h0M1780.5 901.8h0M1780.3 896.9h0M1780.7 900.1h0M1780.9 898.8h0M1781.3 897.3h0M1781.2 897.0h0M1781.3 896.4h0M1782.0 897.8h0M1781.8 898.3h0M1782.0 903.1h0M1782.2 904.0h0M1782.4 898.9h0M1782.9 900.5h0M1783.3 902.1h0M1783.5 903.3h0M1783.4 901.6h0M1783.8 902.1h0M1784.2 902.3h0M1784.6 904.5h0M1784.9 907.3h0M1784.9 908.9h0M1785.5 905.1h0M1785.7 908.5h0M1785.3 905.5h0M1785.8 906.1h0M1785.7 913.9h0M1786.1 914.8h0M1786.4 907.9h0M1786.5 911.4h0M1787.4 915.7h0M1787.4 918.0h0M1787.7 918.0h0M1788.0 921.9h0M1787.6 912.4h0M1788.2 912.3h0M1788.1 912.5h0M1789.0 912.7h0M1788.9 911.4h0M1788.8 913.7h0M1789.0 915.3h0M1789.3 912.7h0M1789.6 921.3h0M1789.8 914.0h0M1790.3 915.1h0M1790.8 916.2h0M1790.7 915.1h0M1791.2 912.4h0M1791.7 911.8h0M1791.5 910.8h0M1792.0 911.4h0M1791.7 910.9h0M1792.7 910.7h0M1792.7 909.0h0M1792.8 908.6h0M1792.8 909.1h0M1792.8 907.5h0M1793.1 906.8h0M1794.0 906.1h0M1794.1 905.1h0M1794.1 904.4h0M1794.1 903.5h0M1794.8 902.7h0M1795.0 902.2h0M1794.8 901.0h0M1795.7 900.9h0M1795.8 899.5h0M1795.5 898.9h0M1796.0 898.0h0M1796.4 902.4h0M1796.7 898.9h0M1797.0 897.3h0M1796.7 896.5h0M1797.5 896.3h0M1797.4 896.0h0M1797.9 898.3h0M1798.2 895.6h0M1798.3 902.2h0M1798.3 894.4h0M1798.6 894.3h0M1798.8 895.1h0M1799.3 895.5h0M1799.5 893.3h0M1800.0 894.4h0M1799.6 892.6h0M1800.1 893.3h0M1800.7 891.9h0M1801.0 892.1h0M1800.9 898.5h0M1800.9 893.0h0M1801.6 898.8h0M1801.8 892.8h0M1801.5 893.4h0M1802.3 893.4h0M1802.6 896.5h0M1802.9 893.1h0M1802.7 900.8h0M1802.7 900.1h0M1803.0 897.7h0M1803.8 900.3h0M1803.7 901.1h0M1804.1 899.5h0M1803.9 901.1h0M1804.2 898.0h0M1805.0 899.4h0M1804.6 892.2h0M1805.1 902.6h0M1805.4 901.9h0M1805.4 901.1h0M1805.9 900.8h0M1806.4 896.3h0M1806.4 902.1h0M1806.5 903.7h0M1806.5 903.1h0M1807.0 903.3h0M1807.5 904.2h0M1807.5 902.0h0M1807.8 903.1h0M1807.6 902.8h0M1808.4 897.2h0M1808.5 903.3h0M1808.6 904.2h0M1808.8 895.6h0M1809.5 898.7h0M1809.3 903.4h0M1809.6 903.8h0M1810.0 903.0h0M1810.2 903.4h0M1810.7 901.9h0M1810.8 903.0h0M1810.6 897.0h0M1811.2 896.6h0M1811.6 899.5h0M1811.3 901.3h0M1811.8 898.3h0M1811.8 894.4h0M1812.5 892.1h0M1812.4 897.2h0M1813.1 891.2h0M1813.3 892.3h0M1812.4 709.3h0M1812.9 707.9h0M1812.9 705.7h0M1812.9 706.2h0M1813.1 705.4h0M1813.5 707.0h0M1814.2 701.1h0M1814.5 708.2h0M1814.6 697.9h0M1815.0 697.4h0M1814.6 694.7h0M1815.4 694.2h0M1815.1 694.1h0M1815.6 704.6h0M1815.8 693.5h0M1816.3 695.6h0M1816.2 701.3h0M1816.9 698.6h0M1816.9 700.9h0M1817.2 702.5h0M1817.5 703.6h0M1817.4 704.0h0M1817.6 702.7h0M1817.7 691.1h0M1818.3 688.7h0M1818.5 697.5h0M1819.0 684.3h0M1818.7 695.5h0M1815.5 674.4h0M1815.5 686.3h0M1815.9 678.9h0M1816.2 675.6h0M1816.0 688.7h0M1816.8 674.1h0M1816.9 673.7h0M1816.5 672.2h0M1816.9 674.4h0M1817.3 684.5h0M1817.9 679.6h0M1818.0 676.2h0M1818.2 671.5h0M1818.4 673.8h0M1818.2 682.0h0M1818.8 679.8h0M1819.2 671.8h0M1819.4 673.1h0M1819.9 673.2h0M1819.5 689.1h0M1819.9 681.2h0M1820.3 671.9h0M1820.5 670.5h0M1820.3 677.7h0M1821.0 676.6h0M1820.6 675.1h0M1821.3 671.0h0M1821.1 687.2h0M1821.4 671.0h0M1821.7 673.4h0M1822.5 670.9h0M1822.2 671.9h0M1822.9 673.3h0M1822.9 674.9h0M1823.3 671.9h0M1823.5 688.8h0M1823.5 693.6h0M1823.9 683.5h0M1824.2 677.4h0M1824.4 679.5h0M1824.3 699.0h0M1824.6 678.5h0M1824.3 680.5h0M1824.5 682.4h0M1824.5 690.1h0M1825.4 673.4h0M1825.5 684.6h0M1825.9 674.3h0M1826.1 675.8h0M1826.4 677.4h0M1826.0 681.8h0M1826.5 673.8h0M1827.0 689.1h0M1826.8 685.5h0M1826.9 683.0h0M1827.5 677.2h0M1827.2 674.4h0M1827.7 691.1h0M1827.6 677.9h0M1828.2 682.8h0M1827.8 689.4h0M1828.1 702.3h0M1828.7 684.9h0M1829.0 702.8h0M1828.8 682.7h0M1829.0 703.5h0M1829.2 701.5h0M1829.8 698.9h0M1830.1 678.2h0M1830.5 694.8h0M1830.4 689.3h0M1830.3 700.0h0M1830.6 698.9h0M1830.9 678.3h0M1831.5 694.8h0M1831.2 701.5h0M1831.6 699.3h0M1831.8 689.8h0M1832.3 692.9h0M1832.4 687.5h0M1832.3 690.0h0M1833.0 690.1h0M1833.0 690.8h0M1833.6 693.0h0M1833.7 681.1h0M1833.7 694.9h0M1833.9 685.8h0M1834.3 686.0h0M1834.2 691.9h0M1834.4 704.8h0M1834.8 692.2h0M1835.1 693.4h0M1835.3 704.7h0M1835.6 700.8h0M1833.6 890.4h0M1834.3 893.4h0M1834.7 896.7h0M1834.9 896.7h0M1835.3 890.1h0M1834.9 891.9h0M1835.2 893.2h0M1835.4 891.6h0M1836.0 892.4h0M1835.9 890.7h0M1836.6 894.1h0M1836.8 895.5h0M1837.0 889.5h0M1837.0 895.8h0M1837.7 895.4h0M1837.5 893.1h0M1837.6 893.3h0M1838.1 889.5h0M1838.5 896.0h0M1838.4 888.9h0M1839.0 889.9h0M1838.9 889.0h0M1839.1 888.6h0M1839.2 891.3h0M1839.8 888.2h0M1839.7 888.2h0M1840.1 888.5h0M1840.3 888.5h0M1840.6 890.3h0M1841.1 888.6h0M1841.1 888.5h0M1841.4 888.5h0M1841.8 888.6h0M1841.7 889.4h0M1842.4 888.8h0M1842.1 888.9h0M1843.0 890.3h0M1842.7 889.1h0M1843.5 889.4h0M1843.5 889.6h0M1843.8 890.8h0M1844.0 889.8h0M1843.9 889.4h0M1844.0 892.3h0M1844.9 890.5h0M1844.5 890.5h0M1845.3 889.6h0M1845.3 889.7h0M1845.4 889.9h0M1845.6 890.0h0M1846.3 890.0h0M1846.5 890.0h0M1846.8 892.7h0M1846.7 890.1h0M1847.1 891.3h0M1848.4 858.2h0M1848.8 863.3h0M1849.5 859.4h0M1849.6 860.8h0M1849.7 850.6h0M1849.8 863.0h0M1850.0 856.0h0M1850.7 851.5h0M1850.6 865.0h0M1850.9 856.9h0M1851.0 862.1h0M1851.5 861.7h0M1851.6 846.1h0M1852.0 864.2h0M1852.4 850.2h0M1852.3 853.0h0M1852.9 853.7h0M1852.6 852.4h0M1853.3 860.9h0M1853.2 864.1h0M1853.9 862.9h0M1853.6 852.8h0M1853.8 863.2h0M1854.4 863.6h0M1854.4 864.8h0M1855.3 853.2h0M1855.2 864.2h0M1855.1 863.9h0M1532.0 885.0h0M1533.0 890.0h0M1534.0 895.0h0M1535.5 888.0h0M1536.5 882.0h0M1537.0 893.0h0M1537.6 880.0h0M1537.6 848.4h0M1537.7 817.6h0M1537.8 790.5h0M1537.8 776.5h0M1537.8 757.3h0M1537.9 747.4h0M1537.9 724.2h0M1538.0 716.0h0M1538.0 706.0h0M1670.5 734.0h0M1670.8 769.0h0M1671.0 797.7h0M1671.3 824.0h0M1671.5 846.8h0M1671.7 866.6h0M1672.0 881.5h0M1672.2 891.5h0M1672.4 901.4h0M1804.0 880.0h0M1807.0 854.0h0M1811.0 818.6h0M1811.5 791.0h0M1812.0 777.9h0M1812.5 769.0h0M1813.0 759.0h0M1813.5 745.7h0M1814.0 735.8h0M1831.0 729.0h0M1831.5 742.4h0M1832.0 765.6h0M1832.5 784.5h0M1833.0 798.7h0M1833.5 810.3h0M1834.0 825.2h0M1834.5 843.5h0M1835.0 858.4h0M1835.5 878.2h0M1846.0 730.8h0M1846.5 737.0h0M1847.0 747.4h0M1847.5 762.0h0M1848.0 775.6h0M1848.5 797.0h0M1849.0 810.0h0M1849.5 820.0h0M1850.0 832.0h0" stroke="#f8a888" stroke-width="6.2" stroke-linecap="round" fill="none"/>
<line x1="1510.20" y1="871.80" x2="1872.00" y2="871.80" stroke="#0b1a8f" stroke-width="3.5" stroke-dasharray="2.8 3.14" stroke-dashoffset="0.78"/>
<line x1="1537.90" y1="591.80" x2="1537.90" y2="975.00" stroke="#8f1a1f" stroke-width="2.5" stroke-dasharray="14.5 9.25" stroke-dashoffset="10.45"/>
</g>
<rect x="1510.20" y="591.80" width="361.80" height="383.20" fill="none" stroke="#000" stroke-width="2.0"/>
<path d="M1510.20 943.07h4.5M1872.00 943.07h-4.5M1510.20 889.84h4.5M1872.00 889.84h-4.5M1510.20 836.62h4.5M1872.00 836.62h-4.5M1510.20 783.40h4.5M1872.00 783.40h-4.5M1510.20 730.18h4.5M1872.00 730.18h-4.5M1510.20 676.96h4.5M1872.00 676.96h-4.5M1510.20 623.73h4.5M1872.00 623.73h-4.5M1526.45 975.00v-4.5M1526.45 591.80v4.5M1533.20 975.00v-4.5M1533.20 591.80v4.5M1582.20 975.00v-4.5M1582.20 591.80v4.5M1670.00 975.00v-4.5M1670.00 591.80v4.5M1757.40 975.00v-4.5M1757.40 591.80v4.5M1811.20 975.00v-4.5M1811.20 591.80v4.5" stroke="#000" stroke-width="2" fill="none"/>
<text x="1506.90" y="950.37" text-anchor="end" font-size="20.5">1.4</text>
<text x="1506.90" y="897.14" text-anchor="end" font-size="20.5">1.6</text>
<text x="1506.90" y="843.92" text-anchor="end" font-size="20.5">1.8</text>
<text x="1506.90" y="790.70" text-anchor="end" font-size="20.5">2</text>
<text x="1506.90" y="737.48" text-anchor="end" font-size="20.5">2.2</text>
<text x="1506.90" y="684.26" text-anchor="end" font-size="20.5">2.4</text>
<text x="1506.90" y="631.03" text-anchor="end" font-size="20.5">2.6</text>
<text transform="translate(1468.70,1046.80) rotate(-45)" font-size="17" textLength="84.6" lengthAdjust="spacingAndGlyphs">2022-09-03</text>
<text transform="translate(1487.10,1046.80) rotate(-45)" font-size="17" textLength="85.0" lengthAdjust="spacingAndGlyphs">2022-11-04</text>
<text transform="translate(1531.20,1046.80) rotate(-45)" font-size="17" textLength="79.0" lengthAdjust="spacingAndGlyphs">2022-12-11</text>
<text transform="translate(1617.70,1046.80) rotate(-45)" font-size="17" textLength="83.6" lengthAdjust="spacingAndGlyphs">2022-12-23</text>
<text transform="translate(1704.60,1046.80) rotate(-45)" font-size="17" textLength="84.6" lengthAdjust="spacingAndGlyphs">2023-01-04</text>
<text transform="translate(1758.00,1046.80) rotate(-45)" font-size="17" textLength="79.3" lengthAdjust="spacingAndGlyphs">2023-01-21</text>
<text x="1670.40" y="1068.20" font-size="21" textLength="39.6" lengthAdjust="spacingAndGlyphs">Date</text>
<text transform="translate(1468.70,783.40) rotate(-90)" text-anchor="middle" font-size="17.5" textLength="81" lengthAdjust="spacingAndGlyphs">Health Index</text>
<text x="1651.30" y="582.40" font-size="20.6" textLength="64.20" lengthAdjust="spacingAndGlyphs">(h) VAE</text>
<text x="1715.50" y="589.50" font-size="12" textLength="6.50" lengthAdjust="spacingAndGlyphs">R</text>
<rect x="1677.40" y="600.60" width="134.30" height="88.10" fill="#fff" stroke="#000" stroke-width="2"/>
<circle cx="1711.90" cy="611.70" r="5.7" fill="#3bc3c8"/>
<text x="1745.00" y="616.90" font-size="14" textLength="28.60" lengthAdjust="spacingAndGlyphs">Train</text>
<circle cx="1711.90" cy="628.20" r="5.7" fill="#80b3de"/>
<text x="1745.00" y="633.40" font-size="14" textLength="58.00" lengthAdjust="spacingAndGlyphs">Validation</text>
<circle cx="1711.90" cy="644.70" r="5.7" fill="#f8a888"/>
<text x="1745.00" y="649.90" font-size="14" textLength="21.70" lengthAdjust="spacingAndGlyphs">Test</text>
<line x1="1683.00" y1="661.20" x2="1739.60" y2="661.20" stroke="#0b1a8f" stroke-width="3.5" stroke-dasharray="2.8 3.14"/>
<text x="1745.00" y="666.40" font-size="14" textLength="54.30" lengthAdjust="spacingAndGlyphs">Threshold</text>
<line x1="1682.90" y1="677.70" x2="1740.90" y2="677.70" stroke="#8f1a1f" stroke-width="2" stroke-dasharray="14.7 9.2"/>
<text x="1745.00" y="682.90" font-size="14" textLength="57.60" lengthAdjust="spacingAndGlyphs">Fault Time</text>
</svg></body></html>
